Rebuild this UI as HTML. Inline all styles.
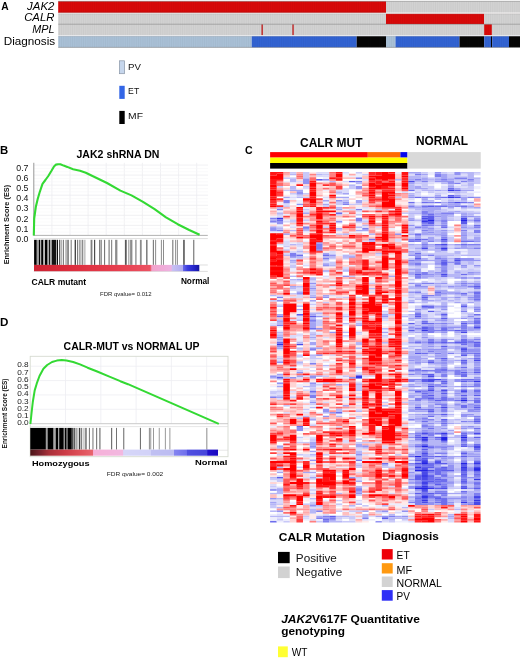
<!DOCTYPE html>
<html><head><meta charset="utf-8"><style>
html,body{margin:0;padding:0;background:#fff;}
body{width:520px;height:658px;position:relative;overflow:hidden;font-family:"Liberation Sans",sans-serif;}
svg{filter:blur(0.3px);}
</style></head><body>
<svg style="position:absolute;left:0;top:0" width="520" height="658" viewBox="0 0 520 658">
<rect x="58.2" y="1.3" width="327.8" height="11.4" fill="#d80a0a"/><rect x="386" y="1.3" width="134" height="11.4" fill="#d2d2d2"/><rect x="58.2" y="13.6" width="327.8" height="10.6" fill="#d2d2d2"/><rect x="386" y="13.6" width="98.2" height="10.6" fill="#d80a0a"/><rect x="484.2" y="13.6" width="35.8" height="10.6" fill="#d2d2d2"/><rect x="58.2" y="24.3" width="461.8" height="11" fill="#d2d2d2"/><rect x="484.2" y="24.3" width="7.6" height="11" fill="#d80a0a"/><rect x="261.5" y="24.3" width="1.3" height="11" fill="#c01818"/><rect x="292.4" y="24.3" width="1.3" height="11" fill="#c01818"/><rect x="58.2" y="36.1" width="193.5" height="11.3" fill="#a9c0d6"/><rect x="251.7" y="36.1" width="105" height="11.3" fill="#3263d2"/><rect x="356.7" y="36.1" width="29.3" height="11.3" fill="#050505"/><rect x="386" y="36.1" width="9.5" height="11.3" fill="#a9c0d6"/><rect x="395.5" y="36.1" width="64" height="11.3" fill="#3263d2"/><rect x="459.5" y="36.1" width="24.7" height="11.3" fill="#050505"/><rect x="484.2" y="36.1" width="6.8" height="11.3" fill="#3263d2"/><rect x="491" y="36.1" width="1.2" height="11.3" fill="#050505"/><rect x="492.2" y="36.1" width="16.8" height="11.3" fill="#3263d2"/><rect x="509" y="36.1" width="11" height="11.3" fill="#050505"/><path d="M59.3 1.3V47.4M61.5 1.3V47.4M63.7 1.3V47.4M65.9 1.3V47.4M68.1 1.3V47.4M70.3 1.3V47.4M72.5 1.3V47.4M74.7 1.3V47.4M76.9 1.3V47.4M79.1 1.3V47.4M81.3 1.3V47.4M83.5 1.3V47.4M85.7 1.3V47.4M87.9 1.3V47.4M90.1 1.3V47.4M92.3 1.3V47.4M94.5 1.3V47.4M96.7 1.3V47.4M98.9 1.3V47.4M101.1 1.3V47.4M103.3 1.3V47.4M105.5 1.3V47.4M107.7 1.3V47.4M109.9 1.3V47.4M112.1 1.3V47.4M114.3 1.3V47.4M116.5 1.3V47.4M118.7 1.3V47.4M120.9 1.3V47.4M123.1 1.3V47.4M125.3 1.3V47.4M127.5 1.3V47.4M129.7 1.3V47.4M131.9 1.3V47.4M134.1 1.3V47.4M136.3 1.3V47.4M138.5 1.3V47.4M140.7 1.3V47.4M142.9 1.3V47.4M145.1 1.3V47.4M147.3 1.3V47.4M149.5 1.3V47.4M151.7 1.3V47.4M153.9 1.3V47.4M156.1 1.3V47.4M158.3 1.3V47.4M160.5 1.3V47.4M162.7 1.3V47.4M164.9 1.3V47.4M167.1 1.3V47.4M169.3 1.3V47.4M171.5 1.3V47.4M173.7 1.3V47.4M175.9 1.3V47.4M178.1 1.3V47.4M180.3 1.3V47.4M182.5 1.3V47.4M184.7 1.3V47.4M186.9 1.3V47.4M189.1 1.3V47.4M191.3 1.3V47.4M193.5 1.3V47.4M195.7 1.3V47.4M197.9 1.3V47.4M200.1 1.3V47.4M202.3 1.3V47.4M204.5 1.3V47.4M206.7 1.3V47.4M208.9 1.3V47.4M211.1 1.3V47.4M213.3 1.3V47.4M215.5 1.3V47.4M217.7 1.3V47.4M219.9 1.3V47.4M222.1 1.3V47.4M224.3 1.3V47.4M226.5 1.3V47.4M228.7 1.3V47.4M230.9 1.3V47.4M233.1 1.3V47.4M235.3 1.3V47.4M237.5 1.3V47.4M239.7 1.3V47.4M241.9 1.3V47.4M244.1 1.3V47.4M246.3 1.3V47.4M248.5 1.3V47.4M250.7 1.3V47.4M252.9 1.3V47.4M255.1 1.3V47.4M257.3 1.3V47.4M259.5 1.3V47.4M261.7 1.3V47.4M263.9 1.3V47.4M266.1 1.3V47.4M268.3 1.3V47.4M270.5 1.3V47.4M272.7 1.3V47.4M274.9 1.3V47.4M277.1 1.3V47.4M279.3 1.3V47.4M281.5 1.3V47.4M283.7 1.3V47.4M285.9 1.3V47.4M288.1 1.3V47.4M290.3 1.3V47.4M292.5 1.3V47.4M294.7 1.3V47.4M296.9 1.3V47.4M299.1 1.3V47.4M301.3 1.3V47.4M303.5 1.3V47.4M305.7 1.3V47.4M307.9 1.3V47.4M310.1 1.3V47.4M312.3 1.3V47.4M314.5 1.3V47.4M316.7 1.3V47.4M318.9 1.3V47.4M321.1 1.3V47.4M323.3 1.3V47.4M325.5 1.3V47.4M327.7 1.3V47.4M329.9 1.3V47.4M332.1 1.3V47.4M334.3 1.3V47.4M336.5 1.3V47.4M338.7 1.3V47.4M340.9 1.3V47.4M343.1 1.3V47.4M345.3 1.3V47.4M347.5 1.3V47.4M349.7 1.3V47.4M351.9 1.3V47.4M354.1 1.3V47.4M356.3 1.3V47.4M358.5 1.3V47.4M360.7 1.3V47.4M362.9 1.3V47.4M365.1 1.3V47.4M367.3 1.3V47.4M369.5 1.3V47.4M371.7 1.3V47.4M373.9 1.3V47.4M376.1 1.3V47.4M378.3 1.3V47.4M380.5 1.3V47.4M382.7 1.3V47.4M384.9 1.3V47.4M387.1 1.3V47.4M389.3 1.3V47.4M391.5 1.3V47.4M393.7 1.3V47.4M395.9 1.3V47.4M398.1 1.3V47.4M400.3 1.3V47.4M402.5 1.3V47.4M404.7 1.3V47.4M406.9 1.3V47.4M409.1 1.3V47.4M411.3 1.3V47.4M413.5 1.3V47.4M415.7 1.3V47.4M417.9 1.3V47.4M420.1 1.3V47.4M422.3 1.3V47.4M424.5 1.3V47.4M426.7 1.3V47.4M428.9 1.3V47.4M431.1 1.3V47.4M433.3 1.3V47.4M435.5 1.3V47.4M437.7 1.3V47.4M439.9 1.3V47.4M442.1 1.3V47.4M444.3 1.3V47.4M446.5 1.3V47.4M448.7 1.3V47.4M450.9 1.3V47.4M453.1 1.3V47.4M455.3 1.3V47.4M457.5 1.3V47.4M459.7 1.3V47.4M461.9 1.3V47.4M464.1 1.3V47.4M466.3 1.3V47.4M468.5 1.3V47.4M470.7 1.3V47.4M472.9 1.3V47.4M475.1 1.3V47.4M477.3 1.3V47.4M479.5 1.3V47.4M481.7 1.3V47.4M483.9 1.3V47.4M486.1 1.3V47.4M488.3 1.3V47.4M490.5 1.3V47.4M492.7 1.3V47.4M494.9 1.3V47.4M497.1 1.3V47.4M499.3 1.3V47.4M501.5 1.3V47.4M503.7 1.3V47.4M505.9 1.3V47.4M508.1 1.3V47.4M510.3 1.3V47.4M512.5 1.3V47.4M514.7 1.3V47.4M516.9 1.3V47.4M519.1 1.3V47.4" stroke="#000" stroke-opacity="0.06" stroke-width="0.6"/><rect x="58.2" y="12.7" width="461.8" height="0.9" fill="#eeeaea"/><rect x="58.2" y="35.3" width="461.8" height="0.8" fill="#e8eaee"/><path d="M58.2 24.25H520M58.2 47.4H520M58.2 1.3H520" stroke="#6a6a6a" stroke-opacity="0.6" stroke-width="0.8"/><path d="M58.2 13.9H520M58.2 36.4H520" stroke="#808080" stroke-opacity="0.35" stroke-width="0.6"/><path d="M58.2 12.3H386" stroke="#900" stroke-opacity="0.6" stroke-width="0.8"/>
<g font-family="'Liberation Sans', sans-serif">
<text x="1.2" y="9.6" font-size="10" font-weight="bold" font-style="normal" text-anchor="start" fill="#000" textLength="7.4" lengthAdjust="spacingAndGlyphs">A</text>
<text x="27.1" y="9.6" font-size="10.6" font-weight="normal" font-style="italic" text-anchor="start" fill="#000" textLength="27.3" lengthAdjust="spacingAndGlyphs">JAK2</text>
<text x="24.2" y="21.3" font-size="10.6" font-weight="normal" font-style="italic" text-anchor="start" fill="#000" textLength="30.2" lengthAdjust="spacingAndGlyphs">CALR</text>
<text x="32.3" y="32.6" font-size="10.6" font-weight="normal" font-style="italic" text-anchor="start" fill="#000" textLength="22.2" lengthAdjust="spacingAndGlyphs">MPL</text>
<text x="3.7" y="44.5" font-size="10.6" font-weight="normal" font-style="normal" text-anchor="start" fill="#000" textLength="51.5" lengthAdjust="spacingAndGlyphs">Diagnosis</text>
<rect x="119.4" y="60.8" width="5.2" height="12.9" fill="#c6d6ec" stroke="#8a96a6" stroke-width="0.7"/>
<rect x="119.3" y="85.8" width="5.4" height="13.1" fill="#3366e6"/>
<rect x="119.3" y="110.9" width="5.4" height="13.1" fill="#000"/>
<text x="128.1" y="69.6" font-size="9.6" font-weight="normal" font-style="normal" text-anchor="start" fill="#111" textLength="12.9" lengthAdjust="spacingAndGlyphs">PV</text>
<text x="128.1" y="93.8" font-size="9.6" font-weight="normal" font-style="normal" text-anchor="start" fill="#111" textLength="11.1" lengthAdjust="spacingAndGlyphs">ET</text>
<text x="128.1" y="118.9" font-size="9.6" font-weight="normal" font-style="normal" text-anchor="start" fill="#111" textLength="14.9" lengthAdjust="spacingAndGlyphs">MF</text>
<text x="0" y="153.9" font-size="11" font-weight="bold" font-style="normal" text-anchor="start" fill="#000" textLength="8.2" lengthAdjust="spacingAndGlyphs">B</text>
<text x="76.5" y="157.7" font-size="10.4" font-weight="bold" font-style="normal" text-anchor="start" fill="#000" textLength="82.9" lengthAdjust="spacingAndGlyphs">JAK2 shRNA DN</text>
<path d="M51.9 162.8V235M70 162.8V235M88.1 162.8V235M106.2 162.8V235M124.3 162.8V235M142.4 162.8V235M160.5 162.8V235M178.6 162.8V235M196.7 162.8V235M34 225.35H208M34 215.3H208M34 205.25H208M34 195.2H208M34 185.15H208M34 175.1H208M34 165.05H208" stroke="#ececf0" stroke-width="0.8"/>
<path d="M34 232.08H208M34 228.77H208M34 222.03H208M34 218.72H208M34 211.98H208M34 208.67H208M34 201.93H208M34 198.62H208M34 191.88H208M34 188.57H208M34 181.83H208M34 178.52H208M34 171.78H208M34 168.47H208" stroke="#f6f6f8" stroke-width="0.6"/>
<path d="M33.8 162.8V235.6" stroke="#8c8c8c" stroke-width="0.9"/>
<path d="M33.8 235.4H207.8" stroke="#a8a8a8" stroke-width="0.9"/>
<path d="M33.8 238.6H207.8M199.3 265H207.8M33.8 271.4H207.8" stroke="#d0d0d0" stroke-width="0.7"/>
<text x="28.5" y="170.55" font-size="9.4" font-weight="normal" font-style="normal" text-anchor="end" fill="#111" textLength="12.2" lengthAdjust="spacingAndGlyphs">0.7</text>
<text x="28.5" y="180.77" font-size="9.4" font-weight="normal" font-style="normal" text-anchor="end" fill="#111" textLength="12.2" lengthAdjust="spacingAndGlyphs">0.6</text>
<text x="28.5" y="190.99" font-size="9.4" font-weight="normal" font-style="normal" text-anchor="end" fill="#111" textLength="12.2" lengthAdjust="spacingAndGlyphs">0.5</text>
<text x="28.5" y="201.21" font-size="9.4" font-weight="normal" font-style="normal" text-anchor="end" fill="#111" textLength="12.2" lengthAdjust="spacingAndGlyphs">0.4</text>
<text x="28.5" y="211.43" font-size="9.4" font-weight="normal" font-style="normal" text-anchor="end" fill="#111" textLength="12.2" lengthAdjust="spacingAndGlyphs">0.3</text>
<text x="28.5" y="221.65" font-size="9.4" font-weight="normal" font-style="normal" text-anchor="end" fill="#111" textLength="12.2" lengthAdjust="spacingAndGlyphs">0.2</text>
<text x="28.5" y="231.87" font-size="9.4" font-weight="normal" font-style="normal" text-anchor="end" fill="#111" textLength="12.2" lengthAdjust="spacingAndGlyphs">0.1</text>
<text x="28.5" y="242.09" font-size="9.4" font-weight="normal" font-style="normal" text-anchor="end" fill="#111" textLength="12.2" lengthAdjust="spacingAndGlyphs">0.0</text>
<text transform="translate(9.1,224.6) rotate(-90)" x="0" y="0" font-size="7.1" font-weight="bold" text-anchor="middle" textLength="79.4" lengthAdjust="spacingAndGlyphs" fill="#111">Enrichment Score (ES)</text>
<rect x="34.1" y="239.8" width="2.7" height="25.1" fill="#000000"/>
<rect x="36.8" y="239.8" width="2.1" height="25.1" fill="#9e9e9e"/>
<rect x="38.9" y="239.8" width="1.2" height="25.1" fill="#000000"/>
<rect x="40.1" y="239.8" width="1.1" height="25.1" fill="#adadad"/>
<rect x="41.2" y="239.8" width="2.3" height="25.1" fill="#000000"/>
<rect x="43.5" y="239.8" width="1.4" height="25.1" fill="#cccccc"/>
<rect x="44.9" y="239.8" width="2.7" height="25.1" fill="#000000"/>
<rect x="47.6" y="239.8" width="1.5" height="25.1" fill="#adadad"/>
<rect x="49.1" y="239.8" width="1.1" height="25.1" fill="#000000"/>
<rect x="50.2" y="239.8" width="1.6" height="25.1" fill="#a8a8a8"/>
<rect x="51.8" y="239.8" width="4.4" height="25.1" fill="#141414"/>
<rect x="56.8" y="239.8" width="1.2" height="25.1" fill="#0d0d0d"/>
<rect x="59.1" y="239.8" width="1.2" height="25.1" fill="#4c4c4c"/>
<rect x="61.4" y="239.8" width="0.8" height="25.1" fill="#808080"/>
<rect x="63" y="239.8" width="1" height="25.1" fill="#808080"/>
<rect x="65.5" y="239.8" width="1.1" height="25.1" fill="#8c8c8c"/>
<rect x="67.2" y="239.8" width="1.7" height="25.1" fill="#808080"/>
<rect x="70.6" y="239.8" width="1.2" height="25.1" fill="#8c8c8c"/>
<rect x="74.7" y="239.8" width="1.1" height="25.1" fill="#1a1a1a"/>
<rect x="77" y="239.8" width="1.2" height="25.1" fill="#808080"/>
<rect x="79.3" y="239.8" width="1.2" height="25.1" fill="#808080"/>
<rect x="81.6" y="239.8" width="1.7" height="25.1" fill="#8c8c8c"/>
<rect x="84.5" y="239.8" width="0.8" height="25.1" fill="#8c8c8c"/>
<rect x="90.6" y="239.8" width="1.8" height="25.1" fill="#808080"/>
<rect x="94" y="239.8" width="1.2" height="25.1" fill="#4c4c4c"/>
<rect x="99" y="239.8" width="1.5" height="25.1" fill="#808080"/>
<rect x="100.9" y="239.8" width="0.9" height="25.1" fill="#808080"/>
<rect x="104.2" y="239.8" width="0.9" height="25.1" fill="#595959"/>
<rect x="108.5" y="239.8" width="1.2" height="25.1" fill="#808080"/>
<rect x="111.1" y="239.8" width="1.1" height="25.1" fill="#808080"/>
<rect x="115.1" y="239.8" width="2.3" height="25.1" fill="#8c8c8c"/>
<rect x="124.9" y="239.8" width="1.8" height="25.1" fill="#595959"/>
<rect x="128.4" y="239.8" width="0.9" height="25.1" fill="#808080"/>
<rect x="130.1" y="239.8" width="2.3" height="25.1" fill="#8c8c8c"/>
<rect x="135.3" y="239.8" width="1.2" height="25.1" fill="#808080"/>
<rect x="139.9" y="239.8" width="1.8" height="25.1" fill="#8c8c8c"/>
<rect x="146.3" y="239.8" width="1.1" height="25.1" fill="#4c4c4c"/>
<rect x="152.8" y="239.8" width="1.2" height="25.1" fill="#808080"/>
<rect x="155.2" y="239.8" width="0.9" height="25.1" fill="#808080"/>
<rect x="160.9" y="239.8" width="0.9" height="25.1" fill="#808080"/>
<rect x="163" y="239.8" width="0.9" height="25.1" fill="#808080"/>
<rect x="172.2" y="239.8" width="1.2" height="25.1" fill="#808080"/>
<rect x="175.1" y="239.8" width="0.8" height="25.1" fill="#808080"/>
<rect x="176.8" y="239.8" width="1" height="25.1" fill="#808080"/>
<rect x="183.2" y="239.8" width="1.5" height="25.1" fill="#4c4c4c"/>
<rect x="193" y="239.8" width="1.4" height="25.1" fill="#8c8c8c"/>
<defs><linearGradient id="gB" x1="34" x2="199.3" y1="0" y2="0" gradientUnits="userSpaceOnUse"><stop offset="0" stop-color="#cc2232"/><stop offset="0.2" stop-color="#dc2c3c"/><stop offset="0.5" stop-color="#e63e4e"/><stop offset="0.7" stop-color="#ec5262"/><stop offset="0.708" stop-color="#f06a80"/><stop offset="0.712" stop-color="#f2a2ca"/><stop offset="0.83" stop-color="#eeb2e2"/><stop offset="0.836" stop-color="#c8c0f2"/><stop offset="0.9" stop-color="#b0acf0"/><stop offset="0.904" stop-color="#6464e8"/><stop offset="0.93" stop-color="#3a3ade"/><stop offset="0.97" stop-color="#2424c8"/><stop offset="1" stop-color="#14149e"/></linearGradient><linearGradient id="gD" x1="30.25" x2="218" y1="0" y2="0" gradientUnits="userSpaceOnUse"><stop offset="0" stop-color="#4a1416"/><stop offset="0.045" stop-color="#70202a"/><stop offset="0.1" stop-color="#a83038"/><stop offset="0.185" stop-color="#cc3c46"/><stop offset="0.265" stop-color="#de5058"/><stop offset="0.334" stop-color="#e8646e"/><stop offset="0.337" stop-color="#f6b0d8"/><stop offset="0.494" stop-color="#f2b8e0"/><stop offset="0.497" stop-color="#d6d6f8"/><stop offset="0.641" stop-color="#d2d2f8"/><stop offset="0.645" stop-color="#c0c0f2"/><stop offset="0.765" stop-color="#bcbcf2"/><stop offset="0.768" stop-color="#8484f0"/><stop offset="0.832" stop-color="#7070ec"/><stop offset="0.835" stop-color="#5050e0"/><stop offset="0.942" stop-color="#4646da"/><stop offset="0.945" stop-color="#2212cc"/><stop offset="1" stop-color="#1a0ac0"/></linearGradient></defs>
<rect x="34" y="264.9" width="165.3" height="6.3" fill="url(#gB)"/>
<polyline points="33.8,235.4 34.2,218.5 35.8,207 37.7,199 39.6,192.5 42.5,183.8 45.4,180 48.3,176 51.2,171.3 54,166.5 56,164.6 58,164.2 60.4,164.3 63.6,165.6 67.3,166.9 73.1,169.3 80,170.8 85.8,172.7 93.5,176.5 107,183 120.4,190.6 131.5,195.4 143,201.8 154.6,209.2 166,217.3 177.7,224.2 189.2,230 199.6,234.8" fill="none" stroke="#33d933" stroke-width="2.1" stroke-linejoin="round"/>
<text x="31.5" y="284.8" font-size="8.4" font-weight="bold" font-style="normal" text-anchor="start" fill="#000" textLength="54.7" lengthAdjust="spacingAndGlyphs">CALR mutant</text>
<text x="180.9" y="283.5" font-size="8.4" font-weight="bold" font-style="normal" text-anchor="start" fill="#000" textLength="28.5" lengthAdjust="spacingAndGlyphs">Normal</text>
<text x="100" y="295.8" font-size="6" font-weight="normal" font-style="normal" text-anchor="start" fill="#222" textLength="51.7" lengthAdjust="spacingAndGlyphs">FDR qvalue= 0.012</text>
<text x="0" y="326.3" font-size="10.6" font-weight="bold" font-style="normal" text-anchor="start" fill="#000" textLength="8.4" lengthAdjust="spacingAndGlyphs">D</text>
<text x="63.6" y="349.8" font-size="10.5" font-weight="bold" font-style="normal" text-anchor="start" fill="#000" textLength="136" lengthAdjust="spacingAndGlyphs">CALR-MUT vs NORMAL UP</text>
<path d="M65.5 356.5V423.5M100.8 356.5V423.5M136.1 356.5V423.5M171.4 356.5V423.5M206.7 356.5V423.5M30.5 409.32H227.8M30.5 394.94H227.8M30.5 380.56H227.8M30.5 366.18H227.8" stroke="#ededf2" stroke-width="0.8"/>
<rect x="30.2" y="356.3" width="197.8" height="100.4" fill="none" stroke="#d6dad0" stroke-width="0.9"/>
<path d="M30.2 423.7H228" stroke="#c4c4c4" stroke-width="0.9"/>
<path d="M30.2 426.6H228M218 450.2H228" stroke="#dcdcdc" stroke-width="0.7"/>
<rect x="30.25" y="427.9" width="15.65" height="21.7" fill="#000000"/>
<rect x="45.9" y="427.9" width="1.7" height="21.7" fill="#9e9e9e"/>
<rect x="47.6" y="427.9" width="6" height="21.7" fill="#000000"/>
<rect x="53.6" y="427.9" width="2.1" height="21.7" fill="#a8a8a8"/>
<rect x="55.7" y="427.9" width="2.5" height="21.7" fill="#000000"/>
<rect x="58.2" y="427.9" width="1" height="21.7" fill="#999999"/>
<rect x="59.2" y="427.9" width="4.6" height="21.7" fill="#000000"/>
<rect x="63.8" y="427.9" width="1.1" height="21.7" fill="#999999"/>
<rect x="64.9" y="427.9" width="1.8" height="21.7" fill="#000000"/>
<rect x="66.7" y="427.9" width="0.8" height="21.7" fill="#999999"/>
<rect x="67.5" y="427.9" width="4.3" height="21.7" fill="#000000"/>
<rect x="71.8" y="427.9" width="1.8" height="21.7" fill="#4c4c4c"/>
<rect x="74.2" y="427.9" width="1.1" height="21.7" fill="#333333"/>
<rect x="75.9" y="427.9" width="1.7" height="21.7" fill="#a6a6a6"/>
<rect x="78.8" y="427.9" width="1.2" height="21.7" fill="#404040"/>
<rect x="80.5" y="427.9" width="1.7" height="21.7" fill="#808080"/>
<rect x="83.4" y="427.9" width="1.1" height="21.7" fill="#b2b2b2"/>
<rect x="85.1" y="427.9" width="1.7" height="21.7" fill="#808080"/>
<rect x="88.9" y="427.9" width="1.1" height="21.7" fill="#808080"/>
<rect x="92.4" y="427.9" width="1.1" height="21.7" fill="#808080"/>
<rect x="96" y="427.9" width="1.2" height="21.7" fill="#808080"/>
<rect x="99.3" y="427.9" width="1.2" height="21.7" fill="#737373"/>
<rect x="111" y="427.9" width="1.2" height="21.7" fill="#737373"/>
<rect x="116" y="427.9" width="1" height="21.7" fill="#737373"/>
<rect x="123.2" y="427.9" width="1.1" height="21.7" fill="#737373"/>
<rect x="139.9" y="427.9" width="1.1" height="21.7" fill="#737373"/>
<rect x="148.9" y="427.9" width="0.9" height="21.7" fill="#808080"/>
<rect x="150.4" y="427.9" width="0.8" height="21.7" fill="#808080"/>
<rect x="153.1" y="427.9" width="0.8" height="21.7" fill="#808080"/>
<rect x="158.8" y="427.9" width="0.8" height="21.7" fill="#808080"/>
<rect x="164.9" y="427.9" width="0.8" height="21.7" fill="#808080"/>
<rect x="169.5" y="427.9" width="0.8" height="21.7" fill="#808080"/>
<rect x="206.4" y="427.9" width="0.9" height="21.7" fill="#808080"/>
<rect x="30.25" y="449.6" width="187.75" height="6.1" fill="url(#gD)"/>
<polyline points="30.4,424 31.5,413.5 32.8,402 34.7,390.4 36.7,383.7 39.5,376 43.4,368.8 47.2,365 52,362 56.8,360.6 61.7,360 66.5,360.6 73.2,362 80,364.4 87.6,367.7 97.2,371.5 108.8,376.3 120.3,381.2 128,384.2 218.8,423.9" fill="none" stroke="#33d933" stroke-width="2" stroke-linejoin="round"/>
<text x="28.7" y="367.45" font-size="7.3" font-weight="normal" font-style="normal" text-anchor="end" fill="#222" textLength="11.5" lengthAdjust="spacingAndGlyphs">0.8</text>
<text x="28.7" y="374.68" font-size="7.3" font-weight="normal" font-style="normal" text-anchor="end" fill="#222" textLength="11.5" lengthAdjust="spacingAndGlyphs">0.7</text>
<text x="28.7" y="381.91" font-size="7.3" font-weight="normal" font-style="normal" text-anchor="end" fill="#222" textLength="11.5" lengthAdjust="spacingAndGlyphs">0.6</text>
<text x="28.7" y="389.14" font-size="7.3" font-weight="normal" font-style="normal" text-anchor="end" fill="#222" textLength="11.5" lengthAdjust="spacingAndGlyphs">0.5</text>
<text x="28.7" y="396.37" font-size="7.3" font-weight="normal" font-style="normal" text-anchor="end" fill="#222" textLength="11.5" lengthAdjust="spacingAndGlyphs">0.4</text>
<text x="28.7" y="403.6" font-size="7.3" font-weight="normal" font-style="normal" text-anchor="end" fill="#222" textLength="11.5" lengthAdjust="spacingAndGlyphs">0.3</text>
<text x="28.7" y="410.83" font-size="7.3" font-weight="normal" font-style="normal" text-anchor="end" fill="#222" textLength="11.5" lengthAdjust="spacingAndGlyphs">0.2</text>
<text x="28.7" y="418.06" font-size="7.3" font-weight="normal" font-style="normal" text-anchor="end" fill="#222" textLength="11.5" lengthAdjust="spacingAndGlyphs">0.1</text>
<text x="28.7" y="425.29" font-size="7.3" font-weight="normal" font-style="normal" text-anchor="end" fill="#222" textLength="11.5" lengthAdjust="spacingAndGlyphs">0.0</text>
<text transform="translate(7.2,413.5) rotate(-90)" x="0" y="0" font-size="7" font-weight="bold" text-anchor="middle" textLength="69.8" lengthAdjust="spacingAndGlyphs" fill="#111">Enrichment Score (ES)</text>
<text x="31.9" y="465.8" font-size="7.4" font-weight="bold" font-style="normal" text-anchor="start" fill="#000" textLength="57.7" lengthAdjust="spacingAndGlyphs">Homozygous</text>
<text x="195" y="464.6" font-size="7.4" font-weight="bold" font-style="normal" text-anchor="start" fill="#000" textLength="32.3" lengthAdjust="spacingAndGlyphs">Normal</text>
<text x="106.7" y="476.1" font-size="6" font-weight="normal" font-style="normal" text-anchor="start" fill="#222" textLength="56.5" lengthAdjust="spacingAndGlyphs">FDR qvalue= 0.002</text>
<text x="245" y="153.9" font-size="11" font-weight="bold" font-style="normal" text-anchor="start" fill="#000" textLength="7.6" lengthAdjust="spacingAndGlyphs">C</text>
<text x="300" y="146.7" font-size="12" font-weight="bold" font-style="normal" text-anchor="start" fill="#000" textLength="62.5" lengthAdjust="spacingAndGlyphs">CALR MUT</text>
<text x="416" y="145.2" font-size="12" font-weight="bold" font-style="normal" text-anchor="start" fill="#000" textLength="52" lengthAdjust="spacingAndGlyphs">NORMAL</text>
<rect x="270.1" y="152.1" width="97.7" height="5.5" fill="#ff0000"/>
<rect x="367.8" y="152.1" width="32.6" height="5.5" fill="#ff6a00"/>
<rect x="400.4" y="152.1" width="7.1" height="5.5" fill="#0808ee"/>
<rect x="270.1" y="157.6" width="137.4" height="5.4" fill="#ffff00"/>
<rect x="270.1" y="163" width="137.4" height="5.6" fill="#000000"/>
<rect x="407.5" y="152.1" width="73.25" height="16.5" fill="#d9d9d9"/>
<filter id="bl" x="-2%" y="-2%" width="104%" height="104%"><feGaussianBlur stdDeviation="0.45"/></filter><g filter="url(#bl)">
<path fill="#2424e4" d="M427.9 219.3h6.62v1.8h-6.62zM460.77 219.3h6.62v1.8h-6.62zM460.77 399.76h6.62v1.8h-6.62zM421.33 436.55h6.62v1.8h-6.62zM441.05 436.55h6.62v1.8h-6.62zM460.77 436.55h6.62v1.8h-6.62zM441.05 438.3h6.62v1.8h-6.62zM421.33 445.31h6.62v1.8h-6.62zM414.75 455.82h6.62v1.8h-6.62zM421.33 462.83h6.62v1.8h-6.62zM460.77 462.83h6.62v1.8h-6.62zM473.93 468.09h6.62v1.8h-6.62zM414.75 469.84h6.62v1.8h-6.62zM421.33 469.84h6.62v1.8h-6.62zM414.75 487.36h6.62v1.8h-6.62zM421.33 487.36h6.62v1.8h-6.62zM421.33 496.12h6.62v1.8h-6.62z"/>
<path fill="#3636e6" d="M447.62 189.52h6.62v1.8h-6.62zM447.62 196.53h6.62v1.8h-6.62zM276.68 217.55h6.62v1.8h-6.62zM421.33 221.06h6.62v1.8h-6.62zM441.05 247.34h6.62v1.8h-6.62zM421.33 329.68h6.62v1.8h-6.62zM276.68 343.7h6.62v1.8h-6.62zM355.58 375.23h6.62v1.8h-6.62zM355.58 376.98h6.62v1.8h-6.62zM473.93 380.49h6.62v1.8h-6.62zM441.05 433.05h6.62v1.8h-6.62zM421.33 438.3h6.62v1.8h-6.62zM421.33 461.08h6.62v1.8h-6.62zM473.93 462.83h6.62v1.8h-6.62zM414.75 466.34h6.62v1.8h-6.62zM460.77 466.34h6.62v1.8h-6.62zM473.93 469.84h6.62v1.8h-6.62zM421.33 475.1h6.62v1.8h-6.62zM473.93 478.6h6.62v1.8h-6.62zM421.33 482.1h6.62v1.8h-6.62zM421.33 485.61h6.62v1.8h-6.62zM427.9 487.36h6.62v1.8h-6.62zM473.93 496.12h6.62v1.8h-6.62zM421.33 499.62h6.62v1.8h-6.62zM473.93 499.62h6.62v1.8h-6.62zM460.77 501.38h6.62v1.8h-6.62z"/>
<path fill="#4848e8" d="M408.18 180.76h6.62v1.8h-6.62zM454.2 196.53h6.62v1.8h-6.62zM454.2 201.78h6.62v1.8h-6.62zM421.33 217.55h6.62v1.8h-6.62zM460.77 217.55h6.62v1.8h-6.62zM441.05 238.58h6.62v1.8h-6.62zM441.05 243.83h6.62v1.8h-6.62zM421.33 247.34h6.62v1.8h-6.62zM454.2 259.6h6.62v1.8h-6.62zM441.05 273.62h6.62v1.8h-6.62zM473.93 326.18h6.62v1.8h-6.62zM460.77 331.43h6.62v1.8h-6.62zM296.4 343.7h6.62v1.8h-6.62zM460.77 348.95h6.62v1.8h-6.62zM473.93 359.46h6.62v1.8h-6.62zM427.9 375.23h6.62v1.8h-6.62zM427.9 378.74h6.62v1.8h-6.62zM434.48 378.74h6.62v1.8h-6.62zM427.9 380.49h6.62v1.8h-6.62zM427.9 385.74h6.62v1.8h-6.62zM427.9 389.25h6.62v1.8h-6.62zM441.05 389.25h6.62v1.8h-6.62zM460.77 391h6.62v1.8h-6.62zM441.05 406.77h6.62v1.8h-6.62zM421.33 433.05h6.62v1.8h-6.62zM473.93 433.05h6.62v1.8h-6.62zM421.33 440.06h6.62v1.8h-6.62zM441.05 440.06h6.62v1.8h-6.62zM473.93 445.31h6.62v1.8h-6.62zM473.93 447.06h6.62v1.8h-6.62zM421.33 452.32h6.62v1.8h-6.62zM421.33 459.33h6.62v1.8h-6.62zM434.48 461.08h6.62v1.8h-6.62zM414.75 462.83h6.62v1.8h-6.62zM473.93 466.34h6.62v1.8h-6.62zM421.33 468.09h6.62v1.8h-6.62zM460.77 468.09h6.62v1.8h-6.62zM427.9 469.84h6.62v1.8h-6.62zM460.77 469.84h6.62v1.8h-6.62zM421.33 471.59h6.62v1.8h-6.62zM421.33 473.34h6.62v1.8h-6.62zM421.33 476.85h6.62v1.8h-6.62zM421.33 478.6h6.62v1.8h-6.62zM441.05 487.36h6.62v1.8h-6.62zM460.77 487.36h6.62v1.8h-6.62zM421.33 489.11h6.62v1.8h-6.62zM421.33 501.38h6.62v1.8h-6.62zM473.93 501.38h6.62v1.8h-6.62zM473.93 503.13h6.62v1.8h-6.62z"/>
<path fill="#5b5beb" d="M316.12 179.01h6.62v1.8h-6.62zM349 180.76h6.62v1.8h-6.62zM454.2 189.52h6.62v1.8h-6.62zM447.62 194.78h6.62v1.8h-6.62zM427.9 205.29h6.62v1.8h-6.62zM421.33 215.8h6.62v1.8h-6.62zM427.9 215.8h6.62v1.8h-6.62zM427.9 217.55h6.62v1.8h-6.62zM421.33 219.3h6.62v1.8h-6.62zM427.9 221.06h6.62v1.8h-6.62zM460.77 221.06h6.62v1.8h-6.62zM427.9 222.81h6.62v1.8h-6.62zM460.77 222.81h6.62v1.8h-6.62zM414.75 238.58h6.62v1.8h-6.62zM414.75 257.85h6.62v1.8h-6.62zM441.05 261.35h6.62v1.8h-6.62zM441.05 263.1h6.62v1.8h-6.62zM414.75 273.62h6.62v1.8h-6.62zM473.93 285.88h6.62v1.8h-6.62zM421.33 296.39h6.62v1.8h-6.62zM421.33 305.15h6.62v1.8h-6.62zM460.77 305.15h6.62v1.8h-6.62zM427.9 310.41h6.62v1.8h-6.62zM296.4 313.91h6.62v1.8h-6.62zM441.05 313.91h6.62v1.8h-6.62zM309.55 315.66h6.62v1.8h-6.62zM414.75 315.66h6.62v1.8h-6.62zM441.05 317.42h6.62v1.8h-6.62zM408.18 322.67h6.62v1.8h-6.62zM421.33 322.67h6.62v1.8h-6.62zM460.77 322.67h6.62v1.8h-6.62zM421.33 326.18h6.62v1.8h-6.62zM421.33 327.93h6.62v1.8h-6.62zM408.18 329.68h6.62v1.8h-6.62zM454.2 329.68h6.62v1.8h-6.62zM427.9 341.94h6.62v1.8h-6.62zM441.05 341.94h6.62v1.8h-6.62zM454.2 341.94h6.62v1.8h-6.62zM460.77 341.94h6.62v1.8h-6.62zM473.93 341.94h6.62v1.8h-6.62zM441.05 345.45h6.62v1.8h-6.62zM460.77 347.2h6.62v1.8h-6.62zM414.75 352.46h6.62v1.8h-6.62zM460.77 354.21h6.62v1.8h-6.62zM441.05 357.71h6.62v1.8h-6.62zM460.77 359.46h6.62v1.8h-6.62zM427.9 361.22h6.62v1.8h-6.62zM460.77 371.73h6.62v1.8h-6.62zM473.93 371.73h6.62v1.8h-6.62zM427.9 373.48h6.62v1.8h-6.62zM276.68 376.98h6.62v1.8h-6.62zM421.33 378.74h6.62v1.8h-6.62zM421.33 380.49h6.62v1.8h-6.62zM441.05 380.49h6.62v1.8h-6.62zM460.77 380.49h6.62v1.8h-6.62zM460.77 389.25h6.62v1.8h-6.62zM414.75 391h6.62v1.8h-6.62zM441.05 392.75h6.62v1.8h-6.62zM427.9 394.5h6.62v1.8h-6.62zM460.77 394.5h6.62v1.8h-6.62zM473.93 394.5h6.62v1.8h-6.62zM427.9 398.01h6.62v1.8h-6.62zM460.77 398.01h6.62v1.8h-6.62zM434.48 399.76h6.62v1.8h-6.62zM414.75 406.77h6.62v1.8h-6.62zM473.93 406.77h6.62v1.8h-6.62zM427.9 410.27h6.62v1.8h-6.62zM441.05 413.78h6.62v1.8h-6.62zM441.05 419.03h6.62v1.8h-6.62zM473.93 420.78h6.62v1.8h-6.62zM460.77 434.8h6.62v1.8h-6.62zM414.75 436.55h6.62v1.8h-6.62zM434.48 436.55h6.62v1.8h-6.62zM473.93 436.55h6.62v1.8h-6.62zM460.77 438.3h6.62v1.8h-6.62zM460.77 440.06h6.62v1.8h-6.62zM460.77 445.31h6.62v1.8h-6.62zM421.33 448.82h6.62v1.8h-6.62zM460.77 452.32h6.62v1.8h-6.62zM434.48 455.82h6.62v1.8h-6.62zM460.77 455.82h6.62v1.8h-6.62zM421.33 457.58h6.62v1.8h-6.62zM414.75 459.33h6.62v1.8h-6.62zM473.93 461.08h6.62v1.8h-6.62zM434.48 462.83h6.62v1.8h-6.62zM441.05 462.83h6.62v1.8h-6.62zM460.77 464.58h6.62v1.8h-6.62zM421.33 466.34h6.62v1.8h-6.62zM427.9 466.34h6.62v1.8h-6.62zM441.05 466.34h6.62v1.8h-6.62zM441.05 469.84h6.62v1.8h-6.62zM447.62 469.84h6.62v1.8h-6.62zM460.77 473.34h6.62v1.8h-6.62zM414.75 475.1h6.62v1.8h-6.62zM427.9 475.1h6.62v1.8h-6.62zM276.68 476.85h6.62v1.8h-6.62zM414.75 476.85h6.62v1.8h-6.62zM414.75 478.6h6.62v1.8h-6.62zM434.48 478.6h6.62v1.8h-6.62zM421.33 480.35h6.62v1.8h-6.62zM427.9 480.35h6.62v1.8h-6.62zM460.77 480.35h6.62v1.8h-6.62zM421.33 483.86h6.62v1.8h-6.62zM434.48 483.86h6.62v1.8h-6.62zM460.77 485.61h6.62v1.8h-6.62zM434.48 487.36h6.62v1.8h-6.62zM473.93 487.36h6.62v1.8h-6.62zM421.33 490.86h6.62v1.8h-6.62zM414.75 492.62h6.62v1.8h-6.62zM427.9 492.62h6.62v1.8h-6.62zM421.33 494.37h6.62v1.8h-6.62zM421.33 497.87h6.62v1.8h-6.62zM434.48 497.87h6.62v1.8h-6.62zM329.28 515.39h6.62v1.8h-6.62zM381.88 517.14h6.62v1.8h-6.62z"/>
<path fill="#6d6ded" d="M447.62 187.77h6.62v1.8h-6.62zM408.18 189.52h6.62v1.8h-6.62zM414.75 196.53h6.62v1.8h-6.62zM441.05 196.53h6.62v1.8h-6.62zM408.18 201.78h6.62v1.8h-6.62zM421.33 201.78h6.62v1.8h-6.62zM434.48 201.78h6.62v1.8h-6.62zM460.77 201.78h6.62v1.8h-6.62zM421.33 205.29h6.62v1.8h-6.62zM434.48 205.29h6.62v1.8h-6.62zM441.05 205.29h6.62v1.8h-6.62zM460.77 205.29h6.62v1.8h-6.62zM335.85 212.3h6.62v1.8h-6.62zM427.9 214.05h6.62v1.8h-6.62zM276.68 219.3h6.62v1.8h-6.62zM473.93 219.3h6.62v1.8h-6.62zM421.33 224.56h6.62v1.8h-6.62zM473.93 224.56h6.62v1.8h-6.62zM441.05 226.31h6.62v1.8h-6.62zM414.75 233.32h6.62v1.8h-6.62zM368.73 238.58h6.62v1.8h-6.62zM421.33 238.58h6.62v1.8h-6.62zM408.18 240.33h6.62v1.8h-6.62zM441.05 240.33h6.62v1.8h-6.62zM460.77 240.33h6.62v1.8h-6.62zM467.35 240.33h6.62v1.8h-6.62zM434.48 243.83h6.62v1.8h-6.62zM460.77 243.83h6.62v1.8h-6.62zM441.05 249.09h6.62v1.8h-6.62zM414.75 252.59h6.62v1.8h-6.62zM296.4 254.34h6.62v1.8h-6.62zM322.7 254.34h6.62v1.8h-6.62zM454.2 257.85h6.62v1.8h-6.62zM441.05 259.6h6.62v1.8h-6.62zM414.75 263.1h6.62v1.8h-6.62zM454.2 263.1h6.62v1.8h-6.62zM460.77 273.62h6.62v1.8h-6.62zM441.05 275.37h6.62v1.8h-6.62zM434.48 291.14h6.62v1.8h-6.62zM473.93 291.14h6.62v1.8h-6.62zM460.77 292.89h6.62v1.8h-6.62zM473.93 292.89h6.62v1.8h-6.62zM473.93 298.14h6.62v1.8h-6.62zM427.9 305.15h6.62v1.8h-6.62zM427.9 306.9h6.62v1.8h-6.62zM414.75 313.91h6.62v1.8h-6.62zM473.93 313.91h6.62v1.8h-6.62zM276.68 315.66h6.62v1.8h-6.62zM473.93 317.42h6.62v1.8h-6.62zM421.33 320.92h6.62v1.8h-6.62zM473.93 320.92h6.62v1.8h-6.62zM427.9 322.67h6.62v1.8h-6.62zM473.93 322.67h6.62v1.8h-6.62zM309.55 327.93h6.62v1.8h-6.62zM441.05 327.93h6.62v1.8h-6.62zM441.05 329.68h6.62v1.8h-6.62zM460.77 329.68h6.62v1.8h-6.62zM460.77 338.44h6.62v1.8h-6.62zM460.77 340.19h6.62v1.8h-6.62zM276.68 341.94h6.62v1.8h-6.62zM414.75 341.94h6.62v1.8h-6.62zM460.77 343.7h6.62v1.8h-6.62zM473.93 343.7h6.62v1.8h-6.62zM473.93 345.45h6.62v1.8h-6.62zM460.77 350.7h6.62v1.8h-6.62zM421.33 352.46h6.62v1.8h-6.62zM473.93 352.46h6.62v1.8h-6.62zM473.93 357.71h6.62v1.8h-6.62zM460.77 361.22h6.62v1.8h-6.62zM460.77 366.47h6.62v1.8h-6.62zM441.05 368.22h6.62v1.8h-6.62zM408.18 369.98h6.62v1.8h-6.62zM421.33 369.98h6.62v1.8h-6.62zM441.05 369.98h6.62v1.8h-6.62zM421.33 373.48h6.62v1.8h-6.62zM460.77 373.48h6.62v1.8h-6.62zM460.77 375.23h6.62v1.8h-6.62zM460.77 378.74h6.62v1.8h-6.62zM467.35 378.74h6.62v1.8h-6.62zM441.05 382.24h6.62v1.8h-6.62zM441.05 385.74h6.62v1.8h-6.62zM460.77 385.74h6.62v1.8h-6.62zM473.93 389.25h6.62v1.8h-6.62zM309.55 391h6.62v1.8h-6.62zM473.93 391h6.62v1.8h-6.62zM421.33 392.75h6.62v1.8h-6.62zM441.05 396.26h6.62v1.8h-6.62zM441.05 398.01h6.62v1.8h-6.62zM441.05 399.76h6.62v1.8h-6.62zM454.2 399.76h6.62v1.8h-6.62zM473.93 399.76h6.62v1.8h-6.62zM473.93 401.51h6.62v1.8h-6.62zM460.77 405.02h6.62v1.8h-6.62zM460.77 406.77h6.62v1.8h-6.62zM427.9 408.52h6.62v1.8h-6.62zM335.85 412.02h6.62v1.8h-6.62zM427.9 415.53h6.62v1.8h-6.62zM473.93 419.03h6.62v1.8h-6.62zM421.33 420.78h6.62v1.8h-6.62zM441.05 422.54h6.62v1.8h-6.62zM296.4 426.04h6.62v1.8h-6.62zM427.9 427.79h6.62v1.8h-6.62zM473.93 427.79h6.62v1.8h-6.62zM434.48 433.05h6.62v1.8h-6.62zM460.77 433.05h6.62v1.8h-6.62zM414.75 434.8h6.62v1.8h-6.62zM421.33 443.56h6.62v1.8h-6.62zM460.77 443.56h6.62v1.8h-6.62zM473.93 443.56h6.62v1.8h-6.62zM414.75 445.31h6.62v1.8h-6.62zM427.9 447.06h6.62v1.8h-6.62zM473.93 448.82h6.62v1.8h-6.62zM421.33 454.07h6.62v1.8h-6.62zM408.18 455.82h6.62v1.8h-6.62zM421.33 455.82h6.62v1.8h-6.62zM427.9 455.82h6.62v1.8h-6.62zM441.05 455.82h6.62v1.8h-6.62zM381.88 462.83h6.62v1.8h-6.62zM427.9 462.83h6.62v1.8h-6.62zM421.33 464.58h6.62v1.8h-6.62zM427.9 464.58h6.62v1.8h-6.62zM414.75 468.09h6.62v1.8h-6.62zM434.48 468.09h6.62v1.8h-6.62zM441.05 468.09h6.62v1.8h-6.62zM434.48 469.84h6.62v1.8h-6.62zM434.48 471.59h6.62v1.8h-6.62zM460.77 471.59h6.62v1.8h-6.62zM434.48 473.34h6.62v1.8h-6.62zM473.93 473.34h6.62v1.8h-6.62zM441.05 475.1h6.62v1.8h-6.62zM460.77 475.1h6.62v1.8h-6.62zM427.9 476.85h6.62v1.8h-6.62zM427.9 478.6h6.62v1.8h-6.62zM441.05 478.6h6.62v1.8h-6.62zM460.77 478.6h6.62v1.8h-6.62zM434.48 480.35h6.62v1.8h-6.62zM441.05 480.35h6.62v1.8h-6.62zM460.77 482.1h6.62v1.8h-6.62zM473.93 482.1h6.62v1.8h-6.62zM414.75 485.61h6.62v1.8h-6.62zM441.05 485.61h6.62v1.8h-6.62zM460.77 490.86h6.62v1.8h-6.62zM421.33 492.62h6.62v1.8h-6.62zM434.48 492.62h6.62v1.8h-6.62zM441.05 492.62h6.62v1.8h-6.62zM427.9 496.12h6.62v1.8h-6.62zM434.48 496.12h6.62v1.8h-6.62zM414.75 497.87h6.62v1.8h-6.62zM441.05 497.87h6.62v1.8h-6.62zM473.93 497.87h6.62v1.8h-6.62zM441.05 499.62h6.62v1.8h-6.62zM434.48 501.38h6.62v1.8h-6.62zM441.05 501.38h6.62v1.8h-6.62zM441.05 503.13h6.62v1.8h-6.62zM322.7 518.9h6.62v1.8h-6.62zM270.1 520.65h6.62v1.8h-6.62z"/>
<path fill="#7f7fef" d="M414.75 173.75h6.62v1.8h-6.62zM434.48 173.75h6.62v1.8h-6.62zM434.48 175.5h6.62v1.8h-6.62zM355.58 177.26h6.62v1.8h-6.62zM454.2 177.26h6.62v1.8h-6.62zM460.77 177.26h6.62v1.8h-6.62zM414.75 179.01h6.62v1.8h-6.62zM441.05 179.01h6.62v1.8h-6.62zM467.35 179.01h6.62v1.8h-6.62zM355.58 180.76h6.62v1.8h-6.62zM421.33 180.76h6.62v1.8h-6.62zM460.77 180.76h6.62v1.8h-6.62zM454.2 182.51h6.62v1.8h-6.62zM421.33 196.53h6.62v1.8h-6.62zM434.48 196.53h6.62v1.8h-6.62zM467.35 196.53h6.62v1.8h-6.62zM283.25 200.03h6.62v1.8h-6.62zM283.25 201.78h6.62v1.8h-6.62zM427.9 201.78h6.62v1.8h-6.62zM447.62 201.78h6.62v1.8h-6.62zM467.35 201.78h6.62v1.8h-6.62zM342.43 203.54h6.62v1.8h-6.62zM408.18 205.29h6.62v1.8h-6.62zM454.2 205.29h6.62v1.8h-6.62zM276.68 208.79h6.62v1.8h-6.62zM355.58 208.79h6.62v1.8h-6.62zM421.33 210.54h6.62v1.8h-6.62zM421.33 212.3h6.62v1.8h-6.62zM441.05 212.3h6.62v1.8h-6.62zM447.62 212.3h6.62v1.8h-6.62zM460.77 215.8h6.62v1.8h-6.62zM270.1 217.55h6.62v1.8h-6.62zM355.58 217.55h6.62v1.8h-6.62zM355.58 219.3h6.62v1.8h-6.62zM441.05 219.3h6.62v1.8h-6.62zM270.1 221.06h6.62v1.8h-6.62zM441.05 221.06h6.62v1.8h-6.62zM421.33 222.81h6.62v1.8h-6.62zM427.9 224.56h6.62v1.8h-6.62zM441.05 224.56h6.62v1.8h-6.62zM302.98 226.31h6.62v1.8h-6.62zM414.75 226.31h6.62v1.8h-6.62zM473.93 226.31h6.62v1.8h-6.62zM362.15 228.06h6.62v1.8h-6.62zM276.68 229.82h6.62v1.8h-6.62zM421.33 229.82h6.62v1.8h-6.62zM460.77 229.82h6.62v1.8h-6.62zM473.93 229.82h6.62v1.8h-6.62zM473.93 231.57h6.62v1.8h-6.62zM441.05 236.82h6.62v1.8h-6.62zM408.18 238.58h6.62v1.8h-6.62zM414.75 240.33h6.62v1.8h-6.62zM427.9 240.33h6.62v1.8h-6.62zM316.12 243.83h6.62v1.8h-6.62zM421.33 243.83h6.62v1.8h-6.62zM467.35 243.83h6.62v1.8h-6.62zM473.93 243.83h6.62v1.8h-6.62zM316.12 245.58h6.62v1.8h-6.62zM316.12 247.34h6.62v1.8h-6.62zM473.93 247.34h6.62v1.8h-6.62zM289.83 252.59h6.62v1.8h-6.62zM289.83 254.34h6.62v1.8h-6.62zM427.9 254.34h6.62v1.8h-6.62zM322.7 257.85h6.62v1.8h-6.62zM434.48 257.85h6.62v1.8h-6.62zM408.18 259.6h6.62v1.8h-6.62zM454.2 261.35h6.62v1.8h-6.62zM441.05 264.86h6.62v1.8h-6.62zM441.05 270.11h6.62v1.8h-6.62zM421.33 271.86h6.62v1.8h-6.62zM421.33 273.62h6.62v1.8h-6.62zM414.75 275.37h6.62v1.8h-6.62zM414.75 277.12h6.62v1.8h-6.62zM460.77 277.12h6.62v1.8h-6.62zM473.93 277.12h6.62v1.8h-6.62zM421.33 282.38h6.62v1.8h-6.62zM427.9 282.38h6.62v1.8h-6.62zM460.77 282.38h6.62v1.8h-6.62zM414.75 284.13h6.62v1.8h-6.62zM467.35 285.88h6.62v1.8h-6.62zM473.93 287.63h6.62v1.8h-6.62zM414.75 291.14h6.62v1.8h-6.62zM421.33 294.64h6.62v1.8h-6.62zM427.9 294.64h6.62v1.8h-6.62zM473.93 294.64h6.62v1.8h-6.62zM276.68 296.39h6.62v1.8h-6.62zM473.93 296.39h6.62v1.8h-6.62zM421.33 298.14h6.62v1.8h-6.62zM421.33 306.9h6.62v1.8h-6.62zM473.93 308.66h6.62v1.8h-6.62zM460.77 310.41h6.62v1.8h-6.62zM414.75 312.16h6.62v1.8h-6.62zM309.55 319.17h6.62v1.8h-6.62zM473.93 319.17h6.62v1.8h-6.62zM441.05 322.67h6.62v1.8h-6.62zM276.68 324.42h6.62v1.8h-6.62zM460.77 324.42h6.62v1.8h-6.62zM427.9 326.18h6.62v1.8h-6.62zM441.05 326.18h6.62v1.8h-6.62zM460.77 326.18h6.62v1.8h-6.62zM414.75 327.93h6.62v1.8h-6.62zM427.9 327.93h6.62v1.8h-6.62zM460.77 327.93h6.62v1.8h-6.62zM473.93 327.93h6.62v1.8h-6.62zM427.9 329.68h6.62v1.8h-6.62zM434.48 329.68h6.62v1.8h-6.62zM447.62 329.68h6.62v1.8h-6.62zM427.9 331.43h6.62v1.8h-6.62zM427.9 338.44h6.62v1.8h-6.62zM441.05 338.44h6.62v1.8h-6.62zM473.93 338.44h6.62v1.8h-6.62zM427.9 340.19h6.62v1.8h-6.62zM441.05 340.19h6.62v1.8h-6.62zM467.35 340.19h6.62v1.8h-6.62zM434.48 341.94h6.62v1.8h-6.62zM447.62 341.94h6.62v1.8h-6.62zM467.35 341.94h6.62v1.8h-6.62zM309.55 348.95h6.62v1.8h-6.62zM427.9 350.7h6.62v1.8h-6.62zM434.48 352.46h6.62v1.8h-6.62zM447.62 352.46h6.62v1.8h-6.62zM460.77 352.46h6.62v1.8h-6.62zM467.35 352.46h6.62v1.8h-6.62zM473.93 354.21h6.62v1.8h-6.62zM427.9 359.46h6.62v1.8h-6.62zM441.05 359.46h6.62v1.8h-6.62zM309.55 362.97h6.62v1.8h-6.62zM460.77 362.97h6.62v1.8h-6.62zM414.75 368.22h6.62v1.8h-6.62zM434.48 368.22h6.62v1.8h-6.62zM473.93 368.22h6.62v1.8h-6.62zM414.75 369.98h6.62v1.8h-6.62zM427.9 369.98h6.62v1.8h-6.62zM434.48 369.98h6.62v1.8h-6.62zM454.2 369.98h6.62v1.8h-6.62zM473.93 369.98h6.62v1.8h-6.62zM434.48 371.73h6.62v1.8h-6.62zM454.2 371.73h6.62v1.8h-6.62zM408.18 373.48h6.62v1.8h-6.62zM441.05 373.48h6.62v1.8h-6.62zM454.2 373.48h6.62v1.8h-6.62zM441.05 375.23h6.62v1.8h-6.62zM408.18 378.74h6.62v1.8h-6.62zM414.75 378.74h6.62v1.8h-6.62zM441.05 378.74h6.62v1.8h-6.62zM473.93 378.74h6.62v1.8h-6.62zM408.18 380.49h6.62v1.8h-6.62zM467.35 380.49h6.62v1.8h-6.62zM427.9 383.99h6.62v1.8h-6.62zM473.93 383.99h6.62v1.8h-6.62zM467.35 385.74h6.62v1.8h-6.62zM473.93 385.74h6.62v1.8h-6.62zM427.9 387.5h6.62v1.8h-6.62zM421.33 391h6.62v1.8h-6.62zM441.05 391h6.62v1.8h-6.62zM309.55 394.5h6.62v1.8h-6.62zM421.33 394.5h6.62v1.8h-6.62zM270.1 396.26h6.62v1.8h-6.62zM309.55 396.26h6.62v1.8h-6.62zM421.33 396.26h6.62v1.8h-6.62zM427.9 396.26h6.62v1.8h-6.62zM414.75 398.01h6.62v1.8h-6.62zM421.33 398.01h6.62v1.8h-6.62zM473.93 398.01h6.62v1.8h-6.62zM414.75 399.76h6.62v1.8h-6.62zM434.48 403.26h6.62v1.8h-6.62zM441.05 403.26h6.62v1.8h-6.62zM441.05 405.02h6.62v1.8h-6.62zM473.93 405.02h6.62v1.8h-6.62zM414.75 408.52h6.62v1.8h-6.62zM421.33 408.52h6.62v1.8h-6.62zM441.05 408.52h6.62v1.8h-6.62zM473.93 408.52h6.62v1.8h-6.62zM441.05 410.27h6.62v1.8h-6.62zM473.93 415.53h6.62v1.8h-6.62zM421.33 417.28h6.62v1.8h-6.62zM408.18 419.03h6.62v1.8h-6.62zM427.9 419.03h6.62v1.8h-6.62zM441.05 420.78h6.62v1.8h-6.62zM460.77 420.78h6.62v1.8h-6.62zM421.33 424.29h6.62v1.8h-6.62zM421.33 426.04h6.62v1.8h-6.62zM421.33 431.3h6.62v1.8h-6.62zM414.75 433.05h6.62v1.8h-6.62zM427.9 433.05h6.62v1.8h-6.62zM427.9 434.8h6.62v1.8h-6.62zM441.05 434.8h6.62v1.8h-6.62zM414.75 438.3h6.62v1.8h-6.62zM434.48 438.3h6.62v1.8h-6.62zM427.9 445.31h6.62v1.8h-6.62zM421.33 447.06h6.62v1.8h-6.62zM441.05 447.06h6.62v1.8h-6.62zM421.33 450.57h6.62v1.8h-6.62zM434.48 452.32h6.62v1.8h-6.62zM441.05 452.32h6.62v1.8h-6.62zM414.75 457.58h6.62v1.8h-6.62zM355.58 459.33h6.62v1.8h-6.62zM434.48 459.33h6.62v1.8h-6.62zM460.77 461.08h6.62v1.8h-6.62zM408.18 462.83h6.62v1.8h-6.62zM414.75 464.58h6.62v1.8h-6.62zM473.93 464.58h6.62v1.8h-6.62zM427.9 471.59h6.62v1.8h-6.62zM473.93 471.59h6.62v1.8h-6.62zM441.05 473.34h6.62v1.8h-6.62zM473.93 475.1h6.62v1.8h-6.62zM434.48 476.85h6.62v1.8h-6.62zM460.77 476.85h6.62v1.8h-6.62zM408.18 478.6h6.62v1.8h-6.62zM414.75 482.1h6.62v1.8h-6.62zM427.9 482.1h6.62v1.8h-6.62zM434.48 482.1h6.62v1.8h-6.62zM441.05 483.86h6.62v1.8h-6.62zM473.93 483.86h6.62v1.8h-6.62zM427.9 485.61h6.62v1.8h-6.62zM270.1 489.11h6.62v1.8h-6.62zM355.58 489.11h6.62v1.8h-6.62zM434.48 490.86h6.62v1.8h-6.62zM441.05 490.86h6.62v1.8h-6.62zM473.93 492.62h6.62v1.8h-6.62zM427.9 494.37h6.62v1.8h-6.62zM441.05 494.37h6.62v1.8h-6.62zM473.93 494.37h6.62v1.8h-6.62zM414.75 496.12h6.62v1.8h-6.62zM460.77 496.12h6.62v1.8h-6.62zM414.75 499.62h6.62v1.8h-6.62zM434.48 499.62h6.62v1.8h-6.62zM460.77 499.62h6.62v1.8h-6.62zM408.18 501.38h6.62v1.8h-6.62zM414.75 501.38h6.62v1.8h-6.62zM414.75 503.13h6.62v1.8h-6.62zM421.33 503.13h6.62v1.8h-6.62zM467.35 503.13h6.62v1.8h-6.62zM316.12 510.14h6.62v1.8h-6.62zM322.7 515.39h6.62v1.8h-6.62zM388.45 515.39h6.62v1.8h-6.62zM316.12 517.14h6.62v1.8h-6.62zM329.28 517.14h6.62v1.8h-6.62zM362.15 517.14h6.62v1.8h-6.62zM322.7 520.65h6.62v1.8h-6.62z"/>
<path fill="#9292f2" d="M434.48 172h6.62v1.8h-6.62zM454.2 172h6.62v1.8h-6.62zM454.2 173.75h6.62v1.8h-6.62zM302.98 179.01h6.62v1.8h-6.62zM322.7 179.01h6.62v1.8h-6.62zM302.98 180.76h6.62v1.8h-6.62zM434.48 180.76h6.62v1.8h-6.62zM441.05 180.76h6.62v1.8h-6.62zM447.62 180.76h6.62v1.8h-6.62zM302.98 182.51h6.62v1.8h-6.62zM447.62 182.51h6.62v1.8h-6.62zM355.58 186.02h6.62v1.8h-6.62zM355.58 187.77h6.62v1.8h-6.62zM296.4 191.27h6.62v1.8h-6.62zM296.4 193.02h6.62v1.8h-6.62zM454.2 194.78h6.62v1.8h-6.62zM408.18 196.53h6.62v1.8h-6.62zM427.9 196.53h6.62v1.8h-6.62zM473.93 196.53h6.62v1.8h-6.62zM335.85 200.03h6.62v1.8h-6.62zM342.43 201.78h6.62v1.8h-6.62zM296.4 203.54h6.62v1.8h-6.62zM447.62 205.29h6.62v1.8h-6.62zM421.33 207.04h6.62v1.8h-6.62zM427.9 212.3h6.62v1.8h-6.62zM421.33 214.05h6.62v1.8h-6.62zM434.48 215.8h6.62v1.8h-6.62zM467.35 215.8h6.62v1.8h-6.62zM473.93 217.55h6.62v1.8h-6.62zM408.18 219.3h6.62v1.8h-6.62zM276.68 221.06h6.62v1.8h-6.62zM335.85 221.06h6.62v1.8h-6.62zM473.93 221.06h6.62v1.8h-6.62zM276.68 222.81h6.62v1.8h-6.62zM441.05 222.81h6.62v1.8h-6.62zM408.18 224.56h6.62v1.8h-6.62zM421.33 226.31h6.62v1.8h-6.62zM460.77 226.31h6.62v1.8h-6.62zM270.1 228.06h6.62v1.8h-6.62zM302.98 228.06h6.62v1.8h-6.62zM427.9 228.06h6.62v1.8h-6.62zM270.1 229.82h6.62v1.8h-6.62zM441.05 229.82h6.62v1.8h-6.62zM427.9 231.57h6.62v1.8h-6.62zM395.02 233.32h6.62v1.8h-6.62zM414.75 235.07h6.62v1.8h-6.62zM441.05 235.07h6.62v1.8h-6.62zM460.77 235.07h6.62v1.8h-6.62zM473.93 240.33h6.62v1.8h-6.62zM454.2 243.83h6.62v1.8h-6.62zM421.33 245.58h6.62v1.8h-6.62zM441.05 245.58h6.62v1.8h-6.62zM434.48 247.34h6.62v1.8h-6.62zM454.2 247.34h6.62v1.8h-6.62zM316.12 249.09h6.62v1.8h-6.62zM329.28 254.34h6.62v1.8h-6.62zM408.18 254.34h6.62v1.8h-6.62zM414.75 254.34h6.62v1.8h-6.62zM289.83 256.1h6.62v1.8h-6.62zM414.75 256.1h6.62v1.8h-6.62zM441.05 257.85h6.62v1.8h-6.62zM460.77 257.85h6.62v1.8h-6.62zM467.35 257.85h6.62v1.8h-6.62zM414.75 259.6h6.62v1.8h-6.62zM421.33 259.6h6.62v1.8h-6.62zM460.77 259.6h6.62v1.8h-6.62zM467.35 259.6h6.62v1.8h-6.62zM473.93 259.6h6.62v1.8h-6.62zM447.62 261.35h6.62v1.8h-6.62zM408.18 263.1h6.62v1.8h-6.62zM434.48 263.1h6.62v1.8h-6.62zM322.7 264.86h6.62v1.8h-6.62zM460.77 264.86h6.62v1.8h-6.62zM473.93 264.86h6.62v1.8h-6.62zM441.05 266.61h6.62v1.8h-6.62zM441.05 268.36h6.62v1.8h-6.62zM414.75 271.86h6.62v1.8h-6.62zM434.48 271.86h6.62v1.8h-6.62zM441.05 271.86h6.62v1.8h-6.62zM467.35 271.86h6.62v1.8h-6.62zM427.9 273.62h6.62v1.8h-6.62zM342.43 275.37h6.62v1.8h-6.62zM309.55 282.38h6.62v1.8h-6.62zM408.18 282.38h6.62v1.8h-6.62zM441.05 282.38h6.62v1.8h-6.62zM467.35 282.38h6.62v1.8h-6.62zM473.93 282.38h6.62v1.8h-6.62zM460.77 284.13h6.62v1.8h-6.62zM473.93 284.13h6.62v1.8h-6.62zM414.75 285.88h6.62v1.8h-6.62zM421.33 285.88h6.62v1.8h-6.62zM447.62 285.88h6.62v1.8h-6.62zM309.55 287.63h6.62v1.8h-6.62zM408.18 291.14h6.62v1.8h-6.62zM296.4 292.89h6.62v1.8h-6.62zM434.48 292.89h6.62v1.8h-6.62zM441.05 292.89h6.62v1.8h-6.62zM454.2 292.89h6.62v1.8h-6.62zM434.48 294.64h6.62v1.8h-6.62zM309.55 296.39h6.62v1.8h-6.62zM322.7 296.39h6.62v1.8h-6.62zM454.2 296.39h6.62v1.8h-6.62zM467.35 296.39h6.62v1.8h-6.62zM276.68 299.9h6.62v1.8h-6.62zM473.93 299.9h6.62v1.8h-6.62zM408.18 301.65h6.62v1.8h-6.62zM441.05 305.15h6.62v1.8h-6.62zM473.93 306.9h6.62v1.8h-6.62zM414.75 308.66h6.62v1.8h-6.62zM441.05 308.66h6.62v1.8h-6.62zM473.93 310.41h6.62v1.8h-6.62zM316.12 315.66h6.62v1.8h-6.62zM381.88 315.66h6.62v1.8h-6.62zM467.35 315.66h6.62v1.8h-6.62zM414.75 317.42h6.62v1.8h-6.62zM460.77 317.42h6.62v1.8h-6.62zM441.05 319.17h6.62v1.8h-6.62zM309.55 320.92h6.62v1.8h-6.62zM460.77 320.92h6.62v1.8h-6.62zM434.48 322.67h6.62v1.8h-6.62zM467.35 322.67h6.62v1.8h-6.62zM473.93 324.42h6.62v1.8h-6.62zM408.18 326.18h6.62v1.8h-6.62zM447.62 326.18h6.62v1.8h-6.62zM454.2 326.18h6.62v1.8h-6.62zM316.12 327.93h6.62v1.8h-6.62zM329.28 331.43h6.62v1.8h-6.62zM421.33 331.43h6.62v1.8h-6.62zM441.05 331.43h6.62v1.8h-6.62zM276.68 336.69h6.62v1.8h-6.62zM421.33 336.69h6.62v1.8h-6.62zM414.75 340.19h6.62v1.8h-6.62zM454.2 340.19h6.62v1.8h-6.62zM408.18 341.94h6.62v1.8h-6.62zM421.33 341.94h6.62v1.8h-6.62zM276.68 345.45h6.62v1.8h-6.62zM427.9 345.45h6.62v1.8h-6.62zM309.55 347.2h6.62v1.8h-6.62zM441.05 347.2h6.62v1.8h-6.62zM414.75 348.95h6.62v1.8h-6.62zM427.9 348.95h6.62v1.8h-6.62zM434.48 348.95h6.62v1.8h-6.62zM441.05 348.95h6.62v1.8h-6.62zM467.35 348.95h6.62v1.8h-6.62zM473.93 348.95h6.62v1.8h-6.62zM467.35 350.7h6.62v1.8h-6.62zM473.93 350.7h6.62v1.8h-6.62zM316.12 354.21h6.62v1.8h-6.62zM473.93 355.96h6.62v1.8h-6.62zM434.48 357.71h6.62v1.8h-6.62zM408.18 359.46h6.62v1.8h-6.62zM276.68 361.22h6.62v1.8h-6.62zM414.75 361.22h6.62v1.8h-6.62zM441.05 361.22h6.62v1.8h-6.62zM473.93 361.22h6.62v1.8h-6.62zM441.05 362.97h6.62v1.8h-6.62zM441.05 366.47h6.62v1.8h-6.62zM473.93 366.47h6.62v1.8h-6.62zM447.62 369.98h6.62v1.8h-6.62zM460.77 369.98h6.62v1.8h-6.62zM296.4 371.73h6.62v1.8h-6.62zM441.05 371.73h6.62v1.8h-6.62zM270.1 375.23h6.62v1.8h-6.62zM309.55 375.23h6.62v1.8h-6.62zM289.83 376.98h6.62v1.8h-6.62zM309.55 376.98h6.62v1.8h-6.62zM349 376.98h6.62v1.8h-6.62zM473.93 376.98h6.62v1.8h-6.62zM454.2 378.74h6.62v1.8h-6.62zM454.2 380.49h6.62v1.8h-6.62zM276.68 382.24h6.62v1.8h-6.62zM309.55 382.24h6.62v1.8h-6.62zM473.93 382.24h6.62v1.8h-6.62zM434.48 383.99h6.62v1.8h-6.62zM408.18 385.74h6.62v1.8h-6.62zM414.75 385.74h6.62v1.8h-6.62zM434.48 385.74h6.62v1.8h-6.62zM408.18 389.25h6.62v1.8h-6.62zM414.75 389.25h6.62v1.8h-6.62zM421.33 389.25h6.62v1.8h-6.62zM427.9 391h6.62v1.8h-6.62zM427.9 392.75h6.62v1.8h-6.62zM454.2 392.75h6.62v1.8h-6.62zM473.93 392.75h6.62v1.8h-6.62zM441.05 394.5h6.62v1.8h-6.62zM460.77 396.26h6.62v1.8h-6.62zM434.48 398.01h6.62v1.8h-6.62zM447.62 398.01h6.62v1.8h-6.62zM427.9 399.76h6.62v1.8h-6.62zM447.62 399.76h6.62v1.8h-6.62zM467.35 399.76h6.62v1.8h-6.62zM309.55 401.51h6.62v1.8h-6.62zM460.77 401.51h6.62v1.8h-6.62zM454.2 403.26h6.62v1.8h-6.62zM467.35 403.26h6.62v1.8h-6.62zM434.48 406.77h6.62v1.8h-6.62zM322.7 408.52h6.62v1.8h-6.62zM467.35 408.52h6.62v1.8h-6.62zM322.7 410.27h6.62v1.8h-6.62zM467.35 410.27h6.62v1.8h-6.62zM473.93 410.27h6.62v1.8h-6.62zM329.28 412.02h6.62v1.8h-6.62zM421.33 413.78h6.62v1.8h-6.62zM427.9 413.78h6.62v1.8h-6.62zM434.48 413.78h6.62v1.8h-6.62zM460.77 413.78h6.62v1.8h-6.62zM467.35 413.78h6.62v1.8h-6.62zM322.7 415.53h6.62v1.8h-6.62zM460.77 415.53h6.62v1.8h-6.62zM473.93 417.28h6.62v1.8h-6.62zM421.33 419.03h6.62v1.8h-6.62zM467.35 420.78h6.62v1.8h-6.62zM427.9 422.54h6.62v1.8h-6.62zM473.93 422.54h6.62v1.8h-6.62zM441.05 424.29h6.62v1.8h-6.62zM427.9 426.04h6.62v1.8h-6.62zM467.35 426.04h6.62v1.8h-6.62zM296.4 427.79h6.62v1.8h-6.62zM441.05 427.79h6.62v1.8h-6.62zM460.77 427.79h6.62v1.8h-6.62zM296.4 429.54h6.62v1.8h-6.62zM421.33 429.54h6.62v1.8h-6.62zM427.9 431.3h6.62v1.8h-6.62zM441.05 431.3h6.62v1.8h-6.62zM460.77 431.3h6.62v1.8h-6.62zM473.93 431.3h6.62v1.8h-6.62zM408.18 436.55h6.62v1.8h-6.62zM427.9 436.55h6.62v1.8h-6.62zM421.33 441.81h6.62v1.8h-6.62zM441.05 441.81h6.62v1.8h-6.62zM460.77 441.81h6.62v1.8h-6.62zM414.75 443.56h6.62v1.8h-6.62zM309.55 445.31h6.62v1.8h-6.62zM362.15 445.31h6.62v1.8h-6.62zM434.48 445.31h6.62v1.8h-6.62zM441.05 445.31h6.62v1.8h-6.62zM447.62 445.31h6.62v1.8h-6.62zM467.35 445.31h6.62v1.8h-6.62zM434.48 447.06h6.62v1.8h-6.62zM441.05 448.82h6.62v1.8h-6.62zM473.93 450.57h6.62v1.8h-6.62zM355.58 454.07h6.62v1.8h-6.62zM408.18 454.07h6.62v1.8h-6.62zM460.77 454.07h6.62v1.8h-6.62zM467.35 455.82h6.62v1.8h-6.62zM473.93 455.82h6.62v1.8h-6.62zM427.9 457.58h6.62v1.8h-6.62zM441.05 457.58h6.62v1.8h-6.62zM309.55 459.33h6.62v1.8h-6.62zM460.77 459.33h6.62v1.8h-6.62zM473.93 459.33h6.62v1.8h-6.62zM447.62 464.58h6.62v1.8h-6.62zM434.48 466.34h6.62v1.8h-6.62zM447.62 466.34h6.62v1.8h-6.62zM447.62 468.09h6.62v1.8h-6.62zM467.35 468.09h6.62v1.8h-6.62zM467.35 469.84h6.62v1.8h-6.62zM408.18 471.59h6.62v1.8h-6.62zM441.05 471.59h6.62v1.8h-6.62zM414.75 473.34h6.62v1.8h-6.62zM427.9 473.34h6.62v1.8h-6.62zM349 476.85h6.62v1.8h-6.62zM467.35 476.85h6.62v1.8h-6.62zM473.93 476.85h6.62v1.8h-6.62zM414.75 480.35h6.62v1.8h-6.62zM408.18 482.1h6.62v1.8h-6.62zM441.05 482.1h6.62v1.8h-6.62zM447.62 482.1h6.62v1.8h-6.62zM408.18 485.61h6.62v1.8h-6.62zM473.93 485.61h6.62v1.8h-6.62zM355.58 487.36h6.62v1.8h-6.62zM408.18 487.36h6.62v1.8h-6.62zM467.35 487.36h6.62v1.8h-6.62zM414.75 489.11h6.62v1.8h-6.62zM355.58 492.62h6.62v1.8h-6.62zM460.77 492.62h6.62v1.8h-6.62zM270.1 497.87h6.62v1.8h-6.62zM427.9 497.87h6.62v1.8h-6.62zM447.62 497.87h6.62v1.8h-6.62zM454.2 497.87h6.62v1.8h-6.62zM460.77 497.87h6.62v1.8h-6.62zM427.9 501.38h6.62v1.8h-6.62zM447.62 501.38h6.62v1.8h-6.62zM467.35 501.38h6.62v1.8h-6.62zM427.9 503.13h6.62v1.8h-6.62zM460.77 503.13h6.62v1.8h-6.62zM309.55 504.88h6.62v1.8h-6.62zM276.68 510.14h6.62v1.8h-6.62zM381.88 510.14h6.62v1.8h-6.62zM401.6 510.14h6.62v1.8h-6.62zM381.88 515.39h6.62v1.8h-6.62zM401.6 515.39h6.62v1.8h-6.62zM322.7 517.14h6.62v1.8h-6.62zM329.28 518.9h6.62v1.8h-6.62zM375.3 520.65h6.62v1.8h-6.62z"/>
<path fill="#a4a4f4" d="M408.18 172h6.62v1.8h-6.62zM414.75 172h6.62v1.8h-6.62zM421.33 173.75h6.62v1.8h-6.62zM441.05 173.75h6.62v1.8h-6.62zM441.05 175.5h6.62v1.8h-6.62zM421.33 177.26h6.62v1.8h-6.62zM441.05 177.26h6.62v1.8h-6.62zM408.18 179.01h6.62v1.8h-6.62zM421.33 179.01h6.62v1.8h-6.62zM434.48 179.01h6.62v1.8h-6.62zM447.62 179.01h6.62v1.8h-6.62zM467.35 180.76h6.62v1.8h-6.62zM408.18 182.51h6.62v1.8h-6.62zM414.75 186.02h6.62v1.8h-6.62zM447.62 186.02h6.62v1.8h-6.62zM414.75 187.77h6.62v1.8h-6.62zM421.33 187.77h6.62v1.8h-6.62zM454.2 187.77h6.62v1.8h-6.62zM289.83 189.52h6.62v1.8h-6.62zM296.4 189.52h6.62v1.8h-6.62zM434.48 189.52h6.62v1.8h-6.62zM460.77 189.52h6.62v1.8h-6.62zM467.35 189.52h6.62v1.8h-6.62zM342.43 193.02h6.62v1.8h-6.62zM408.18 194.78h6.62v1.8h-6.62zM434.48 194.78h6.62v1.8h-6.62zM283.25 196.53h6.62v1.8h-6.62zM335.85 196.53h6.62v1.8h-6.62zM342.43 196.53h6.62v1.8h-6.62zM460.77 196.53h6.62v1.8h-6.62zM421.33 198.28h6.62v1.8h-6.62zM460.77 198.28h6.62v1.8h-6.62zM322.7 200.03h6.62v1.8h-6.62zM355.58 200.03h6.62v1.8h-6.62zM355.58 201.78h6.62v1.8h-6.62zM441.05 201.78h6.62v1.8h-6.62zM322.7 203.54h6.62v1.8h-6.62zM447.62 203.54h6.62v1.8h-6.62zM454.2 203.54h6.62v1.8h-6.62zM467.35 205.29h6.62v1.8h-6.62zM408.18 207.04h6.62v1.8h-6.62zM414.75 207.04h6.62v1.8h-6.62zM427.9 207.04h6.62v1.8h-6.62zM434.48 207.04h6.62v1.8h-6.62zM447.62 207.04h6.62v1.8h-6.62zM460.77 207.04h6.62v1.8h-6.62zM473.93 207.04h6.62v1.8h-6.62zM335.85 208.79h6.62v1.8h-6.62zM421.33 208.79h6.62v1.8h-6.62zM427.9 208.79h6.62v1.8h-6.62zM434.48 208.79h6.62v1.8h-6.62zM427.9 210.54h6.62v1.8h-6.62zM454.2 210.54h6.62v1.8h-6.62zM302.98 212.3h6.62v1.8h-6.62zM434.48 212.3h6.62v1.8h-6.62zM460.77 212.3h6.62v1.8h-6.62zM434.48 214.05h6.62v1.8h-6.62zM441.05 214.05h6.62v1.8h-6.62zM447.62 214.05h6.62v1.8h-6.62zM460.77 214.05h6.62v1.8h-6.62zM441.05 215.8h6.62v1.8h-6.62zM473.93 215.8h6.62v1.8h-6.62zM408.18 217.55h6.62v1.8h-6.62zM441.05 217.55h6.62v1.8h-6.62zM270.1 219.3h6.62v1.8h-6.62zM434.48 219.3h6.62v1.8h-6.62zM467.35 219.3h6.62v1.8h-6.62zM434.48 224.56h6.62v1.8h-6.62zM460.77 224.56h6.62v1.8h-6.62zM270.1 226.31h6.62v1.8h-6.62zM335.85 228.06h6.62v1.8h-6.62zM421.33 228.06h6.62v1.8h-6.62zM355.58 229.82h6.62v1.8h-6.62zM362.15 229.82h6.62v1.8h-6.62zM427.9 229.82h6.62v1.8h-6.62zM421.33 231.57h6.62v1.8h-6.62zM441.05 231.57h6.62v1.8h-6.62zM460.77 231.57h6.62v1.8h-6.62zM283.25 233.32h6.62v1.8h-6.62zM408.18 233.32h6.62v1.8h-6.62zM421.33 233.32h6.62v1.8h-6.62zM427.9 233.32h6.62v1.8h-6.62zM434.48 233.32h6.62v1.8h-6.62zM441.05 233.32h6.62v1.8h-6.62zM460.77 233.32h6.62v1.8h-6.62zM414.75 236.82h6.62v1.8h-6.62zM427.9 236.82h6.62v1.8h-6.62zM460.77 236.82h6.62v1.8h-6.62zM473.93 236.82h6.62v1.8h-6.62zM427.9 238.58h6.62v1.8h-6.62zM460.77 238.58h6.62v1.8h-6.62zM473.93 238.58h6.62v1.8h-6.62zM316.12 242.08h6.62v1.8h-6.62zM421.33 242.08h6.62v1.8h-6.62zM408.18 243.83h6.62v1.8h-6.62zM427.9 243.83h6.62v1.8h-6.62zM434.48 245.58h6.62v1.8h-6.62zM460.77 245.58h6.62v1.8h-6.62zM414.75 247.34h6.62v1.8h-6.62zM460.77 247.34h6.62v1.8h-6.62zM467.35 247.34h6.62v1.8h-6.62zM421.33 249.09h6.62v1.8h-6.62zM408.18 250.84h6.62v1.8h-6.62zM322.7 252.59h6.62v1.8h-6.62zM421.33 254.34h6.62v1.8h-6.62zM349 256.1h6.62v1.8h-6.62zM434.48 256.1h6.62v1.8h-6.62zM421.33 257.85h6.62v1.8h-6.62zM289.83 259.6h6.62v1.8h-6.62zM427.9 259.6h6.62v1.8h-6.62zM434.48 259.6h6.62v1.8h-6.62zM408.18 261.35h6.62v1.8h-6.62zM414.75 261.35h6.62v1.8h-6.62zM434.48 261.35h6.62v1.8h-6.62zM322.7 263.1h6.62v1.8h-6.62zM414.75 264.86h6.62v1.8h-6.62zM434.48 266.61h6.62v1.8h-6.62zM460.77 266.61h6.62v1.8h-6.62zM408.18 268.36h6.62v1.8h-6.62zM414.75 268.36h6.62v1.8h-6.62zM322.7 270.11h6.62v1.8h-6.62zM414.75 270.11h6.62v1.8h-6.62zM408.18 271.86h6.62v1.8h-6.62zM454.2 271.86h6.62v1.8h-6.62zM473.93 271.86h6.62v1.8h-6.62zM408.18 273.62h6.62v1.8h-6.62zM434.48 273.62h6.62v1.8h-6.62zM467.35 273.62h6.62v1.8h-6.62zM388.45 275.37h6.62v1.8h-6.62zM421.33 275.37h6.62v1.8h-6.62zM427.9 275.37h6.62v1.8h-6.62zM421.33 277.12h6.62v1.8h-6.62zM454.2 277.12h6.62v1.8h-6.62zM467.35 277.12h6.62v1.8h-6.62zM296.4 278.87h6.62v1.8h-6.62zM460.77 280.62h6.62v1.8h-6.62zM414.75 282.38h6.62v1.8h-6.62zM434.48 282.38h6.62v1.8h-6.62zM454.2 282.38h6.62v1.8h-6.62zM289.83 285.88h6.62v1.8h-6.62zM434.48 285.88h6.62v1.8h-6.62zM454.2 285.88h6.62v1.8h-6.62zM460.77 285.88h6.62v1.8h-6.62zM434.48 289.38h6.62v1.8h-6.62zM441.05 289.38h6.62v1.8h-6.62zM296.4 291.14h6.62v1.8h-6.62zM441.05 291.14h6.62v1.8h-6.62zM447.62 291.14h6.62v1.8h-6.62zM454.2 291.14h6.62v1.8h-6.62zM467.35 291.14h6.62v1.8h-6.62zM447.62 292.89h6.62v1.8h-6.62zM322.7 294.64h6.62v1.8h-6.62zM460.77 294.64h6.62v1.8h-6.62zM441.05 296.39h6.62v1.8h-6.62zM441.05 298.14h6.62v1.8h-6.62zM467.35 298.14h6.62v1.8h-6.62zM309.55 299.9h6.62v1.8h-6.62zM421.33 299.9h6.62v1.8h-6.62zM427.9 299.9h6.62v1.8h-6.62zM454.2 301.65h6.62v1.8h-6.62zM467.35 301.65h6.62v1.8h-6.62zM460.77 303.4h6.62v1.8h-6.62zM434.48 305.15h6.62v1.8h-6.62zM441.05 306.9h6.62v1.8h-6.62zM460.77 306.9h6.62v1.8h-6.62zM296.4 308.66h6.62v1.8h-6.62zM441.05 312.16h6.62v1.8h-6.62zM276.68 313.91h6.62v1.8h-6.62zM309.55 313.91h6.62v1.8h-6.62zM381.88 313.91h6.62v1.8h-6.62zM441.05 315.66h6.62v1.8h-6.62zM408.18 317.42h6.62v1.8h-6.62zM421.33 317.42h6.62v1.8h-6.62zM434.48 319.17h6.62v1.8h-6.62zM276.68 320.92h6.62v1.8h-6.62zM467.35 320.92h6.62v1.8h-6.62zM309.55 322.67h6.62v1.8h-6.62zM447.62 322.67h6.62v1.8h-6.62zM309.55 324.42h6.62v1.8h-6.62zM355.58 324.42h6.62v1.8h-6.62zM414.75 324.42h6.62v1.8h-6.62zM427.9 324.42h6.62v1.8h-6.62zM441.05 324.42h6.62v1.8h-6.62zM309.55 326.18h6.62v1.8h-6.62zM434.48 326.18h6.62v1.8h-6.62zM467.35 326.18h6.62v1.8h-6.62zM408.18 327.93h6.62v1.8h-6.62zM447.62 327.93h6.62v1.8h-6.62zM467.35 327.93h6.62v1.8h-6.62zM467.35 329.68h6.62v1.8h-6.62zM381.88 331.43h6.62v1.8h-6.62zM414.75 331.43h6.62v1.8h-6.62zM454.2 331.43h6.62v1.8h-6.62zM460.77 334.94h6.62v1.8h-6.62zM309.55 336.69h6.62v1.8h-6.62zM460.77 336.69h6.62v1.8h-6.62zM276.68 338.44h6.62v1.8h-6.62zM447.62 338.44h6.62v1.8h-6.62zM467.35 338.44h6.62v1.8h-6.62zM421.33 340.19h6.62v1.8h-6.62zM434.48 340.19h6.62v1.8h-6.62zM473.93 340.19h6.62v1.8h-6.62zM309.55 341.94h6.62v1.8h-6.62zM309.55 343.7h6.62v1.8h-6.62zM427.9 343.7h6.62v1.8h-6.62zM467.35 343.7h6.62v1.8h-6.62zM454.2 345.45h6.62v1.8h-6.62zM467.35 345.45h6.62v1.8h-6.62zM276.68 347.2h6.62v1.8h-6.62zM316.12 347.2h6.62v1.8h-6.62zM454.2 347.2h6.62v1.8h-6.62zM473.93 347.2h6.62v1.8h-6.62zM421.33 348.95h6.62v1.8h-6.62zM414.75 350.7h6.62v1.8h-6.62zM434.48 350.7h6.62v1.8h-6.62zM441.05 350.7h6.62v1.8h-6.62zM427.9 352.46h6.62v1.8h-6.62zM441.05 352.46h6.62v1.8h-6.62zM434.48 354.21h6.62v1.8h-6.62zM441.05 354.21h6.62v1.8h-6.62zM408.18 355.96h6.62v1.8h-6.62zM414.75 355.96h6.62v1.8h-6.62zM434.48 355.96h6.62v1.8h-6.62zM441.05 355.96h6.62v1.8h-6.62zM408.18 357.71h6.62v1.8h-6.62zM414.75 357.71h6.62v1.8h-6.62zM421.33 357.71h6.62v1.8h-6.62zM467.35 357.71h6.62v1.8h-6.62zM414.75 359.46h6.62v1.8h-6.62zM454.2 359.46h6.62v1.8h-6.62zM421.33 361.22h6.62v1.8h-6.62zM434.48 361.22h6.62v1.8h-6.62zM414.75 362.97h6.62v1.8h-6.62zM427.9 362.97h6.62v1.8h-6.62zM434.48 362.97h6.62v1.8h-6.62zM473.93 362.97h6.62v1.8h-6.62zM441.05 364.72h6.62v1.8h-6.62zM473.93 364.72h6.62v1.8h-6.62zM454.2 366.47h6.62v1.8h-6.62zM408.18 368.22h6.62v1.8h-6.62zM460.77 368.22h6.62v1.8h-6.62zM414.75 371.73h6.62v1.8h-6.62zM467.35 371.73h6.62v1.8h-6.62zM276.68 373.48h6.62v1.8h-6.62zM414.75 373.48h6.62v1.8h-6.62zM473.93 373.48h6.62v1.8h-6.62zM296.4 375.23h6.62v1.8h-6.62zM421.33 375.23h6.62v1.8h-6.62zM270.1 376.98h6.62v1.8h-6.62zM427.9 376.98h6.62v1.8h-6.62zM414.75 380.49h6.62v1.8h-6.62zM434.48 380.49h6.62v1.8h-6.62zM421.33 382.24h6.62v1.8h-6.62zM427.9 382.24h6.62v1.8h-6.62zM335.85 383.99h6.62v1.8h-6.62zM408.18 383.99h6.62v1.8h-6.62zM441.05 383.99h6.62v1.8h-6.62zM460.77 383.99h6.62v1.8h-6.62zM276.68 385.74h6.62v1.8h-6.62zM454.2 385.74h6.62v1.8h-6.62zM454.2 389.25h6.62v1.8h-6.62zM434.48 391h6.62v1.8h-6.62zM454.2 391h6.62v1.8h-6.62zM460.77 392.75h6.62v1.8h-6.62zM408.18 394.5h6.62v1.8h-6.62zM414.75 394.5h6.62v1.8h-6.62zM454.2 394.5h6.62v1.8h-6.62zM276.68 396.26h6.62v1.8h-6.62zM408.18 396.26h6.62v1.8h-6.62zM454.2 398.01h6.62v1.8h-6.62zM408.18 399.76h6.62v1.8h-6.62zM427.9 401.51h6.62v1.8h-6.62zM434.48 401.51h6.62v1.8h-6.62zM414.75 403.26h6.62v1.8h-6.62zM473.93 403.26h6.62v1.8h-6.62zM342.43 405.02h6.62v1.8h-6.62zM414.75 405.02h6.62v1.8h-6.62zM427.9 405.02h6.62v1.8h-6.62zM454.2 405.02h6.62v1.8h-6.62zM467.35 405.02h6.62v1.8h-6.62zM427.9 406.77h6.62v1.8h-6.62zM467.35 406.77h6.62v1.8h-6.62zM408.18 408.52h6.62v1.8h-6.62zM408.18 410.27h6.62v1.8h-6.62zM414.75 410.27h6.62v1.8h-6.62zM421.33 410.27h6.62v1.8h-6.62zM427.9 412.02h6.62v1.8h-6.62zM414.75 413.78h6.62v1.8h-6.62zM441.05 415.53h6.62v1.8h-6.62zM467.35 415.53h6.62v1.8h-6.62zM414.75 417.28h6.62v1.8h-6.62zM309.55 419.03h6.62v1.8h-6.62zM414.75 419.03h6.62v1.8h-6.62zM434.48 420.78h6.62v1.8h-6.62zM421.33 422.54h6.62v1.8h-6.62zM447.62 422.54h6.62v1.8h-6.62zM460.77 426.04h6.62v1.8h-6.62zM421.33 427.79h6.62v1.8h-6.62zM427.9 429.54h6.62v1.8h-6.62zM447.62 429.54h6.62v1.8h-6.62zM473.93 429.54h6.62v1.8h-6.62zM414.75 431.3h6.62v1.8h-6.62zM434.48 431.3h6.62v1.8h-6.62zM467.35 431.3h6.62v1.8h-6.62zM408.18 433.05h6.62v1.8h-6.62zM447.62 433.05h6.62v1.8h-6.62zM467.35 433.05h6.62v1.8h-6.62zM421.33 434.8h6.62v1.8h-6.62zM427.9 438.3h6.62v1.8h-6.62zM473.93 438.3h6.62v1.8h-6.62zM414.75 440.06h6.62v1.8h-6.62zM309.55 441.81h6.62v1.8h-6.62zM309.55 443.56h6.62v1.8h-6.62zM355.58 443.56h6.62v1.8h-6.62zM441.05 443.56h6.62v1.8h-6.62zM276.68 445.31h6.62v1.8h-6.62zM355.58 445.31h6.62v1.8h-6.62zM408.18 445.31h6.62v1.8h-6.62zM309.55 447.06h6.62v1.8h-6.62zM414.75 447.06h6.62v1.8h-6.62zM309.55 450.57h6.62v1.8h-6.62zM414.75 450.57h6.62v1.8h-6.62zM460.77 450.57h6.62v1.8h-6.62zM414.75 452.32h6.62v1.8h-6.62zM427.9 452.32h6.62v1.8h-6.62zM467.35 452.32h6.62v1.8h-6.62zM414.75 454.07h6.62v1.8h-6.62zM427.9 454.07h6.62v1.8h-6.62zM467.35 454.07h6.62v1.8h-6.62zM473.93 454.07h6.62v1.8h-6.62zM447.62 455.82h6.62v1.8h-6.62zM454.2 455.82h6.62v1.8h-6.62zM447.62 457.58h6.62v1.8h-6.62zM460.77 457.58h6.62v1.8h-6.62zM473.93 457.58h6.62v1.8h-6.62zM441.05 459.33h6.62v1.8h-6.62zM414.75 461.08h6.62v1.8h-6.62zM427.9 461.08h6.62v1.8h-6.62zM447.62 462.83h6.62v1.8h-6.62zM467.35 462.83h6.62v1.8h-6.62zM408.18 464.58h6.62v1.8h-6.62zM434.48 464.58h6.62v1.8h-6.62zM467.35 466.34h6.62v1.8h-6.62zM408.18 468.09h6.62v1.8h-6.62zM427.9 468.09h6.62v1.8h-6.62zM276.68 471.59h6.62v1.8h-6.62zM302.98 471.59h6.62v1.8h-6.62zM309.55 471.59h6.62v1.8h-6.62zM408.18 475.1h6.62v1.8h-6.62zM454.2 475.1h6.62v1.8h-6.62zM309.55 476.85h6.62v1.8h-6.62zM441.05 476.85h6.62v1.8h-6.62zM447.62 476.85h6.62v1.8h-6.62zM355.58 480.35h6.62v1.8h-6.62zM447.62 480.35h6.62v1.8h-6.62zM473.93 480.35h6.62v1.8h-6.62zM467.35 482.1h6.62v1.8h-6.62zM414.75 483.86h6.62v1.8h-6.62zM427.9 483.86h6.62v1.8h-6.62zM460.77 483.86h6.62v1.8h-6.62zM434.48 485.61h6.62v1.8h-6.62zM276.68 489.11h6.62v1.8h-6.62zM473.93 489.11h6.62v1.8h-6.62zM355.58 490.86h6.62v1.8h-6.62zM447.62 492.62h6.62v1.8h-6.62zM454.2 492.62h6.62v1.8h-6.62zM414.75 494.37h6.62v1.8h-6.62zM408.18 496.12h6.62v1.8h-6.62zM441.05 496.12h6.62v1.8h-6.62zM467.35 496.12h6.62v1.8h-6.62zM467.35 497.87h6.62v1.8h-6.62zM427.9 499.62h6.62v1.8h-6.62zM467.35 499.62h6.62v1.8h-6.62zM270.1 501.38h6.62v1.8h-6.62zM434.48 503.13h6.62v1.8h-6.62zM447.62 503.13h6.62v1.8h-6.62zM362.15 510.14h6.62v1.8h-6.62zM316.12 515.39h6.62v1.8h-6.62zM375.3 515.39h6.62v1.8h-6.62zM395.02 515.39h6.62v1.8h-6.62zM447.62 515.39h6.62v1.8h-6.62z"/>
<path fill="#b6b6f6" d="M460.77 172h6.62v1.8h-6.62zM467.35 172h6.62v1.8h-6.62zM289.83 173.75h6.62v1.8h-6.62zM316.12 173.75h6.62v1.8h-6.62zM467.35 173.75h6.62v1.8h-6.62zM408.18 175.5h6.62v1.8h-6.62zM414.75 175.5h6.62v1.8h-6.62zM467.35 175.5h6.62v1.8h-6.62zM302.98 177.26h6.62v1.8h-6.62zM408.18 177.26h6.62v1.8h-6.62zM414.75 177.26h6.62v1.8h-6.62zM434.48 177.26h6.62v1.8h-6.62zM447.62 177.26h6.62v1.8h-6.62zM467.35 177.26h6.62v1.8h-6.62zM473.93 177.26h6.62v1.8h-6.62zM289.83 179.01h6.62v1.8h-6.62zM395.02 179.01h6.62v1.8h-6.62zM427.9 179.01h6.62v1.8h-6.62zM454.2 179.01h6.62v1.8h-6.62zM460.77 179.01h6.62v1.8h-6.62zM289.83 180.76h6.62v1.8h-6.62zM329.28 180.76h6.62v1.8h-6.62zM414.75 180.76h6.62v1.8h-6.62zM355.58 182.51h6.62v1.8h-6.62zM441.05 182.51h6.62v1.8h-6.62zM467.35 182.51h6.62v1.8h-6.62zM349 184.26h6.62v1.8h-6.62zM408.18 184.26h6.62v1.8h-6.62zM447.62 184.26h6.62v1.8h-6.62zM467.35 184.26h6.62v1.8h-6.62zM289.83 186.02h6.62v1.8h-6.62zM408.18 186.02h6.62v1.8h-6.62zM289.83 187.77h6.62v1.8h-6.62zM408.18 187.77h6.62v1.8h-6.62zM421.33 189.52h6.62v1.8h-6.62zM427.9 189.52h6.62v1.8h-6.62zM441.05 189.52h6.62v1.8h-6.62zM335.85 191.27h6.62v1.8h-6.62zM447.62 191.27h6.62v1.8h-6.62zM454.2 191.27h6.62v1.8h-6.62zM408.18 193.02h6.62v1.8h-6.62zM296.4 196.53h6.62v1.8h-6.62zM434.48 198.28h6.62v1.8h-6.62zM342.43 200.03h6.62v1.8h-6.62zM421.33 200.03h6.62v1.8h-6.62zM427.9 200.03h6.62v1.8h-6.62zM447.62 200.03h6.62v1.8h-6.62zM460.77 200.03h6.62v1.8h-6.62zM441.05 203.54h6.62v1.8h-6.62zM414.75 205.29h6.62v1.8h-6.62zM276.68 207.04h6.62v1.8h-6.62zM335.85 207.04h6.62v1.8h-6.62zM467.35 207.04h6.62v1.8h-6.62zM414.75 208.79h6.62v1.8h-6.62zM434.48 210.54h6.62v1.8h-6.62zM447.62 210.54h6.62v1.8h-6.62zM276.68 212.3h6.62v1.8h-6.62zM408.18 212.3h6.62v1.8h-6.62zM414.75 212.3h6.62v1.8h-6.62zM454.2 212.3h6.62v1.8h-6.62zM467.35 212.3h6.62v1.8h-6.62zM473.93 212.3h6.62v1.8h-6.62zM467.35 214.05h6.62v1.8h-6.62zM447.62 215.8h6.62v1.8h-6.62zM434.48 217.55h6.62v1.8h-6.62zM414.75 219.3h6.62v1.8h-6.62zM447.62 219.3h6.62v1.8h-6.62zM355.58 221.06h6.62v1.8h-6.62zM434.48 221.06h6.62v1.8h-6.62zM362.15 224.56h6.62v1.8h-6.62zM355.58 226.31h6.62v1.8h-6.62zM427.9 226.31h6.62v1.8h-6.62zM467.35 226.31h6.62v1.8h-6.62zM276.68 228.06h6.62v1.8h-6.62zM408.18 228.06h6.62v1.8h-6.62zM414.75 228.06h6.62v1.8h-6.62zM460.77 228.06h6.62v1.8h-6.62zM467.35 228.06h6.62v1.8h-6.62zM473.93 228.06h6.62v1.8h-6.62zM289.83 229.82h6.62v1.8h-6.62zM302.98 229.82h6.62v1.8h-6.62zM408.18 229.82h6.62v1.8h-6.62zM434.48 229.82h6.62v1.8h-6.62zM434.48 231.57h6.62v1.8h-6.62zM342.43 233.32h6.62v1.8h-6.62zM368.73 233.32h6.62v1.8h-6.62zM434.48 235.07h6.62v1.8h-6.62zM473.93 235.07h6.62v1.8h-6.62zM434.48 238.58h6.62v1.8h-6.62zM467.35 238.58h6.62v1.8h-6.62zM368.73 240.33h6.62v1.8h-6.62zM421.33 240.33h6.62v1.8h-6.62zM434.48 240.33h6.62v1.8h-6.62zM441.05 242.08h6.62v1.8h-6.62zM289.83 243.83h6.62v1.8h-6.62zM414.75 243.83h6.62v1.8h-6.62zM447.62 243.83h6.62v1.8h-6.62zM427.9 245.58h6.62v1.8h-6.62zM467.35 245.58h6.62v1.8h-6.62zM473.93 245.58h6.62v1.8h-6.62zM427.9 249.09h6.62v1.8h-6.62zM434.48 249.09h6.62v1.8h-6.62zM296.4 250.84h6.62v1.8h-6.62zM414.75 250.84h6.62v1.8h-6.62zM434.48 250.84h6.62v1.8h-6.62zM454.2 250.84h6.62v1.8h-6.62zM375.3 252.59h6.62v1.8h-6.62zM408.18 252.59h6.62v1.8h-6.62zM454.2 252.59h6.62v1.8h-6.62zM283.25 254.34h6.62v1.8h-6.62zM342.43 254.34h6.62v1.8h-6.62zM434.48 254.34h6.62v1.8h-6.62zM441.05 254.34h6.62v1.8h-6.62zM447.62 254.34h6.62v1.8h-6.62zM460.77 254.34h6.62v1.8h-6.62zM467.35 254.34h6.62v1.8h-6.62zM473.93 254.34h6.62v1.8h-6.62zM296.4 256.1h6.62v1.8h-6.62zM322.7 256.1h6.62v1.8h-6.62zM329.28 256.1h6.62v1.8h-6.62zM342.43 256.1h6.62v1.8h-6.62zM441.05 256.1h6.62v1.8h-6.62zM447.62 257.85h6.62v1.8h-6.62zM289.83 261.35h6.62v1.8h-6.62zM467.35 261.35h6.62v1.8h-6.62zM421.33 263.1h6.62v1.8h-6.62zM467.35 263.1h6.62v1.8h-6.62zM329.28 264.86h6.62v1.8h-6.62zM408.18 264.86h6.62v1.8h-6.62zM342.43 270.11h6.62v1.8h-6.62zM427.9 270.11h6.62v1.8h-6.62zM454.2 270.11h6.62v1.8h-6.62zM427.9 271.86h6.62v1.8h-6.62zM447.62 273.62h6.62v1.8h-6.62zM454.2 273.62h6.62v1.8h-6.62zM473.93 273.62h6.62v1.8h-6.62zM289.83 275.37h6.62v1.8h-6.62zM434.48 275.37h6.62v1.8h-6.62zM447.62 275.37h6.62v1.8h-6.62zM454.2 275.37h6.62v1.8h-6.62zM309.55 277.12h6.62v1.8h-6.62zM289.83 278.87h6.62v1.8h-6.62zM309.55 278.87h6.62v1.8h-6.62zM473.93 280.62h6.62v1.8h-6.62zM434.48 284.13h6.62v1.8h-6.62zM454.2 284.13h6.62v1.8h-6.62zM467.35 284.13h6.62v1.8h-6.62zM296.4 285.88h6.62v1.8h-6.62zM309.55 285.88h6.62v1.8h-6.62zM408.18 285.88h6.62v1.8h-6.62zM441.05 285.88h6.62v1.8h-6.62zM289.83 287.63h6.62v1.8h-6.62zM368.73 287.63h6.62v1.8h-6.62zM408.18 287.63h6.62v1.8h-6.62zM414.75 287.63h6.62v1.8h-6.62zM421.33 287.63h6.62v1.8h-6.62zM454.2 287.63h6.62v1.8h-6.62zM460.77 287.63h6.62v1.8h-6.62zM309.55 289.38h6.62v1.8h-6.62zM414.75 292.89h6.62v1.8h-6.62zM421.33 292.89h6.62v1.8h-6.62zM270.1 294.64h6.62v1.8h-6.62zM309.55 294.64h6.62v1.8h-6.62zM467.35 294.64h6.62v1.8h-6.62zM408.18 296.39h6.62v1.8h-6.62zM427.9 296.39h6.62v1.8h-6.62zM434.48 296.39h6.62v1.8h-6.62zM447.62 296.39h6.62v1.8h-6.62zM414.75 298.14h6.62v1.8h-6.62zM454.2 298.14h6.62v1.8h-6.62zM408.18 299.9h6.62v1.8h-6.62zM434.48 299.9h6.62v1.8h-6.62zM447.62 299.9h6.62v1.8h-6.62zM421.33 301.65h6.62v1.8h-6.62zM441.05 301.65h6.62v1.8h-6.62zM441.05 303.4h6.62v1.8h-6.62zM276.68 305.15h6.62v1.8h-6.62zM296.4 305.15h6.62v1.8h-6.62zM473.93 305.15h6.62v1.8h-6.62zM434.48 306.9h6.62v1.8h-6.62zM421.33 308.66h6.62v1.8h-6.62zM460.77 308.66h6.62v1.8h-6.62zM408.18 310.41h6.62v1.8h-6.62zM414.75 310.41h6.62v1.8h-6.62zM434.48 310.41h6.62v1.8h-6.62zM309.55 312.16h6.62v1.8h-6.62zM316.12 312.16h6.62v1.8h-6.62zM408.18 313.91h6.62v1.8h-6.62zM421.33 313.91h6.62v1.8h-6.62zM434.48 313.91h6.62v1.8h-6.62zM467.35 313.91h6.62v1.8h-6.62zM342.43 315.66h6.62v1.8h-6.62zM401.6 315.66h6.62v1.8h-6.62zM421.33 315.66h6.62v1.8h-6.62zM309.55 317.42h6.62v1.8h-6.62zM427.9 317.42h6.62v1.8h-6.62zM434.48 317.42h6.62v1.8h-6.62zM467.35 317.42h6.62v1.8h-6.62zM276.68 319.17h6.62v1.8h-6.62zM296.4 319.17h6.62v1.8h-6.62zM408.18 319.17h6.62v1.8h-6.62zM421.33 319.17h6.62v1.8h-6.62zM441.05 320.92h6.62v1.8h-6.62zM276.68 322.67h6.62v1.8h-6.62zM342.43 322.67h6.62v1.8h-6.62zM355.58 322.67h6.62v1.8h-6.62zM401.6 324.42h6.62v1.8h-6.62zM421.33 324.42h6.62v1.8h-6.62zM434.48 324.42h6.62v1.8h-6.62zM414.75 326.18h6.62v1.8h-6.62zM381.88 327.93h6.62v1.8h-6.62zM434.48 327.93h6.62v1.8h-6.62zM414.75 329.68h6.62v1.8h-6.62zM473.93 329.68h6.62v1.8h-6.62zM276.68 331.43h6.62v1.8h-6.62zM342.43 331.43h6.62v1.8h-6.62zM408.18 331.43h6.62v1.8h-6.62zM434.48 331.43h6.62v1.8h-6.62zM309.55 333.18h6.62v1.8h-6.62zM421.33 333.18h6.62v1.8h-6.62zM276.68 334.94h6.62v1.8h-6.62zM421.33 334.94h6.62v1.8h-6.62zM408.18 336.69h6.62v1.8h-6.62zM473.93 336.69h6.62v1.8h-6.62zM408.18 338.44h6.62v1.8h-6.62zM421.33 338.44h6.62v1.8h-6.62zM434.48 338.44h6.62v1.8h-6.62zM276.68 340.19h6.62v1.8h-6.62zM408.18 340.19h6.62v1.8h-6.62zM296.4 341.94h6.62v1.8h-6.62zM355.58 341.94h6.62v1.8h-6.62zM381.88 341.94h6.62v1.8h-6.62zM355.58 343.7h6.62v1.8h-6.62zM421.33 343.7h6.62v1.8h-6.62zM441.05 343.7h6.62v1.8h-6.62zM408.18 345.45h6.62v1.8h-6.62zM414.75 345.45h6.62v1.8h-6.62zM421.33 345.45h6.62v1.8h-6.62zM434.48 345.45h6.62v1.8h-6.62zM447.62 345.45h6.62v1.8h-6.62zM460.77 345.45h6.62v1.8h-6.62zM296.4 347.2h6.62v1.8h-6.62zM355.58 347.2h6.62v1.8h-6.62zM401.6 347.2h6.62v1.8h-6.62zM421.33 347.2h6.62v1.8h-6.62zM427.9 347.2h6.62v1.8h-6.62zM447.62 347.2h6.62v1.8h-6.62zM467.35 347.2h6.62v1.8h-6.62zM454.2 348.95h6.62v1.8h-6.62zM408.18 350.7h6.62v1.8h-6.62zM421.33 350.7h6.62v1.8h-6.62zM408.18 352.46h6.62v1.8h-6.62zM454.2 352.46h6.62v1.8h-6.62zM309.55 354.21h6.62v1.8h-6.62zM408.18 354.21h6.62v1.8h-6.62zM414.75 354.21h6.62v1.8h-6.62zM421.33 354.21h6.62v1.8h-6.62zM427.9 355.96h6.62v1.8h-6.62zM454.2 355.96h6.62v1.8h-6.62zM460.77 357.71h6.62v1.8h-6.62zM421.33 359.46h6.62v1.8h-6.62zM434.48 359.46h6.62v1.8h-6.62zM447.62 359.46h6.62v1.8h-6.62zM296.4 361.22h6.62v1.8h-6.62zM408.18 361.22h6.62v1.8h-6.62zM447.62 361.22h6.62v1.8h-6.62zM408.18 362.97h6.62v1.8h-6.62zM322.7 364.72h6.62v1.8h-6.62zM460.77 364.72h6.62v1.8h-6.62zM355.58 366.47h6.62v1.8h-6.62zM427.9 366.47h6.62v1.8h-6.62zM434.48 366.47h6.62v1.8h-6.62zM454.2 368.22h6.62v1.8h-6.62zM467.35 368.22h6.62v1.8h-6.62zM467.35 369.98h6.62v1.8h-6.62zM421.33 371.73h6.62v1.8h-6.62zM467.35 373.48h6.62v1.8h-6.62zM276.68 375.23h6.62v1.8h-6.62zM316.12 375.23h6.62v1.8h-6.62zM434.48 375.23h6.62v1.8h-6.62zM454.2 375.23h6.62v1.8h-6.62zM283.25 376.98h6.62v1.8h-6.62zM421.33 376.98h6.62v1.8h-6.62zM414.75 382.24h6.62v1.8h-6.62zM460.77 382.24h6.62v1.8h-6.62zM309.55 383.99h6.62v1.8h-6.62zM355.58 383.99h6.62v1.8h-6.62zM421.33 383.99h6.62v1.8h-6.62zM467.35 383.99h6.62v1.8h-6.62zM302.98 385.74h6.62v1.8h-6.62zM309.55 385.74h6.62v1.8h-6.62zM421.33 385.74h6.62v1.8h-6.62zM447.62 385.74h6.62v1.8h-6.62zM309.55 389.25h6.62v1.8h-6.62zM355.58 389.25h6.62v1.8h-6.62zM434.48 389.25h6.62v1.8h-6.62zM447.62 389.25h6.62v1.8h-6.62zM467.35 389.25h6.62v1.8h-6.62zM467.35 391h6.62v1.8h-6.62zM309.55 392.75h6.62v1.8h-6.62zM408.18 392.75h6.62v1.8h-6.62zM414.75 392.75h6.62v1.8h-6.62zM434.48 392.75h6.62v1.8h-6.62zM467.35 392.75h6.62v1.8h-6.62zM434.48 394.5h6.62v1.8h-6.62zM467.35 394.5h6.62v1.8h-6.62zM434.48 396.26h6.62v1.8h-6.62zM454.2 396.26h6.62v1.8h-6.62zM473.93 396.26h6.62v1.8h-6.62zM421.33 399.76h6.62v1.8h-6.62zM408.18 401.51h6.62v1.8h-6.62zM414.75 401.51h6.62v1.8h-6.62zM441.05 401.51h6.62v1.8h-6.62zM408.18 403.26h6.62v1.8h-6.62zM427.9 403.26h6.62v1.8h-6.62zM460.77 403.26h6.62v1.8h-6.62zM381.88 405.02h6.62v1.8h-6.62zM309.55 406.77h6.62v1.8h-6.62zM408.18 406.77h6.62v1.8h-6.62zM421.33 406.77h6.62v1.8h-6.62zM447.62 406.77h6.62v1.8h-6.62zM454.2 406.77h6.62v1.8h-6.62zM335.85 408.52h6.62v1.8h-6.62zM434.48 408.52h6.62v1.8h-6.62zM454.2 408.52h6.62v1.8h-6.62zM460.77 408.52h6.62v1.8h-6.62zM335.85 410.27h6.62v1.8h-6.62zM355.58 410.27h6.62v1.8h-6.62zM434.48 410.27h6.62v1.8h-6.62zM322.7 412.02h6.62v1.8h-6.62zM441.05 412.02h6.62v1.8h-6.62zM408.18 413.78h6.62v1.8h-6.62zM447.62 413.78h6.62v1.8h-6.62zM302.98 415.53h6.62v1.8h-6.62zM335.85 415.53h6.62v1.8h-6.62zM414.75 415.53h6.62v1.8h-6.62zM421.33 415.53h6.62v1.8h-6.62zM296.4 417.28h6.62v1.8h-6.62zM454.2 419.03h6.62v1.8h-6.62zM414.75 420.78h6.62v1.8h-6.62zM427.9 420.78h6.62v1.8h-6.62zM434.48 422.54h6.62v1.8h-6.62zM454.2 422.54h6.62v1.8h-6.62zM427.9 424.29h6.62v1.8h-6.62zM434.48 426.04h6.62v1.8h-6.62zM441.05 426.04h6.62v1.8h-6.62zM473.93 426.04h6.62v1.8h-6.62zM414.75 427.79h6.62v1.8h-6.62zM434.48 427.79h6.62v1.8h-6.62zM467.35 427.79h6.62v1.8h-6.62zM434.48 429.54h6.62v1.8h-6.62zM454.2 434.8h6.62v1.8h-6.62zM447.62 436.55h6.62v1.8h-6.62zM454.2 436.55h6.62v1.8h-6.62zM467.35 436.55h6.62v1.8h-6.62zM467.35 438.3h6.62v1.8h-6.62zM408.18 440.06h6.62v1.8h-6.62zM427.9 440.06h6.62v1.8h-6.62zM434.48 440.06h6.62v1.8h-6.62zM467.35 440.06h6.62v1.8h-6.62zM473.93 440.06h6.62v1.8h-6.62zM427.9 441.81h6.62v1.8h-6.62zM434.48 441.81h6.62v1.8h-6.62zM473.93 441.81h6.62v1.8h-6.62zM408.18 443.56h6.62v1.8h-6.62zM427.9 443.56h6.62v1.8h-6.62zM434.48 443.56h6.62v1.8h-6.62zM467.35 443.56h6.62v1.8h-6.62zM276.68 447.06h6.62v1.8h-6.62zM362.15 447.06h6.62v1.8h-6.62zM447.62 447.06h6.62v1.8h-6.62zM414.75 448.82h6.62v1.8h-6.62zM427.9 448.82h6.62v1.8h-6.62zM447.62 448.82h6.62v1.8h-6.62zM355.58 450.57h6.62v1.8h-6.62zM427.9 450.57h6.62v1.8h-6.62zM441.05 450.57h6.62v1.8h-6.62zM467.35 450.57h6.62v1.8h-6.62zM355.58 452.32h6.62v1.8h-6.62zM473.93 452.32h6.62v1.8h-6.62zM309.55 454.07h6.62v1.8h-6.62zM441.05 454.07h6.62v1.8h-6.62zM408.18 459.33h6.62v1.8h-6.62zM441.05 461.08h6.62v1.8h-6.62zM447.62 461.08h6.62v1.8h-6.62zM454.2 462.83h6.62v1.8h-6.62zM355.58 464.58h6.62v1.8h-6.62zM381.88 464.58h6.62v1.8h-6.62zM276.68 466.34h6.62v1.8h-6.62zM454.2 468.09h6.62v1.8h-6.62zM454.2 469.84h6.62v1.8h-6.62zM447.62 471.59h6.62v1.8h-6.62zM408.18 473.34h6.62v1.8h-6.62zM434.48 475.1h6.62v1.8h-6.62zM447.62 475.1h6.62v1.8h-6.62zM270.1 476.85h6.62v1.8h-6.62zM408.18 476.85h6.62v1.8h-6.62zM447.62 478.6h6.62v1.8h-6.62zM408.18 480.35h6.62v1.8h-6.62zM467.35 480.35h6.62v1.8h-6.62zM447.62 483.86h6.62v1.8h-6.62zM355.58 485.61h6.62v1.8h-6.62zM447.62 485.61h6.62v1.8h-6.62zM276.68 487.36h6.62v1.8h-6.62zM434.48 489.11h6.62v1.8h-6.62zM441.05 489.11h6.62v1.8h-6.62zM276.68 490.86h6.62v1.8h-6.62zM414.75 490.86h6.62v1.8h-6.62zM427.9 490.86h6.62v1.8h-6.62zM467.35 490.86h6.62v1.8h-6.62zM473.93 490.86h6.62v1.8h-6.62zM270.1 492.62h6.62v1.8h-6.62zM276.68 492.62h6.62v1.8h-6.62zM335.85 492.62h6.62v1.8h-6.62zM408.18 492.62h6.62v1.8h-6.62zM467.35 492.62h6.62v1.8h-6.62zM460.77 494.37h6.62v1.8h-6.62zM467.35 494.37h6.62v1.8h-6.62zM447.62 496.12h6.62v1.8h-6.62zM454.2 496.12h6.62v1.8h-6.62zM276.68 497.87h6.62v1.8h-6.62zM309.55 497.87h6.62v1.8h-6.62zM408.18 499.62h6.62v1.8h-6.62zM447.62 499.62h6.62v1.8h-6.62zM270.1 503.13h6.62v1.8h-6.62zM309.55 503.13h6.62v1.8h-6.62zM355.58 503.13h6.62v1.8h-6.62zM316.12 504.88h6.62v1.8h-6.62zM349 504.88h6.62v1.8h-6.62zM381.88 504.88h6.62v1.8h-6.62zM276.68 506.63h6.62v1.8h-6.62zM401.6 506.63h6.62v1.8h-6.62zM309.55 508.38h6.62v1.8h-6.62zM454.2 508.38h6.62v1.8h-6.62zM270.1 510.14h6.62v1.8h-6.62zM309.55 510.14h6.62v1.8h-6.62zM375.3 510.14h6.62v1.8h-6.62zM309.55 511.89h6.62v1.8h-6.62zM362.15 513.64h6.62v1.8h-6.62zM388.45 513.64h6.62v1.8h-6.62zM447.62 513.64h6.62v1.8h-6.62zM270.1 515.39h6.62v1.8h-6.62zM276.68 515.39h6.62v1.8h-6.62zM283.25 515.39h6.62v1.8h-6.62zM335.85 515.39h6.62v1.8h-6.62zM342.43 515.39h6.62v1.8h-6.62zM362.15 515.39h6.62v1.8h-6.62zM388.45 517.14h6.62v1.8h-6.62zM395.02 517.14h6.62v1.8h-6.62zM401.6 517.14h6.62v1.8h-6.62zM447.62 517.14h6.62v1.8h-6.62zM388.45 518.9h6.62v1.8h-6.62zM329.28 520.65h6.62v1.8h-6.62zM335.85 520.65h6.62v1.8h-6.62z"/>
<path fill="#c8c8f8" d="M289.83 172h6.62v1.8h-6.62zM302.98 172h6.62v1.8h-6.62zM355.58 172h6.62v1.8h-6.62zM421.33 172h6.62v1.8h-6.62zM441.05 172h6.62v1.8h-6.62zM473.93 172h6.62v1.8h-6.62zM302.98 173.75h6.62v1.8h-6.62zM322.7 173.75h6.62v1.8h-6.62zM362.15 173.75h6.62v1.8h-6.62zM447.62 173.75h6.62v1.8h-6.62zM302.98 175.5h6.62v1.8h-6.62zM421.33 175.5h6.62v1.8h-6.62zM447.62 175.5h6.62v1.8h-6.62zM454.2 175.5h6.62v1.8h-6.62zM460.77 175.5h6.62v1.8h-6.62zM283.25 177.26h6.62v1.8h-6.62zM289.83 177.26h6.62v1.8h-6.62zM427.9 177.26h6.62v1.8h-6.62zM473.93 179.01h6.62v1.8h-6.62zM427.9 180.76h6.62v1.8h-6.62zM454.2 180.76h6.62v1.8h-6.62zM473.93 180.76h6.62v1.8h-6.62zM414.75 182.51h6.62v1.8h-6.62zM421.33 182.51h6.62v1.8h-6.62zM473.93 182.51h6.62v1.8h-6.62zM421.33 184.26h6.62v1.8h-6.62zM460.77 184.26h6.62v1.8h-6.62zM276.68 186.02h6.62v1.8h-6.62zM302.98 186.02h6.62v1.8h-6.62zM349 186.02h6.62v1.8h-6.62zM421.33 186.02h6.62v1.8h-6.62zM427.9 186.02h6.62v1.8h-6.62zM467.35 186.02h6.62v1.8h-6.62zM349 187.77h6.62v1.8h-6.62zM427.9 187.77h6.62v1.8h-6.62zM460.77 187.77h6.62v1.8h-6.62zM467.35 187.77h6.62v1.8h-6.62zM283.25 189.52h6.62v1.8h-6.62zM414.75 191.27h6.62v1.8h-6.62zM427.9 191.27h6.62v1.8h-6.62zM460.77 191.27h6.62v1.8h-6.62zM289.83 193.02h6.62v1.8h-6.62zM302.98 193.02h6.62v1.8h-6.62zM335.85 193.02h6.62v1.8h-6.62zM434.48 193.02h6.62v1.8h-6.62zM454.2 193.02h6.62v1.8h-6.62zM296.4 194.78h6.62v1.8h-6.62zM460.77 194.78h6.62v1.8h-6.62zM302.98 196.53h6.62v1.8h-6.62zM395.02 196.53h6.62v1.8h-6.62zM447.62 198.28h6.62v1.8h-6.62zM454.2 200.03h6.62v1.8h-6.62zM335.85 201.78h6.62v1.8h-6.62zM335.85 203.54h6.62v1.8h-6.62zM349 203.54h6.62v1.8h-6.62zM355.58 203.54h6.62v1.8h-6.62zM408.18 203.54h6.62v1.8h-6.62zM283.25 205.29h6.62v1.8h-6.62zM322.7 205.29h6.62v1.8h-6.62zM302.98 208.79h6.62v1.8h-6.62zM375.3 208.79h6.62v1.8h-6.62zM441.05 208.79h6.62v1.8h-6.62zM408.18 210.54h6.62v1.8h-6.62zM414.75 210.54h6.62v1.8h-6.62zM441.05 210.54h6.62v1.8h-6.62zM460.77 210.54h6.62v1.8h-6.62zM467.35 210.54h6.62v1.8h-6.62zM401.6 212.3h6.62v1.8h-6.62zM276.68 214.05h6.62v1.8h-6.62zM335.85 214.05h6.62v1.8h-6.62zM355.58 214.05h6.62v1.8h-6.62zM408.18 214.05h6.62v1.8h-6.62zM408.18 215.8h6.62v1.8h-6.62zM447.62 217.55h6.62v1.8h-6.62zM289.83 219.3h6.62v1.8h-6.62zM302.98 219.3h6.62v1.8h-6.62zM454.2 219.3h6.62v1.8h-6.62zM289.83 221.06h6.62v1.8h-6.62zM362.15 221.06h6.62v1.8h-6.62zM467.35 221.06h6.62v1.8h-6.62zM434.48 222.81h6.62v1.8h-6.62zM473.93 222.81h6.62v1.8h-6.62zM467.35 224.56h6.62v1.8h-6.62zM276.68 226.31h6.62v1.8h-6.62zM322.7 226.31h6.62v1.8h-6.62zM408.18 226.31h6.62v1.8h-6.62zM434.48 228.06h6.62v1.8h-6.62zM441.05 228.06h6.62v1.8h-6.62zM335.85 229.82h6.62v1.8h-6.62zM447.62 229.82h6.62v1.8h-6.62zM408.18 231.57h6.62v1.8h-6.62zM467.35 231.57h6.62v1.8h-6.62zM335.85 233.32h6.62v1.8h-6.62zM467.35 233.32h6.62v1.8h-6.62zM473.93 233.32h6.62v1.8h-6.62zM421.33 235.07h6.62v1.8h-6.62zM427.9 235.07h6.62v1.8h-6.62zM467.35 235.07h6.62v1.8h-6.62zM408.18 236.82h6.62v1.8h-6.62zM447.62 236.82h6.62v1.8h-6.62zM447.62 238.58h6.62v1.8h-6.62zM447.62 240.33h6.62v1.8h-6.62zM460.77 242.08h6.62v1.8h-6.62zM296.4 243.83h6.62v1.8h-6.62zM283.25 245.58h6.62v1.8h-6.62zM408.18 245.58h6.62v1.8h-6.62zM414.75 245.58h6.62v1.8h-6.62zM454.2 245.58h6.62v1.8h-6.62zM408.18 247.34h6.62v1.8h-6.62zM427.9 247.34h6.62v1.8h-6.62zM447.62 247.34h6.62v1.8h-6.62zM283.25 249.09h6.62v1.8h-6.62zM414.75 249.09h6.62v1.8h-6.62zM467.35 249.09h6.62v1.8h-6.62zM473.93 249.09h6.62v1.8h-6.62zM441.05 250.84h6.62v1.8h-6.62zM467.35 250.84h6.62v1.8h-6.62zM473.93 250.84h6.62v1.8h-6.62zM421.33 252.59h6.62v1.8h-6.62zM427.9 252.59h6.62v1.8h-6.62zM434.48 252.59h6.62v1.8h-6.62zM441.05 252.59h6.62v1.8h-6.62zM447.62 252.59h6.62v1.8h-6.62zM467.35 252.59h6.62v1.8h-6.62zM473.93 252.59h6.62v1.8h-6.62zM349 254.34h6.62v1.8h-6.62zM454.2 254.34h6.62v1.8h-6.62zM296.4 257.85h6.62v1.8h-6.62zM329.28 257.85h6.62v1.8h-6.62zM342.43 257.85h6.62v1.8h-6.62zM408.18 257.85h6.62v1.8h-6.62zM473.93 257.85h6.62v1.8h-6.62zM322.7 259.6h6.62v1.8h-6.62zM447.62 259.6h6.62v1.8h-6.62zM329.28 261.35h6.62v1.8h-6.62zM460.77 261.35h6.62v1.8h-6.62zM329.28 263.1h6.62v1.8h-6.62zM427.9 263.1h6.62v1.8h-6.62zM447.62 263.1h6.62v1.8h-6.62zM460.77 263.1h6.62v1.8h-6.62zM289.83 264.86h6.62v1.8h-6.62zM421.33 264.86h6.62v1.8h-6.62zM434.48 264.86h6.62v1.8h-6.62zM447.62 264.86h6.62v1.8h-6.62zM289.83 266.61h6.62v1.8h-6.62zM414.75 266.61h6.62v1.8h-6.62zM421.33 266.61h6.62v1.8h-6.62zM447.62 266.61h6.62v1.8h-6.62zM473.93 266.61h6.62v1.8h-6.62zM342.43 268.36h6.62v1.8h-6.62zM434.48 268.36h6.62v1.8h-6.62zM447.62 268.36h6.62v1.8h-6.62zM467.35 268.36h6.62v1.8h-6.62zM408.18 270.11h6.62v1.8h-6.62zM434.48 270.11h6.62v1.8h-6.62zM460.77 270.11h6.62v1.8h-6.62zM467.35 270.11h6.62v1.8h-6.62zM473.93 270.11h6.62v1.8h-6.62zM460.77 271.86h6.62v1.8h-6.62zM349 275.37h6.62v1.8h-6.62zM408.18 275.37h6.62v1.8h-6.62zM460.77 275.37h6.62v1.8h-6.62zM427.9 277.12h6.62v1.8h-6.62zM434.48 277.12h6.62v1.8h-6.62zM441.05 277.12h6.62v1.8h-6.62zM408.18 278.87h6.62v1.8h-6.62zM434.48 278.87h6.62v1.8h-6.62zM421.33 280.62h6.62v1.8h-6.62zM441.05 280.62h6.62v1.8h-6.62zM454.2 280.62h6.62v1.8h-6.62zM368.73 282.38h6.62v1.8h-6.62zM309.55 284.13h6.62v1.8h-6.62zM421.33 284.13h6.62v1.8h-6.62zM427.9 284.13h6.62v1.8h-6.62zM441.05 284.13h6.62v1.8h-6.62zM447.62 284.13h6.62v1.8h-6.62zM434.48 287.63h6.62v1.8h-6.62zM447.62 287.63h6.62v1.8h-6.62zM414.75 289.38h6.62v1.8h-6.62zM454.2 289.38h6.62v1.8h-6.62zM473.93 289.38h6.62v1.8h-6.62zM309.55 291.14h6.62v1.8h-6.62zM460.77 291.14h6.62v1.8h-6.62zM289.83 292.89h6.62v1.8h-6.62zM309.55 292.89h6.62v1.8h-6.62zM408.18 292.89h6.62v1.8h-6.62zM467.35 292.89h6.62v1.8h-6.62zM408.18 294.64h6.62v1.8h-6.62zM441.05 294.64h6.62v1.8h-6.62zM454.2 294.64h6.62v1.8h-6.62zM342.43 296.39h6.62v1.8h-6.62zM414.75 296.39h6.62v1.8h-6.62zM460.77 296.39h6.62v1.8h-6.62zM434.48 298.14h6.62v1.8h-6.62zM270.1 299.9h6.62v1.8h-6.62zM441.05 299.9h6.62v1.8h-6.62zM454.2 299.9h6.62v1.8h-6.62zM467.35 299.9h6.62v1.8h-6.62zM322.7 301.65h6.62v1.8h-6.62zM414.75 301.65h6.62v1.8h-6.62zM460.77 301.65h6.62v1.8h-6.62zM473.93 301.65h6.62v1.8h-6.62zM309.55 303.4h6.62v1.8h-6.62zM473.93 303.4h6.62v1.8h-6.62zM381.88 305.15h6.62v1.8h-6.62zM414.75 305.15h6.62v1.8h-6.62zM414.75 306.9h6.62v1.8h-6.62zM467.35 306.9h6.62v1.8h-6.62zM381.88 310.41h6.62v1.8h-6.62zM434.48 312.16h6.62v1.8h-6.62zM460.77 312.16h6.62v1.8h-6.62zM467.35 312.16h6.62v1.8h-6.62zM388.45 313.91h6.62v1.8h-6.62zM322.7 315.66h6.62v1.8h-6.62zM408.18 315.66h6.62v1.8h-6.62zM460.77 315.66h6.62v1.8h-6.62zM473.93 315.66h6.62v1.8h-6.62zM381.88 317.42h6.62v1.8h-6.62zM447.62 317.42h6.62v1.8h-6.62zM454.2 317.42h6.62v1.8h-6.62zM316.12 319.17h6.62v1.8h-6.62zM447.62 319.17h6.62v1.8h-6.62zM467.35 319.17h6.62v1.8h-6.62zM316.12 320.92h6.62v1.8h-6.62zM414.75 320.92h6.62v1.8h-6.62zM427.9 320.92h6.62v1.8h-6.62zM434.48 320.92h6.62v1.8h-6.62zM447.62 320.92h6.62v1.8h-6.62zM316.12 322.67h6.62v1.8h-6.62zM414.75 322.67h6.62v1.8h-6.62zM270.1 324.42h6.62v1.8h-6.62zM316.12 324.42h6.62v1.8h-6.62zM408.18 324.42h6.62v1.8h-6.62zM447.62 324.42h6.62v1.8h-6.62zM454.2 324.42h6.62v1.8h-6.62zM401.6 327.93h6.62v1.8h-6.62zM454.2 327.93h6.62v1.8h-6.62zM309.55 331.43h6.62v1.8h-6.62zM355.58 331.43h6.62v1.8h-6.62zM473.93 331.43h6.62v1.8h-6.62zM276.68 333.18h6.62v1.8h-6.62zM441.05 333.18h6.62v1.8h-6.62zM454.2 333.18h6.62v1.8h-6.62zM309.55 334.94h6.62v1.8h-6.62zM342.43 334.94h6.62v1.8h-6.62zM381.88 334.94h6.62v1.8h-6.62zM427.9 336.69h6.62v1.8h-6.62zM441.05 336.69h6.62v1.8h-6.62zM309.55 338.44h6.62v1.8h-6.62zM414.75 338.44h6.62v1.8h-6.62zM454.2 338.44h6.62v1.8h-6.62zM434.48 343.7h6.62v1.8h-6.62zM454.2 343.7h6.62v1.8h-6.62zM408.18 347.2h6.62v1.8h-6.62zM434.48 347.2h6.62v1.8h-6.62zM296.4 348.95h6.62v1.8h-6.62zM447.62 350.7h6.62v1.8h-6.62zM454.2 350.7h6.62v1.8h-6.62zM296.4 354.21h6.62v1.8h-6.62zM467.35 354.21h6.62v1.8h-6.62zM296.4 355.96h6.62v1.8h-6.62zM309.55 355.96h6.62v1.8h-6.62zM421.33 355.96h6.62v1.8h-6.62zM460.77 355.96h6.62v1.8h-6.62zM276.68 357.71h6.62v1.8h-6.62zM309.55 357.71h6.62v1.8h-6.62zM316.12 357.71h6.62v1.8h-6.62zM447.62 357.71h6.62v1.8h-6.62zM467.35 359.46h6.62v1.8h-6.62zM467.35 361.22h6.62v1.8h-6.62zM296.4 362.97h6.62v1.8h-6.62zM447.62 362.97h6.62v1.8h-6.62zM408.18 364.72h6.62v1.8h-6.62zM434.48 364.72h6.62v1.8h-6.62zM408.18 366.47h6.62v1.8h-6.62zM421.33 366.47h6.62v1.8h-6.62zM447.62 368.22h6.62v1.8h-6.62zM296.4 369.98h6.62v1.8h-6.62zM408.18 371.73h6.62v1.8h-6.62zM447.62 371.73h6.62v1.8h-6.62zM355.58 373.48h6.62v1.8h-6.62zM434.48 373.48h6.62v1.8h-6.62zM447.62 373.48h6.62v1.8h-6.62zM322.7 375.23h6.62v1.8h-6.62zM342.43 375.23h6.62v1.8h-6.62zM408.18 375.23h6.62v1.8h-6.62zM414.75 375.23h6.62v1.8h-6.62zM473.93 375.23h6.62v1.8h-6.62zM441.05 376.98h6.62v1.8h-6.62zM276.68 378.74h6.62v1.8h-6.62zM447.62 378.74h6.62v1.8h-6.62zM447.62 380.49h6.62v1.8h-6.62zM322.7 382.24h6.62v1.8h-6.62zM355.58 382.24h6.62v1.8h-6.62zM447.62 382.24h6.62v1.8h-6.62zM467.35 382.24h6.62v1.8h-6.62zM316.12 383.99h6.62v1.8h-6.62zM342.43 383.99h6.62v1.8h-6.62zM414.75 383.99h6.62v1.8h-6.62zM447.62 383.99h6.62v1.8h-6.62zM355.58 385.74h6.62v1.8h-6.62zM401.6 385.74h6.62v1.8h-6.62zM309.55 387.5h6.62v1.8h-6.62zM355.58 387.5h6.62v1.8h-6.62zM434.48 387.5h6.62v1.8h-6.62zM447.62 387.5h6.62v1.8h-6.62zM460.77 387.5h6.62v1.8h-6.62zM473.93 387.5h6.62v1.8h-6.62zM270.1 391h6.62v1.8h-6.62zM276.68 391h6.62v1.8h-6.62zM408.18 391h6.62v1.8h-6.62zM270.1 392.75h6.62v1.8h-6.62zM447.62 392.75h6.62v1.8h-6.62zM276.68 394.5h6.62v1.8h-6.62zM289.83 396.26h6.62v1.8h-6.62zM342.43 396.26h6.62v1.8h-6.62zM355.58 396.26h6.62v1.8h-6.62zM414.75 396.26h6.62v1.8h-6.62zM447.62 396.26h6.62v1.8h-6.62zM467.35 396.26h6.62v1.8h-6.62zM467.35 398.01h6.62v1.8h-6.62zM309.55 399.76h6.62v1.8h-6.62zM381.88 401.51h6.62v1.8h-6.62zM401.6 401.51h6.62v1.8h-6.62zM421.33 401.51h6.62v1.8h-6.62zM454.2 401.51h6.62v1.8h-6.62zM309.55 403.26h6.62v1.8h-6.62zM421.33 403.26h6.62v1.8h-6.62zM283.25 405.02h6.62v1.8h-6.62zM408.18 405.02h6.62v1.8h-6.62zM434.48 405.02h6.62v1.8h-6.62zM447.62 405.02h6.62v1.8h-6.62zM302.98 408.52h6.62v1.8h-6.62zM447.62 410.27h6.62v1.8h-6.62zM434.48 412.02h6.62v1.8h-6.62zM460.77 412.02h6.62v1.8h-6.62zM467.35 412.02h6.62v1.8h-6.62zM473.93 412.02h6.62v1.8h-6.62zM473.93 413.78h6.62v1.8h-6.62zM355.58 415.53h6.62v1.8h-6.62zM408.18 415.53h6.62v1.8h-6.62zM434.48 415.53h6.62v1.8h-6.62zM309.55 417.28h6.62v1.8h-6.62zM408.18 417.28h6.62v1.8h-6.62zM434.48 417.28h6.62v1.8h-6.62zM460.77 417.28h6.62v1.8h-6.62zM322.7 419.03h6.62v1.8h-6.62zM434.48 419.03h6.62v1.8h-6.62zM447.62 419.03h6.62v1.8h-6.62zM460.77 419.03h6.62v1.8h-6.62zM467.35 419.03h6.62v1.8h-6.62zM447.62 420.78h6.62v1.8h-6.62zM408.18 422.54h6.62v1.8h-6.62zM414.75 422.54h6.62v1.8h-6.62zM460.77 422.54h6.62v1.8h-6.62zM467.35 422.54h6.62v1.8h-6.62zM309.55 424.29h6.62v1.8h-6.62zM408.18 427.79h6.62v1.8h-6.62zM414.75 429.54h6.62v1.8h-6.62zM441.05 429.54h6.62v1.8h-6.62zM447.62 431.3h6.62v1.8h-6.62zM408.18 434.8h6.62v1.8h-6.62zM296.4 436.55h6.62v1.8h-6.62zM309.55 438.3h6.62v1.8h-6.62zM355.58 438.3h6.62v1.8h-6.62zM309.55 440.06h6.62v1.8h-6.62zM296.4 441.81h6.62v1.8h-6.62zM302.98 441.81h6.62v1.8h-6.62zM355.58 441.81h6.62v1.8h-6.62zM362.15 441.81h6.62v1.8h-6.62zM368.73 441.81h6.62v1.8h-6.62zM408.18 441.81h6.62v1.8h-6.62zM414.75 441.81h6.62v1.8h-6.62zM454.2 443.56h6.62v1.8h-6.62zM454.2 445.31h6.62v1.8h-6.62zM355.58 447.06h6.62v1.8h-6.62zM408.18 447.06h6.62v1.8h-6.62zM467.35 447.06h6.62v1.8h-6.62zM434.48 448.82h6.62v1.8h-6.62zM434.48 450.57h6.62v1.8h-6.62zM408.18 452.32h6.62v1.8h-6.62zM276.68 454.07h6.62v1.8h-6.62zM296.4 454.07h6.62v1.8h-6.62zM322.7 454.07h6.62v1.8h-6.62zM395.02 454.07h6.62v1.8h-6.62zM355.58 455.82h6.62v1.8h-6.62zM355.58 457.58h6.62v1.8h-6.62zM434.48 457.58h6.62v1.8h-6.62zM467.35 457.58h6.62v1.8h-6.62zM447.62 459.33h6.62v1.8h-6.62zM467.35 459.33h6.62v1.8h-6.62zM309.55 462.83h6.62v1.8h-6.62zM355.58 462.83h6.62v1.8h-6.62zM454.2 464.58h6.62v1.8h-6.62zM467.35 464.58h6.62v1.8h-6.62zM296.4 466.34h6.62v1.8h-6.62zM355.58 466.34h6.62v1.8h-6.62zM381.88 466.34h6.62v1.8h-6.62zM388.45 466.34h6.62v1.8h-6.62zM408.18 466.34h6.62v1.8h-6.62zM454.2 466.34h6.62v1.8h-6.62zM408.18 469.84h6.62v1.8h-6.62zM414.75 471.59h6.62v1.8h-6.62zM454.2 471.59h6.62v1.8h-6.62zM467.35 471.59h6.62v1.8h-6.62zM447.62 473.34h6.62v1.8h-6.62zM467.35 473.34h6.62v1.8h-6.62zM355.58 476.85h6.62v1.8h-6.62zM270.1 478.6h6.62v1.8h-6.62zM276.68 478.6h6.62v1.8h-6.62zM467.35 478.6h6.62v1.8h-6.62zM276.68 480.35h6.62v1.8h-6.62zM454.2 480.35h6.62v1.8h-6.62zM454.2 482.1h6.62v1.8h-6.62zM467.35 483.86h6.62v1.8h-6.62zM270.1 485.61h6.62v1.8h-6.62zM467.35 485.61h6.62v1.8h-6.62zM447.62 487.36h6.62v1.8h-6.62zM454.2 487.36h6.62v1.8h-6.62zM309.55 489.11h6.62v1.8h-6.62zM427.9 489.11h6.62v1.8h-6.62zM309.55 492.62h6.62v1.8h-6.62zM355.58 494.37h6.62v1.8h-6.62zM434.48 494.37h6.62v1.8h-6.62zM408.18 497.87h6.62v1.8h-6.62zM335.85 499.62h6.62v1.8h-6.62zM454.2 499.62h6.62v1.8h-6.62zM309.55 501.38h6.62v1.8h-6.62zM454.2 501.38h6.62v1.8h-6.62zM276.68 503.13h6.62v1.8h-6.62zM302.98 503.13h6.62v1.8h-6.62zM335.85 503.13h6.62v1.8h-6.62zM270.1 504.88h6.62v1.8h-6.62zM362.15 504.88h6.62v1.8h-6.62zM270.1 506.63h6.62v1.8h-6.62zM427.9 508.38h6.62v1.8h-6.62zM335.85 510.14h6.62v1.8h-6.62zM349 510.14h6.62v1.8h-6.62zM355.58 510.14h6.62v1.8h-6.62zM302.98 515.39h6.62v1.8h-6.62zM349 515.39h6.62v1.8h-6.62zM335.85 517.14h6.62v1.8h-6.62zM349 517.14h6.62v1.8h-6.62zM276.68 518.9h6.62v1.8h-6.62zM381.88 518.9h6.62v1.8h-6.62zM401.6 518.9h6.62v1.8h-6.62zM283.25 520.65h6.62v1.8h-6.62zM316.12 520.65h6.62v1.8h-6.62zM342.43 520.65h6.62v1.8h-6.62zM349 520.65h6.62v1.8h-6.62zM388.45 520.65h6.62v1.8h-6.62z"/>
<path fill="#dadafa" d="M316.12 172h6.62v1.8h-6.62zM322.7 172h6.62v1.8h-6.62zM342.43 172h6.62v1.8h-6.62zM447.62 172h6.62v1.8h-6.62zM408.18 173.75h6.62v1.8h-6.62zM460.77 173.75h6.62v1.8h-6.62zM473.93 173.75h6.62v1.8h-6.62zM316.12 175.5h6.62v1.8h-6.62zM322.7 175.5h6.62v1.8h-6.62zM362.15 179.01h6.62v1.8h-6.62zM296.4 180.76h6.62v1.8h-6.62zM342.43 180.76h6.62v1.8h-6.62zM427.9 182.51h6.62v1.8h-6.62zM460.77 182.51h6.62v1.8h-6.62zM414.75 184.26h6.62v1.8h-6.62zM441.05 186.02h6.62v1.8h-6.62zM454.2 186.02h6.62v1.8h-6.62zM460.77 186.02h6.62v1.8h-6.62zM302.98 187.77h6.62v1.8h-6.62zM342.43 187.77h6.62v1.8h-6.62zM441.05 187.77h6.62v1.8h-6.62zM335.85 189.52h6.62v1.8h-6.62zM342.43 189.52h6.62v1.8h-6.62zM414.75 189.52h6.62v1.8h-6.62zM342.43 191.27h6.62v1.8h-6.62zM401.6 191.27h6.62v1.8h-6.62zM434.48 191.27h6.62v1.8h-6.62zM441.05 191.27h6.62v1.8h-6.62zM414.75 193.02h6.62v1.8h-6.62zM441.05 193.02h6.62v1.8h-6.62zM460.77 193.02h6.62v1.8h-6.62zM467.35 193.02h6.62v1.8h-6.62zM414.75 194.78h6.62v1.8h-6.62zM467.35 194.78h6.62v1.8h-6.62zM289.83 196.53h6.62v1.8h-6.62zM322.7 196.53h6.62v1.8h-6.62zM342.43 198.28h6.62v1.8h-6.62zM408.18 198.28h6.62v1.8h-6.62zM441.05 198.28h6.62v1.8h-6.62zM454.2 198.28h6.62v1.8h-6.62zM362.15 200.03h6.62v1.8h-6.62zM441.05 200.03h6.62v1.8h-6.62zM414.75 201.78h6.62v1.8h-6.62zM283.25 203.54h6.62v1.8h-6.62zM421.33 203.54h6.62v1.8h-6.62zM427.9 203.54h6.62v1.8h-6.62zM467.35 203.54h6.62v1.8h-6.62zM362.15 207.04h6.62v1.8h-6.62zM441.05 207.04h6.62v1.8h-6.62zM349 208.79h6.62v1.8h-6.62zM408.18 208.79h6.62v1.8h-6.62zM447.62 208.79h6.62v1.8h-6.62zM460.77 208.79h6.62v1.8h-6.62zM302.98 210.54h6.62v1.8h-6.62zM355.58 210.54h6.62v1.8h-6.62zM473.93 210.54h6.62v1.8h-6.62zM414.75 214.05h6.62v1.8h-6.62zM276.68 215.8h6.62v1.8h-6.62zM454.2 215.8h6.62v1.8h-6.62zM454.2 217.55h6.62v1.8h-6.62zM467.35 217.55h6.62v1.8h-6.62zM335.85 219.3h6.62v1.8h-6.62zM362.15 219.3h6.62v1.8h-6.62zM283.25 221.06h6.62v1.8h-6.62zM408.18 221.06h6.62v1.8h-6.62zM414.75 221.06h6.62v1.8h-6.62zM408.18 222.81h6.62v1.8h-6.62zM414.75 224.56h6.62v1.8h-6.62zM289.83 226.31h6.62v1.8h-6.62zM362.15 226.31h6.62v1.8h-6.62zM375.3 226.31h6.62v1.8h-6.62zM434.48 226.31h6.62v1.8h-6.62zM447.62 226.31h6.62v1.8h-6.62zM467.35 229.82h6.62v1.8h-6.62zM447.62 231.57h6.62v1.8h-6.62zM408.18 235.07h6.62v1.8h-6.62zM447.62 235.07h6.62v1.8h-6.62zM421.33 236.82h6.62v1.8h-6.62zM434.48 236.82h6.62v1.8h-6.62zM467.35 236.82h6.62v1.8h-6.62zM395.02 238.58h6.62v1.8h-6.62zM283.25 240.33h6.62v1.8h-6.62zM362.15 240.33h6.62v1.8h-6.62zM395.02 240.33h6.62v1.8h-6.62zM283.25 242.08h6.62v1.8h-6.62zM296.4 242.08h6.62v1.8h-6.62zM473.93 242.08h6.62v1.8h-6.62zM276.68 243.83h6.62v1.8h-6.62zM283.25 243.83h6.62v1.8h-6.62zM296.4 245.58h6.62v1.8h-6.62zM447.62 245.58h6.62v1.8h-6.62zM296.4 249.09h6.62v1.8h-6.62zM408.18 249.09h6.62v1.8h-6.62zM289.83 250.84h6.62v1.8h-6.62zM329.28 250.84h6.62v1.8h-6.62zM421.33 250.84h6.62v1.8h-6.62zM460.77 250.84h6.62v1.8h-6.62zM283.25 252.59h6.62v1.8h-6.62zM296.4 252.59h6.62v1.8h-6.62zM302.98 252.59h6.62v1.8h-6.62zM329.28 252.59h6.62v1.8h-6.62zM375.3 254.34h6.62v1.8h-6.62zM302.98 256.1h6.62v1.8h-6.62zM427.9 256.1h6.62v1.8h-6.62zM447.62 256.1h6.62v1.8h-6.62zM454.2 256.1h6.62v1.8h-6.62zM289.83 257.85h6.62v1.8h-6.62zM427.9 257.85h6.62v1.8h-6.62zM322.7 261.35h6.62v1.8h-6.62zM473.93 261.35h6.62v1.8h-6.62zM289.83 263.1h6.62v1.8h-6.62zM473.93 263.1h6.62v1.8h-6.62zM302.98 264.86h6.62v1.8h-6.62zM454.2 264.86h6.62v1.8h-6.62zM467.35 264.86h6.62v1.8h-6.62zM342.43 266.61h6.62v1.8h-6.62zM408.18 266.61h6.62v1.8h-6.62zM454.2 266.61h6.62v1.8h-6.62zM467.35 266.61h6.62v1.8h-6.62zM460.77 268.36h6.62v1.8h-6.62zM473.93 268.36h6.62v1.8h-6.62zM388.45 270.11h6.62v1.8h-6.62zM447.62 270.11h6.62v1.8h-6.62zM447.62 271.86h6.62v1.8h-6.62zM322.7 275.37h6.62v1.8h-6.62zM467.35 275.37h6.62v1.8h-6.62zM447.62 277.12h6.62v1.8h-6.62zM441.05 278.87h6.62v1.8h-6.62zM460.77 278.87h6.62v1.8h-6.62zM473.93 278.87h6.62v1.8h-6.62zM289.83 280.62h6.62v1.8h-6.62zM296.4 280.62h6.62v1.8h-6.62zM309.55 280.62h6.62v1.8h-6.62zM434.48 280.62h6.62v1.8h-6.62zM467.35 280.62h6.62v1.8h-6.62zM289.83 282.38h6.62v1.8h-6.62zM408.18 284.13h6.62v1.8h-6.62zM329.28 285.88h6.62v1.8h-6.62zM296.4 287.63h6.62v1.8h-6.62zM441.05 287.63h6.62v1.8h-6.62zM467.35 287.63h6.62v1.8h-6.62zM289.83 289.38h6.62v1.8h-6.62zM296.4 289.38h6.62v1.8h-6.62zM408.18 289.38h6.62v1.8h-6.62zM421.33 289.38h6.62v1.8h-6.62zM460.77 289.38h6.62v1.8h-6.62zM467.35 289.38h6.62v1.8h-6.62zM368.73 291.14h6.62v1.8h-6.62zM421.33 291.14h6.62v1.8h-6.62zM276.68 294.64h6.62v1.8h-6.62zM296.4 294.64h6.62v1.8h-6.62zM329.28 294.64h6.62v1.8h-6.62zM414.75 294.64h6.62v1.8h-6.62zM289.83 296.39h6.62v1.8h-6.62zM296.4 296.39h6.62v1.8h-6.62zM335.85 296.39h6.62v1.8h-6.62zM355.58 296.39h6.62v1.8h-6.62zM408.18 298.14h6.62v1.8h-6.62zM427.9 298.14h6.62v1.8h-6.62zM447.62 298.14h6.62v1.8h-6.62zM460.77 298.14h6.62v1.8h-6.62zM296.4 299.9h6.62v1.8h-6.62zM460.77 299.9h6.62v1.8h-6.62zM434.48 301.65h6.62v1.8h-6.62zM447.62 301.65h6.62v1.8h-6.62zM276.68 303.4h6.62v1.8h-6.62zM421.33 303.4h6.62v1.8h-6.62zM427.9 303.4h6.62v1.8h-6.62zM447.62 305.15h6.62v1.8h-6.62zM467.35 305.15h6.62v1.8h-6.62zM309.55 308.66h6.62v1.8h-6.62zM434.48 308.66h6.62v1.8h-6.62zM421.33 310.41h6.62v1.8h-6.62zM441.05 310.41h6.62v1.8h-6.62zM381.88 312.16h6.62v1.8h-6.62zM421.33 312.16h6.62v1.8h-6.62zM427.9 312.16h6.62v1.8h-6.62zM316.12 313.91h6.62v1.8h-6.62zM342.43 313.91h6.62v1.8h-6.62zM401.6 313.91h6.62v1.8h-6.62zM427.9 313.91h6.62v1.8h-6.62zM460.77 313.91h6.62v1.8h-6.62zM296.4 315.66h6.62v1.8h-6.62zM427.9 315.66h6.62v1.8h-6.62zM296.4 317.42h6.62v1.8h-6.62zM289.83 319.17h6.62v1.8h-6.62zM381.88 319.17h6.62v1.8h-6.62zM414.75 319.17h6.62v1.8h-6.62zM427.9 319.17h6.62v1.8h-6.62zM355.58 320.92h6.62v1.8h-6.62zM454.2 320.92h6.62v1.8h-6.62zM270.1 322.67h6.62v1.8h-6.62zM401.6 322.67h6.62v1.8h-6.62zM401.6 331.43h6.62v1.8h-6.62zM467.35 331.43h6.62v1.8h-6.62zM296.4 333.18h6.62v1.8h-6.62zM316.12 333.18h6.62v1.8h-6.62zM355.58 333.18h6.62v1.8h-6.62zM401.6 333.18h6.62v1.8h-6.62zM408.18 333.18h6.62v1.8h-6.62zM460.77 333.18h6.62v1.8h-6.62zM289.83 334.94h6.62v1.8h-6.62zM296.4 334.94h6.62v1.8h-6.62zM401.6 334.94h6.62v1.8h-6.62zM414.75 334.94h6.62v1.8h-6.62zM427.9 334.94h6.62v1.8h-6.62zM441.05 334.94h6.62v1.8h-6.62zM454.2 334.94h6.62v1.8h-6.62zM289.83 336.69h6.62v1.8h-6.62zM322.7 336.69h6.62v1.8h-6.62zM381.88 336.69h6.62v1.8h-6.62zM414.75 336.69h6.62v1.8h-6.62zM434.48 336.69h6.62v1.8h-6.62zM447.62 336.69h6.62v1.8h-6.62zM454.2 336.69h6.62v1.8h-6.62zM467.35 336.69h6.62v1.8h-6.62zM296.4 340.19h6.62v1.8h-6.62zM401.6 341.94h6.62v1.8h-6.62zM401.6 343.7h6.62v1.8h-6.62zM408.18 343.7h6.62v1.8h-6.62zM414.75 343.7h6.62v1.8h-6.62zM447.62 343.7h6.62v1.8h-6.62zM414.75 347.2h6.62v1.8h-6.62zM276.68 348.95h6.62v1.8h-6.62zM408.18 348.95h6.62v1.8h-6.62zM329.28 354.21h6.62v1.8h-6.62zM355.58 354.21h6.62v1.8h-6.62zM427.9 354.21h6.62v1.8h-6.62zM276.68 355.96h6.62v1.8h-6.62zM401.6 357.71h6.62v1.8h-6.62zM276.68 359.46h6.62v1.8h-6.62zM309.55 359.46h6.62v1.8h-6.62zM309.55 361.22h6.62v1.8h-6.62zM454.2 361.22h6.62v1.8h-6.62zM467.35 362.97h6.62v1.8h-6.62zM414.75 364.72h6.62v1.8h-6.62zM427.9 364.72h6.62v1.8h-6.62zM454.2 364.72h6.62v1.8h-6.62zM467.35 364.72h6.62v1.8h-6.62zM289.83 366.47h6.62v1.8h-6.62zM309.55 366.47h6.62v1.8h-6.62zM467.35 366.47h6.62v1.8h-6.62zM421.33 368.22h6.62v1.8h-6.62zM427.9 368.22h6.62v1.8h-6.62zM309.55 369.98h6.62v1.8h-6.62zM355.58 371.73h6.62v1.8h-6.62zM427.9 371.73h6.62v1.8h-6.62zM302.98 375.23h6.62v1.8h-6.62zM362.15 375.23h6.62v1.8h-6.62zM368.73 375.23h6.62v1.8h-6.62zM467.35 375.23h6.62v1.8h-6.62zM296.4 376.98h6.62v1.8h-6.62zM460.77 376.98h6.62v1.8h-6.62zM467.35 376.98h6.62v1.8h-6.62zM408.18 382.24h6.62v1.8h-6.62zM434.48 382.24h6.62v1.8h-6.62zM276.68 383.99h6.62v1.8h-6.62zM401.6 383.99h6.62v1.8h-6.62zM408.18 387.5h6.62v1.8h-6.62zM421.33 387.5h6.62v1.8h-6.62zM441.05 387.5h6.62v1.8h-6.62zM276.68 389.25h6.62v1.8h-6.62zM302.98 389.25h6.62v1.8h-6.62zM289.83 391h6.62v1.8h-6.62zM401.6 391h6.62v1.8h-6.62zM276.68 392.75h6.62v1.8h-6.62zM355.58 392.75h6.62v1.8h-6.62zM270.1 394.5h6.62v1.8h-6.62zM276.68 398.01h6.62v1.8h-6.62zM309.55 398.01h6.62v1.8h-6.62zM408.18 398.01h6.62v1.8h-6.62zM322.7 401.51h6.62v1.8h-6.62zM355.58 401.51h6.62v1.8h-6.62zM467.35 401.51h6.62v1.8h-6.62zM447.62 403.26h6.62v1.8h-6.62zM355.58 405.02h6.62v1.8h-6.62zM421.33 405.02h6.62v1.8h-6.62zM355.58 408.52h6.62v1.8h-6.62zM447.62 408.52h6.62v1.8h-6.62zM283.25 412.02h6.62v1.8h-6.62zM302.98 412.02h6.62v1.8h-6.62zM401.6 412.02h6.62v1.8h-6.62zM414.75 412.02h6.62v1.8h-6.62zM421.33 412.02h6.62v1.8h-6.62zM447.62 415.53h6.62v1.8h-6.62zM355.58 417.28h6.62v1.8h-6.62zM401.6 417.28h6.62v1.8h-6.62zM427.9 417.28h6.62v1.8h-6.62zM441.05 417.28h6.62v1.8h-6.62zM454.2 420.78h6.62v1.8h-6.62zM401.6 424.29h6.62v1.8h-6.62zM460.77 424.29h6.62v1.8h-6.62zM467.35 424.29h6.62v1.8h-6.62zM473.93 424.29h6.62v1.8h-6.62zM335.85 426.04h6.62v1.8h-6.62zM302.98 427.79h6.62v1.8h-6.62zM408.18 429.54h6.62v1.8h-6.62zM460.77 429.54h6.62v1.8h-6.62zM473.93 434.8h6.62v1.8h-6.62zM309.55 436.55h6.62v1.8h-6.62zM408.18 438.3h6.62v1.8h-6.62zM447.62 438.3h6.62v1.8h-6.62zM454.2 438.3h6.62v1.8h-6.62zM342.43 440.06h6.62v1.8h-6.62zM454.2 440.06h6.62v1.8h-6.62zM342.43 441.81h6.62v1.8h-6.62zM375.3 441.81h6.62v1.8h-6.62zM454.2 441.81h6.62v1.8h-6.62zM447.62 443.56h6.62v1.8h-6.62zM381.88 445.31h6.62v1.8h-6.62zM381.88 447.06h6.62v1.8h-6.62zM355.58 448.82h6.62v1.8h-6.62zM408.18 448.82h6.62v1.8h-6.62zM460.77 448.82h6.62v1.8h-6.62zM467.35 448.82h6.62v1.8h-6.62zM276.68 450.57h6.62v1.8h-6.62zM454.2 450.57h6.62v1.8h-6.62zM447.62 452.32h6.62v1.8h-6.62zM302.98 454.07h6.62v1.8h-6.62zM335.85 454.07h6.62v1.8h-6.62zM362.15 454.07h6.62v1.8h-6.62zM434.48 454.07h6.62v1.8h-6.62zM302.98 455.82h6.62v1.8h-6.62zM309.55 455.82h6.62v1.8h-6.62zM454.2 457.58h6.62v1.8h-6.62zM296.4 459.33h6.62v1.8h-6.62zM427.9 459.33h6.62v1.8h-6.62zM454.2 461.08h6.62v1.8h-6.62zM441.05 464.58h6.62v1.8h-6.62zM276.68 469.84h6.62v1.8h-6.62zM335.85 471.59h6.62v1.8h-6.62zM355.58 471.59h6.62v1.8h-6.62zM276.68 475.1h6.62v1.8h-6.62zM309.55 475.1h6.62v1.8h-6.62zM467.35 475.1h6.62v1.8h-6.62zM302.98 476.85h6.62v1.8h-6.62zM316.12 476.85h6.62v1.8h-6.62zM309.55 478.6h6.62v1.8h-6.62zM355.58 478.6h6.62v1.8h-6.62zM454.2 478.6h6.62v1.8h-6.62zM270.1 483.86h6.62v1.8h-6.62zM408.18 483.86h6.62v1.8h-6.62zM362.15 485.61h6.62v1.8h-6.62zM388.45 485.61h6.62v1.8h-6.62zM454.2 485.61h6.62v1.8h-6.62zM270.1 487.36h6.62v1.8h-6.62zM401.6 487.36h6.62v1.8h-6.62zM460.77 489.11h6.62v1.8h-6.62zM467.35 489.11h6.62v1.8h-6.62zM408.18 490.86h6.62v1.8h-6.62zM454.2 490.86h6.62v1.8h-6.62zM388.45 492.62h6.62v1.8h-6.62zM270.1 499.62h6.62v1.8h-6.62zM276.68 499.62h6.62v1.8h-6.62zM355.58 499.62h6.62v1.8h-6.62zM276.68 501.38h6.62v1.8h-6.62zM408.18 503.13h6.62v1.8h-6.62zM309.55 506.63h6.62v1.8h-6.62zM316.12 506.63h6.62v1.8h-6.62zM454.2 506.63h6.62v1.8h-6.62zM375.3 511.89h6.62v1.8h-6.62zM381.88 511.89h6.62v1.8h-6.62zM395.02 511.89h6.62v1.8h-6.62zM276.68 513.64h6.62v1.8h-6.62zM322.7 513.64h6.62v1.8h-6.62zM368.73 515.39h6.62v1.8h-6.62zM276.68 517.14h6.62v1.8h-6.62zM302.98 517.14h6.62v1.8h-6.62zM342.43 517.14h6.62v1.8h-6.62zM408.18 517.14h6.62v1.8h-6.62zM309.55 518.9h6.62v1.8h-6.62zM335.85 518.9h6.62v1.8h-6.62zM349 518.9h6.62v1.8h-6.62zM362.15 518.9h6.62v1.8h-6.62zM447.62 518.9h6.62v1.8h-6.62zM381.88 520.65h6.62v1.8h-6.62zM408.18 520.65h6.62v1.8h-6.62zM447.62 520.65h6.62v1.8h-6.62z"/>
<path fill="#ededfd" d="M395.02 172h6.62v1.8h-6.62zM427.9 172h6.62v1.8h-6.62zM342.43 173.75h6.62v1.8h-6.62zM355.58 173.75h6.62v1.8h-6.62zM427.9 173.75h6.62v1.8h-6.62zM349 175.5h6.62v1.8h-6.62zM355.58 175.5h6.62v1.8h-6.62zM322.7 177.26h6.62v1.8h-6.62zM355.58 179.01h6.62v1.8h-6.62zM283.25 180.76h6.62v1.8h-6.62zM322.7 180.76h6.62v1.8h-6.62zM289.83 182.51h6.62v1.8h-6.62zM434.48 182.51h6.62v1.8h-6.62zM355.58 184.26h6.62v1.8h-6.62zM427.9 184.26h6.62v1.8h-6.62zM441.05 184.26h6.62v1.8h-6.62zM454.2 184.26h6.62v1.8h-6.62zM473.93 186.02h6.62v1.8h-6.62zM434.48 187.77h6.62v1.8h-6.62zM473.93 187.77h6.62v1.8h-6.62zM322.7 189.52h6.62v1.8h-6.62zM395.02 191.27h6.62v1.8h-6.62zM408.18 191.27h6.62v1.8h-6.62zM421.33 191.27h6.62v1.8h-6.62zM467.35 191.27h6.62v1.8h-6.62zM473.93 191.27h6.62v1.8h-6.62zM427.9 193.02h6.62v1.8h-6.62zM447.62 193.02h6.62v1.8h-6.62zM289.83 194.78h6.62v1.8h-6.62zM349 194.78h6.62v1.8h-6.62zM421.33 194.78h6.62v1.8h-6.62zM427.9 194.78h6.62v1.8h-6.62zM441.05 194.78h6.62v1.8h-6.62zM283.25 198.28h6.62v1.8h-6.62zM289.83 198.28h6.62v1.8h-6.62zM322.7 198.28h6.62v1.8h-6.62zM427.9 198.28h6.62v1.8h-6.62zM296.4 200.03h6.62v1.8h-6.62zM408.18 200.03h6.62v1.8h-6.62zM467.35 200.03h6.62v1.8h-6.62zM296.4 201.78h6.62v1.8h-6.62zM322.7 201.78h6.62v1.8h-6.62zM276.68 203.54h6.62v1.8h-6.62zM414.75 203.54h6.62v1.8h-6.62zM460.77 203.54h6.62v1.8h-6.62zM296.4 205.29h6.62v1.8h-6.62zM335.85 205.29h6.62v1.8h-6.62zM302.98 207.04h6.62v1.8h-6.62zM355.58 207.04h6.62v1.8h-6.62zM454.2 207.04h6.62v1.8h-6.62zM342.43 208.79h6.62v1.8h-6.62zM362.15 208.79h6.62v1.8h-6.62zM368.73 208.79h6.62v1.8h-6.62zM388.45 208.79h6.62v1.8h-6.62zM454.2 208.79h6.62v1.8h-6.62zM467.35 208.79h6.62v1.8h-6.62zM473.93 208.79h6.62v1.8h-6.62zM276.68 210.54h6.62v1.8h-6.62zM342.43 212.3h6.62v1.8h-6.62zM355.58 212.3h6.62v1.8h-6.62zM283.25 214.05h6.62v1.8h-6.62zM473.93 214.05h6.62v1.8h-6.62zM270.1 215.8h6.62v1.8h-6.62zM414.75 217.55h6.62v1.8h-6.62zM283.25 219.3h6.62v1.8h-6.62zM302.98 221.06h6.62v1.8h-6.62zM270.1 222.81h6.62v1.8h-6.62zM335.85 222.81h6.62v1.8h-6.62zM355.58 222.81h6.62v1.8h-6.62zM414.75 222.81h6.62v1.8h-6.62zM276.68 224.56h6.62v1.8h-6.62zM289.83 224.56h6.62v1.8h-6.62zM355.58 228.06h6.62v1.8h-6.62zM388.45 228.06h6.62v1.8h-6.62zM447.62 228.06h6.62v1.8h-6.62zM395.02 229.82h6.62v1.8h-6.62zM414.75 229.82h6.62v1.8h-6.62zM270.1 231.57h6.62v1.8h-6.62zM276.68 231.57h6.62v1.8h-6.62zM302.98 231.57h6.62v1.8h-6.62zM349 231.57h6.62v1.8h-6.62zM355.58 231.57h6.62v1.8h-6.62zM414.75 231.57h6.62v1.8h-6.62zM283.25 238.58h6.62v1.8h-6.62zM302.98 240.33h6.62v1.8h-6.62zM335.85 240.33h6.62v1.8h-6.62zM289.83 242.08h6.62v1.8h-6.62zM408.18 242.08h6.62v1.8h-6.62zM427.9 242.08h6.62v1.8h-6.62zM434.48 242.08h6.62v1.8h-6.62zM467.35 242.08h6.62v1.8h-6.62zM283.25 247.34h6.62v1.8h-6.62zM296.4 247.34h6.62v1.8h-6.62zM447.62 249.09h6.62v1.8h-6.62zM454.2 249.09h6.62v1.8h-6.62zM460.77 249.09h6.62v1.8h-6.62zM447.62 250.84h6.62v1.8h-6.62zM401.6 252.59h6.62v1.8h-6.62zM460.77 252.59h6.62v1.8h-6.62zM335.85 254.34h6.62v1.8h-6.62zM401.6 256.1h6.62v1.8h-6.62zM408.18 256.1h6.62v1.8h-6.62zM421.33 256.1h6.62v1.8h-6.62zM467.35 256.1h6.62v1.8h-6.62zM473.93 256.1h6.62v1.8h-6.62zM421.33 261.35h6.62v1.8h-6.62zM427.9 261.35h6.62v1.8h-6.62zM302.98 263.1h6.62v1.8h-6.62zM349 264.86h6.62v1.8h-6.62zM289.83 268.36h6.62v1.8h-6.62zM421.33 268.36h6.62v1.8h-6.62zM454.2 268.36h6.62v1.8h-6.62zM289.83 270.11h6.62v1.8h-6.62zM335.85 270.11h6.62v1.8h-6.62zM421.33 270.11h6.62v1.8h-6.62zM322.7 271.86h6.62v1.8h-6.62zM335.85 275.37h6.62v1.8h-6.62zM473.93 275.37h6.62v1.8h-6.62zM296.4 277.12h6.62v1.8h-6.62zM322.7 277.12h6.62v1.8h-6.62zM408.18 277.12h6.62v1.8h-6.62zM329.28 278.87h6.62v1.8h-6.62zM349 278.87h6.62v1.8h-6.62zM414.75 278.87h6.62v1.8h-6.62zM427.9 278.87h6.62v1.8h-6.62zM467.35 278.87h6.62v1.8h-6.62zM342.43 280.62h6.62v1.8h-6.62zM368.73 280.62h6.62v1.8h-6.62zM388.45 280.62h6.62v1.8h-6.62zM408.18 280.62h6.62v1.8h-6.62zM427.9 280.62h6.62v1.8h-6.62zM322.7 282.38h6.62v1.8h-6.62zM447.62 282.38h6.62v1.8h-6.62zM388.45 287.63h6.62v1.8h-6.62zM401.6 292.89h6.62v1.8h-6.62zM447.62 294.64h6.62v1.8h-6.62zM401.6 296.39h6.62v1.8h-6.62zM276.68 298.14h6.62v1.8h-6.62zM401.6 298.14h6.62v1.8h-6.62zM355.58 299.9h6.62v1.8h-6.62zM401.6 299.9h6.62v1.8h-6.62zM414.75 299.9h6.62v1.8h-6.62zM309.55 301.65h6.62v1.8h-6.62zM342.43 301.65h6.62v1.8h-6.62zM427.9 301.65h6.62v1.8h-6.62zM296.4 303.4h6.62v1.8h-6.62zM381.88 303.4h6.62v1.8h-6.62zM434.48 303.4h6.62v1.8h-6.62zM309.55 305.15h6.62v1.8h-6.62zM408.18 305.15h6.62v1.8h-6.62zM408.18 306.9h6.62v1.8h-6.62zM454.2 306.9h6.62v1.8h-6.62zM276.68 308.66h6.62v1.8h-6.62zM401.6 308.66h6.62v1.8h-6.62zM427.9 308.66h6.62v1.8h-6.62zM467.35 308.66h6.62v1.8h-6.62zM276.68 310.41h6.62v1.8h-6.62zM296.4 310.41h6.62v1.8h-6.62zM454.2 310.41h6.62v1.8h-6.62zM296.4 312.16h6.62v1.8h-6.62zM342.43 312.16h6.62v1.8h-6.62zM447.62 312.16h6.62v1.8h-6.62zM473.93 312.16h6.62v1.8h-6.62zM289.83 315.66h6.62v1.8h-6.62zM355.58 315.66h6.62v1.8h-6.62zM368.73 315.66h6.62v1.8h-6.62zM434.48 315.66h6.62v1.8h-6.62zM342.43 317.42h6.62v1.8h-6.62zM342.43 319.17h6.62v1.8h-6.62zM401.6 319.17h6.62v1.8h-6.62zM270.1 320.92h6.62v1.8h-6.62zM408.18 320.92h6.62v1.8h-6.62zM381.88 322.67h6.62v1.8h-6.62zM454.2 322.67h6.62v1.8h-6.62zM342.43 324.42h6.62v1.8h-6.62zM467.35 324.42h6.62v1.8h-6.62zM276.68 326.18h6.62v1.8h-6.62zM401.6 326.18h6.62v1.8h-6.62zM276.68 329.68h6.62v1.8h-6.62zM309.55 329.68h6.62v1.8h-6.62zM381.88 329.68h6.62v1.8h-6.62zM316.12 331.43h6.62v1.8h-6.62zM381.88 333.18h6.62v1.8h-6.62zM414.75 333.18h6.62v1.8h-6.62zM467.35 334.94h6.62v1.8h-6.62zM473.93 334.94h6.62v1.8h-6.62zM296.4 336.69h6.62v1.8h-6.62zM342.43 336.69h6.62v1.8h-6.62zM388.45 336.69h6.62v1.8h-6.62zM401.6 336.69h6.62v1.8h-6.62zM296.4 338.44h6.62v1.8h-6.62zM309.55 340.19h6.62v1.8h-6.62zM447.62 340.19h6.62v1.8h-6.62zM342.43 341.94h6.62v1.8h-6.62zM270.1 343.7h6.62v1.8h-6.62zM329.28 343.7h6.62v1.8h-6.62zM309.55 345.45h6.62v1.8h-6.62zM355.58 348.95h6.62v1.8h-6.62zM447.62 348.95h6.62v1.8h-6.62zM401.6 354.21h6.62v1.8h-6.62zM447.62 354.21h6.62v1.8h-6.62zM454.2 354.21h6.62v1.8h-6.62zM355.58 355.96h6.62v1.8h-6.62zM467.35 355.96h6.62v1.8h-6.62zM342.43 357.71h6.62v1.8h-6.62zM454.2 357.71h6.62v1.8h-6.62zM302.98 359.46h6.62v1.8h-6.62zM355.58 359.46h6.62v1.8h-6.62zM322.7 361.22h6.62v1.8h-6.62zM329.28 361.22h6.62v1.8h-6.62zM276.68 362.97h6.62v1.8h-6.62zM421.33 362.97h6.62v1.8h-6.62zM296.4 364.72h6.62v1.8h-6.62zM421.33 364.72h6.62v1.8h-6.62zM302.98 366.47h6.62v1.8h-6.62zM322.7 366.47h6.62v1.8h-6.62zM414.75 366.47h6.62v1.8h-6.62zM447.62 366.47h6.62v1.8h-6.62zM355.58 368.22h6.62v1.8h-6.62zM302.98 369.98h6.62v1.8h-6.62zM395.02 369.98h6.62v1.8h-6.62zM322.7 371.73h6.62v1.8h-6.62zM335.85 375.23h6.62v1.8h-6.62zM401.6 375.23h6.62v1.8h-6.62zM335.85 376.98h6.62v1.8h-6.62zM342.43 376.98h6.62v1.8h-6.62zM362.15 376.98h6.62v1.8h-6.62zM381.88 376.98h6.62v1.8h-6.62zM408.18 376.98h6.62v1.8h-6.62zM414.75 376.98h6.62v1.8h-6.62zM434.48 376.98h6.62v1.8h-6.62zM355.58 380.49h6.62v1.8h-6.62zM302.98 382.24h6.62v1.8h-6.62zM316.12 382.24h6.62v1.8h-6.62zM342.43 382.24h6.62v1.8h-6.62zM296.4 383.99h6.62v1.8h-6.62zM270.1 385.74h6.62v1.8h-6.62zM296.4 385.74h6.62v1.8h-6.62zM316.12 385.74h6.62v1.8h-6.62zM342.43 387.5h6.62v1.8h-6.62zM270.1 389.25h6.62v1.8h-6.62zM447.62 391h6.62v1.8h-6.62zM289.83 394.5h6.62v1.8h-6.62zM447.62 394.5h6.62v1.8h-6.62zM381.88 396.26h6.62v1.8h-6.62zM342.43 399.76h6.62v1.8h-6.62zM302.98 401.51h6.62v1.8h-6.62zM342.43 401.51h6.62v1.8h-6.62zM302.98 405.02h6.62v1.8h-6.62zM309.55 405.02h6.62v1.8h-6.62zM316.12 405.02h6.62v1.8h-6.62zM388.45 405.02h6.62v1.8h-6.62zM342.43 408.52h6.62v1.8h-6.62zM302.98 410.27h6.62v1.8h-6.62zM401.6 410.27h6.62v1.8h-6.62zM454.2 410.27h6.62v1.8h-6.62zM460.77 410.27h6.62v1.8h-6.62zM316.12 412.02h6.62v1.8h-6.62zM342.43 412.02h6.62v1.8h-6.62zM408.18 412.02h6.62v1.8h-6.62zM447.62 412.02h6.62v1.8h-6.62zM335.85 413.78h6.62v1.8h-6.62zM454.2 413.78h6.62v1.8h-6.62zM349 415.53h6.62v1.8h-6.62zM454.2 417.28h6.62v1.8h-6.62zM401.6 419.03h6.62v1.8h-6.62zM322.7 420.78h6.62v1.8h-6.62zM408.18 420.78h6.62v1.8h-6.62zM309.55 422.54h6.62v1.8h-6.62zM355.58 422.54h6.62v1.8h-6.62zM276.68 424.29h6.62v1.8h-6.62zM408.18 424.29h6.62v1.8h-6.62zM434.48 424.29h6.62v1.8h-6.62zM447.62 424.29h6.62v1.8h-6.62zM270.1 426.04h6.62v1.8h-6.62zM322.7 427.79h6.62v1.8h-6.62zM355.58 427.79h6.62v1.8h-6.62zM375.3 427.79h6.62v1.8h-6.62zM447.62 427.79h6.62v1.8h-6.62zM395.02 429.54h6.62v1.8h-6.62zM434.48 434.8h6.62v1.8h-6.62zM447.62 434.8h6.62v1.8h-6.62zM302.98 436.55h6.62v1.8h-6.62zM296.4 438.3h6.62v1.8h-6.62zM362.15 438.3h6.62v1.8h-6.62zM296.4 440.06h6.62v1.8h-6.62zM283.25 441.81h6.62v1.8h-6.62zM401.6 441.81h6.62v1.8h-6.62zM447.62 441.81h6.62v1.8h-6.62zM335.85 445.31h6.62v1.8h-6.62zM454.2 447.06h6.62v1.8h-6.62zM460.77 447.06h6.62v1.8h-6.62zM362.15 450.57h6.62v1.8h-6.62zM408.18 450.57h6.62v1.8h-6.62zM447.62 450.57h6.62v1.8h-6.62zM309.55 452.32h6.62v1.8h-6.62zM454.2 452.32h6.62v1.8h-6.62zM349 454.07h6.62v1.8h-6.62zM368.73 454.07h6.62v1.8h-6.62zM447.62 454.07h6.62v1.8h-6.62zM408.18 457.58h6.62v1.8h-6.62zM302.98 459.33h6.62v1.8h-6.62zM322.7 459.33h6.62v1.8h-6.62zM362.15 459.33h6.62v1.8h-6.62zM368.73 459.33h6.62v1.8h-6.62zM355.58 461.08h6.62v1.8h-6.62zM408.18 461.08h6.62v1.8h-6.62zM467.35 461.08h6.62v1.8h-6.62zM322.7 462.83h6.62v1.8h-6.62zM388.45 462.83h6.62v1.8h-6.62zM388.45 464.58h6.62v1.8h-6.62zM322.7 466.34h6.62v1.8h-6.62zM335.85 466.34h6.62v1.8h-6.62zM342.43 466.34h6.62v1.8h-6.62zM309.55 469.84h6.62v1.8h-6.62zM309.55 473.34h6.62v1.8h-6.62zM454.2 476.85h6.62v1.8h-6.62zM388.45 478.6h6.62v1.8h-6.62zM270.1 480.35h6.62v1.8h-6.62zM309.55 483.86h6.62v1.8h-6.62zM276.68 485.61h6.62v1.8h-6.62zM309.55 487.36h6.62v1.8h-6.62zM408.18 489.11h6.62v1.8h-6.62zM447.62 489.11h6.62v1.8h-6.62zM309.55 490.86h6.62v1.8h-6.62zM362.15 492.62h6.62v1.8h-6.62zM401.6 492.62h6.62v1.8h-6.62zM276.68 494.37h6.62v1.8h-6.62zM408.18 494.37h6.62v1.8h-6.62zM447.62 494.37h6.62v1.8h-6.62zM454.2 494.37h6.62v1.8h-6.62zM302.98 497.87h6.62v1.8h-6.62zM309.55 499.62h6.62v1.8h-6.62zM322.7 499.62h6.62v1.8h-6.62zM289.83 501.38h6.62v1.8h-6.62zM355.58 501.38h6.62v1.8h-6.62zM289.83 503.13h6.62v1.8h-6.62zM388.45 503.13h6.62v1.8h-6.62zM395.02 503.13h6.62v1.8h-6.62zM454.2 503.13h6.62v1.8h-6.62zM335.85 504.88h6.62v1.8h-6.62zM375.3 504.88h6.62v1.8h-6.62zM395.02 504.88h6.62v1.8h-6.62zM401.6 504.88h6.62v1.8h-6.62zM454.2 504.88h6.62v1.8h-6.62zM349 506.63h6.62v1.8h-6.62zM375.3 506.63h6.62v1.8h-6.62zM342.43 510.14h6.62v1.8h-6.62zM395.02 510.14h6.62v1.8h-6.62zM427.9 510.14h6.62v1.8h-6.62zM454.2 510.14h6.62v1.8h-6.62zM467.35 510.14h6.62v1.8h-6.62zM276.68 511.89h6.62v1.8h-6.62zM349 511.89h6.62v1.8h-6.62zM401.6 511.89h6.62v1.8h-6.62zM454.2 511.89h6.62v1.8h-6.62zM270.1 513.64h6.62v1.8h-6.62zM283.25 513.64h6.62v1.8h-6.62zM316.12 513.64h6.62v1.8h-6.62zM355.58 513.64h6.62v1.8h-6.62zM401.6 513.64h6.62v1.8h-6.62zM270.1 517.14h6.62v1.8h-6.62zM355.58 517.14h6.62v1.8h-6.62zM375.3 517.14h6.62v1.8h-6.62zM441.05 517.14h6.62v1.8h-6.62zM270.1 518.9h6.62v1.8h-6.62zM283.25 518.9h6.62v1.8h-6.62zM302.98 518.9h6.62v1.8h-6.62zM316.12 518.9h6.62v1.8h-6.62zM368.73 518.9h6.62v1.8h-6.62zM276.68 520.65h6.62v1.8h-6.62zM395.02 520.65h6.62v1.8h-6.62zM401.6 520.65h6.62v1.8h-6.62z"/>
<path fill="#ffffff" d="M349 172h6.62v1.8h-6.62zM289.83 175.5h6.62v1.8h-6.62zM427.9 175.5h6.62v1.8h-6.62zM473.93 175.5h6.62v1.8h-6.62zM316.12 177.26h6.62v1.8h-6.62zM283.25 179.01h6.62v1.8h-6.62zM342.43 179.01h6.62v1.8h-6.62zM349 179.01h6.62v1.8h-6.62zM316.12 180.76h6.62v1.8h-6.62zM349 182.51h6.62v1.8h-6.62zM434.48 184.26h6.62v1.8h-6.62zM473.93 184.26h6.62v1.8h-6.62zM283.25 186.02h6.62v1.8h-6.62zM296.4 186.02h6.62v1.8h-6.62zM342.43 186.02h6.62v1.8h-6.62zM434.48 186.02h6.62v1.8h-6.62zM302.98 189.52h6.62v1.8h-6.62zM349 189.52h6.62v1.8h-6.62zM473.93 189.52h6.62v1.8h-6.62zM283.25 191.27h6.62v1.8h-6.62zM302.98 191.27h6.62v1.8h-6.62zM349 191.27h6.62v1.8h-6.62zM283.25 193.02h6.62v1.8h-6.62zM322.7 193.02h6.62v1.8h-6.62zM349 193.02h6.62v1.8h-6.62zM421.33 193.02h6.62v1.8h-6.62zM473.93 193.02h6.62v1.8h-6.62zM335.85 194.78h6.62v1.8h-6.62zM342.43 194.78h6.62v1.8h-6.62zM473.93 194.78h6.62v1.8h-6.62zM276.68 196.53h6.62v1.8h-6.62zM316.12 196.53h6.62v1.8h-6.62zM349 196.53h6.62v1.8h-6.62zM296.4 198.28h6.62v1.8h-6.62zM355.58 198.28h6.62v1.8h-6.62zM414.75 198.28h6.62v1.8h-6.62zM467.35 198.28h6.62v1.8h-6.62zM349 200.03h6.62v1.8h-6.62zM414.75 200.03h6.62v1.8h-6.62zM434.48 200.03h6.62v1.8h-6.62zM473.93 201.78h6.62v1.8h-6.62zM289.83 203.54h6.62v1.8h-6.62zM434.48 203.54h6.62v1.8h-6.62zM342.43 205.29h6.62v1.8h-6.62zM401.6 208.79h6.62v1.8h-6.62zM362.15 212.3h6.62v1.8h-6.62zM368.73 212.3h6.62v1.8h-6.62zM401.6 214.05h6.62v1.8h-6.62zM454.2 214.05h6.62v1.8h-6.62zM355.58 215.8h6.62v1.8h-6.62zM414.75 215.8h6.62v1.8h-6.62zM342.43 217.55h6.62v1.8h-6.62zM349 217.55h6.62v1.8h-6.62zM342.43 221.06h6.62v1.8h-6.62zM375.3 221.06h6.62v1.8h-6.62zM447.62 221.06h6.62v1.8h-6.62zM454.2 221.06h6.62v1.8h-6.62zM283.25 222.81h6.62v1.8h-6.62zM342.43 222.81h6.62v1.8h-6.62zM447.62 222.81h6.62v1.8h-6.62zM454.2 222.81h6.62v1.8h-6.62zM467.35 222.81h6.62v1.8h-6.62zM335.85 224.56h6.62v1.8h-6.62zM447.62 224.56h6.62v1.8h-6.62zM283.25 226.31h6.62v1.8h-6.62zM395.02 226.31h6.62v1.8h-6.62zM395.02 228.06h6.62v1.8h-6.62zM375.3 229.82h6.62v1.8h-6.62zM362.15 231.57h6.62v1.8h-6.62zM447.62 233.32h6.62v1.8h-6.62zM454.2 233.32h6.62v1.8h-6.62zM454.2 236.82h6.62v1.8h-6.62zM302.98 238.58h6.62v1.8h-6.62zM329.28 238.58h6.62v1.8h-6.62zM335.85 238.58h6.62v1.8h-6.62zM401.6 240.33h6.62v1.8h-6.62zM381.88 242.08h6.62v1.8h-6.62zM414.75 242.08h6.62v1.8h-6.62zM447.62 242.08h6.62v1.8h-6.62zM454.2 242.08h6.62v1.8h-6.62zM335.85 243.83h6.62v1.8h-6.62zM276.68 245.58h6.62v1.8h-6.62zM375.3 245.58h6.62v1.8h-6.62zM335.85 247.34h6.62v1.8h-6.62zM302.98 249.09h6.62v1.8h-6.62zM342.43 249.09h6.62v1.8h-6.62zM427.9 250.84h6.62v1.8h-6.62zM342.43 252.59h6.62v1.8h-6.62zM302.98 254.34h6.62v1.8h-6.62zM368.73 256.1h6.62v1.8h-6.62zM460.77 256.1h6.62v1.8h-6.62zM302.98 259.6h6.62v1.8h-6.62zM329.28 259.6h6.62v1.8h-6.62zM342.43 259.6h6.62v1.8h-6.62zM342.43 263.1h6.62v1.8h-6.62zM296.4 264.86h6.62v1.8h-6.62zM427.9 264.86h6.62v1.8h-6.62zM302.98 266.61h6.62v1.8h-6.62zM427.9 266.61h6.62v1.8h-6.62zM427.9 268.36h6.62v1.8h-6.62zM381.88 270.11h6.62v1.8h-6.62zM342.43 271.86h6.62v1.8h-6.62zM388.45 271.86h6.62v1.8h-6.62zM289.83 273.62h6.62v1.8h-6.62zM322.7 273.62h6.62v1.8h-6.62zM342.43 273.62h6.62v1.8h-6.62zM302.98 275.37h6.62v1.8h-6.62zM309.55 275.37h6.62v1.8h-6.62zM316.12 275.37h6.62v1.8h-6.62zM362.15 275.37h6.62v1.8h-6.62zM401.6 275.37h6.62v1.8h-6.62zM289.83 277.12h6.62v1.8h-6.62zM368.73 277.12h6.62v1.8h-6.62zM270.1 278.87h6.62v1.8h-6.62zM316.12 278.87h6.62v1.8h-6.62zM421.33 278.87h6.62v1.8h-6.62zM447.62 278.87h6.62v1.8h-6.62zM454.2 278.87h6.62v1.8h-6.62zM414.75 280.62h6.62v1.8h-6.62zM447.62 280.62h6.62v1.8h-6.62zM296.4 282.38h6.62v1.8h-6.62zM329.28 282.38h6.62v1.8h-6.62zM342.43 282.38h6.62v1.8h-6.62zM381.88 282.38h6.62v1.8h-6.62zM276.68 289.38h6.62v1.8h-6.62zM447.62 289.38h6.62v1.8h-6.62zM289.83 291.14h6.62v1.8h-6.62zM322.7 291.14h6.62v1.8h-6.62zM355.58 294.64h6.62v1.8h-6.62zM270.1 296.39h6.62v1.8h-6.62zM362.15 296.39h6.62v1.8h-6.62zM388.45 296.39h6.62v1.8h-6.62zM322.7 298.14h6.62v1.8h-6.62zM302.98 299.9h6.62v1.8h-6.62zM316.12 299.9h6.62v1.8h-6.62zM335.85 299.9h6.62v1.8h-6.62zM342.43 299.9h6.62v1.8h-6.62zM276.68 301.65h6.62v1.8h-6.62zM408.18 303.4h6.62v1.8h-6.62zM414.75 303.4h6.62v1.8h-6.62zM447.62 303.4h6.62v1.8h-6.62zM454.2 303.4h6.62v1.8h-6.62zM467.35 303.4h6.62v1.8h-6.62zM454.2 305.15h6.62v1.8h-6.62zM276.68 306.9h6.62v1.8h-6.62zM296.4 306.9h6.62v1.8h-6.62zM447.62 306.9h6.62v1.8h-6.62zM381.88 308.66h6.62v1.8h-6.62zM408.18 308.66h6.62v1.8h-6.62zM447.62 308.66h6.62v1.8h-6.62zM454.2 308.66h6.62v1.8h-6.62zM447.62 310.41h6.62v1.8h-6.62zM467.35 310.41h6.62v1.8h-6.62zM276.68 312.16h6.62v1.8h-6.62zM401.6 312.16h6.62v1.8h-6.62zM408.18 312.16h6.62v1.8h-6.62zM454.2 312.16h6.62v1.8h-6.62zM447.62 313.91h6.62v1.8h-6.62zM454.2 313.91h6.62v1.8h-6.62zM447.62 315.66h6.62v1.8h-6.62zM454.2 315.66h6.62v1.8h-6.62zM316.12 317.42h6.62v1.8h-6.62zM401.6 317.42h6.62v1.8h-6.62zM329.28 319.17h6.62v1.8h-6.62zM454.2 319.17h6.62v1.8h-6.62zM460.77 319.17h6.62v1.8h-6.62zM296.4 320.92h6.62v1.8h-6.62zM342.43 320.92h6.62v1.8h-6.62zM381.88 324.42h6.62v1.8h-6.62zM342.43 326.18h6.62v1.8h-6.62zM355.58 326.18h6.62v1.8h-6.62zM276.68 327.93h6.62v1.8h-6.62zM342.43 327.93h6.62v1.8h-6.62zM355.58 327.93h6.62v1.8h-6.62zM329.28 329.68h6.62v1.8h-6.62zM296.4 331.43h6.62v1.8h-6.62zM447.62 331.43h6.62v1.8h-6.62zM342.43 333.18h6.62v1.8h-6.62zM427.9 333.18h6.62v1.8h-6.62zM434.48 333.18h6.62v1.8h-6.62zM447.62 333.18h6.62v1.8h-6.62zM467.35 333.18h6.62v1.8h-6.62zM473.93 333.18h6.62v1.8h-6.62zM408.18 334.94h6.62v1.8h-6.62zM434.48 334.94h6.62v1.8h-6.62zM447.62 334.94h6.62v1.8h-6.62zM342.43 338.44h6.62v1.8h-6.62zM289.83 341.94h6.62v1.8h-6.62zM329.28 341.94h6.62v1.8h-6.62zM342.43 343.7h6.62v1.8h-6.62zM296.4 345.45h6.62v1.8h-6.62zM401.6 345.45h6.62v1.8h-6.62zM289.83 348.95h6.62v1.8h-6.62zM309.55 350.7h6.62v1.8h-6.62zM296.4 352.46h6.62v1.8h-6.62zM309.55 352.46h6.62v1.8h-6.62zM381.88 354.21h6.62v1.8h-6.62zM302.98 355.96h6.62v1.8h-6.62zM322.7 355.96h6.62v1.8h-6.62zM381.88 355.96h6.62v1.8h-6.62zM401.6 355.96h6.62v1.8h-6.62zM447.62 355.96h6.62v1.8h-6.62zM296.4 357.71h6.62v1.8h-6.62zM322.7 357.71h6.62v1.8h-6.62zM427.9 357.71h6.62v1.8h-6.62zM329.28 359.46h6.62v1.8h-6.62zM302.98 361.22h6.62v1.8h-6.62zM355.58 361.22h6.62v1.8h-6.62zM401.6 361.22h6.62v1.8h-6.62zM322.7 362.97h6.62v1.8h-6.62zM454.2 362.97h6.62v1.8h-6.62zM447.62 364.72h6.62v1.8h-6.62zM296.4 366.47h6.62v1.8h-6.62zM381.88 366.47h6.62v1.8h-6.62zM309.55 368.22h6.62v1.8h-6.62zM322.7 368.22h6.62v1.8h-6.62zM342.43 369.98h6.62v1.8h-6.62zM355.58 369.98h6.62v1.8h-6.62zM381.88 369.98h6.62v1.8h-6.62zM401.6 369.98h6.62v1.8h-6.62zM276.68 371.73h6.62v1.8h-6.62zM309.55 371.73h6.62v1.8h-6.62zM447.62 375.23h6.62v1.8h-6.62zM316.12 376.98h6.62v1.8h-6.62zM368.73 376.98h6.62v1.8h-6.62zM447.62 376.98h6.62v1.8h-6.62zM454.2 376.98h6.62v1.8h-6.62zM355.58 378.74h6.62v1.8h-6.62zM276.68 380.49h6.62v1.8h-6.62zM270.1 382.24h6.62v1.8h-6.62zM296.4 382.24h6.62v1.8h-6.62zM401.6 382.24h6.62v1.8h-6.62zM454.2 382.24h6.62v1.8h-6.62zM454.2 383.99h6.62v1.8h-6.62zM381.88 385.74h6.62v1.8h-6.62zM395.02 385.74h6.62v1.8h-6.62zM270.1 387.5h6.62v1.8h-6.62zM289.83 387.5h6.62v1.8h-6.62zM302.98 387.5h6.62v1.8h-6.62zM414.75 387.5h6.62v1.8h-6.62zM454.2 387.5h6.62v1.8h-6.62zM467.35 387.5h6.62v1.8h-6.62zM322.7 391h6.62v1.8h-6.62zM329.28 391h6.62v1.8h-6.62zM342.43 391h6.62v1.8h-6.62zM342.43 392.75h6.62v1.8h-6.62zM401.6 392.75h6.62v1.8h-6.62zM401.6 394.5h6.62v1.8h-6.62zM401.6 396.26h6.62v1.8h-6.62zM296.4 399.76h6.62v1.8h-6.62zM302.98 399.76h6.62v1.8h-6.62zM381.88 399.76h6.62v1.8h-6.62zM388.45 401.51h6.62v1.8h-6.62zM447.62 401.51h6.62v1.8h-6.62zM276.68 405.02h6.62v1.8h-6.62zM335.85 405.02h6.62v1.8h-6.62zM401.6 405.02h6.62v1.8h-6.62zM283.25 406.77h6.62v1.8h-6.62zM381.88 406.77h6.62v1.8h-6.62zM309.55 408.52h6.62v1.8h-6.62zM401.6 408.52h6.62v1.8h-6.62zM316.12 410.27h6.62v1.8h-6.62zM276.68 412.02h6.62v1.8h-6.62zM362.15 412.02h6.62v1.8h-6.62zM454.2 412.02h6.62v1.8h-6.62zM322.7 413.78h6.62v1.8h-6.62zM342.43 413.78h6.62v1.8h-6.62zM316.12 415.53h6.62v1.8h-6.62zM342.43 415.53h6.62v1.8h-6.62zM401.6 415.53h6.62v1.8h-6.62zM454.2 415.53h6.62v1.8h-6.62zM270.1 417.28h6.62v1.8h-6.62zM362.15 417.28h6.62v1.8h-6.62zM447.62 417.28h6.62v1.8h-6.62zM467.35 417.28h6.62v1.8h-6.62zM355.58 419.03h6.62v1.8h-6.62zM309.55 420.78h6.62v1.8h-6.62zM276.68 422.54h6.62v1.8h-6.62zM355.58 424.29h6.62v1.8h-6.62zM414.75 424.29h6.62v1.8h-6.62zM454.2 424.29h6.62v1.8h-6.62zM289.83 426.04h6.62v1.8h-6.62zM302.98 426.04h6.62v1.8h-6.62zM322.7 426.04h6.62v1.8h-6.62zM355.58 426.04h6.62v1.8h-6.62zM408.18 426.04h6.62v1.8h-6.62zM414.75 426.04h6.62v1.8h-6.62zM447.62 426.04h6.62v1.8h-6.62zM289.83 427.79h6.62v1.8h-6.62zM309.55 429.54h6.62v1.8h-6.62zM322.7 429.54h6.62v1.8h-6.62zM454.2 429.54h6.62v1.8h-6.62zM467.35 429.54h6.62v1.8h-6.62zM296.4 431.3h6.62v1.8h-6.62zM302.98 431.3h6.62v1.8h-6.62zM408.18 431.3h6.62v1.8h-6.62zM454.2 433.05h6.62v1.8h-6.62zM296.4 434.8h6.62v1.8h-6.62zM309.55 434.8h6.62v1.8h-6.62zM467.35 434.8h6.62v1.8h-6.62zM322.7 436.55h6.62v1.8h-6.62zM355.58 436.55h6.62v1.8h-6.62zM368.73 438.3h6.62v1.8h-6.62zM302.98 440.06h6.62v1.8h-6.62zM355.58 440.06h6.62v1.8h-6.62zM447.62 440.06h6.62v1.8h-6.62zM276.68 441.81h6.62v1.8h-6.62zM467.35 441.81h6.62v1.8h-6.62zM276.68 443.56h6.62v1.8h-6.62zM296.4 445.31h6.62v1.8h-6.62zM349 445.31h6.62v1.8h-6.62zM296.4 447.06h6.62v1.8h-6.62zM309.55 448.82h6.62v1.8h-6.62zM454.2 448.82h6.62v1.8h-6.62zM270.1 450.57h6.62v1.8h-6.62zM289.83 450.57h6.62v1.8h-6.62zM296.4 450.57h6.62v1.8h-6.62zM335.85 450.57h6.62v1.8h-6.62zM368.73 450.57h6.62v1.8h-6.62zM270.1 454.07h6.62v1.8h-6.62zM388.45 454.07h6.62v1.8h-6.62zM454.2 454.07h6.62v1.8h-6.62zM296.4 455.82h6.62v1.8h-6.62zM322.7 455.82h6.62v1.8h-6.62zM375.3 455.82h6.62v1.8h-6.62zM335.85 459.33h6.62v1.8h-6.62zM395.02 459.33h6.62v1.8h-6.62zM454.2 459.33h6.62v1.8h-6.62zM296.4 464.58h6.62v1.8h-6.62zM296.4 468.09h6.62v1.8h-6.62zM355.58 468.09h6.62v1.8h-6.62zM381.88 468.09h6.62v1.8h-6.62zM270.1 471.59h6.62v1.8h-6.62zM316.12 471.59h6.62v1.8h-6.62zM395.02 471.59h6.62v1.8h-6.62zM276.68 473.34h6.62v1.8h-6.62zM335.85 473.34h6.62v1.8h-6.62zM454.2 473.34h6.62v1.8h-6.62zM335.85 476.85h6.62v1.8h-6.62zM335.85 478.6h6.62v1.8h-6.62zM309.55 480.35h6.62v1.8h-6.62zM362.15 480.35h6.62v1.8h-6.62zM368.73 480.35h6.62v1.8h-6.62zM276.68 483.86h6.62v1.8h-6.62zM355.58 483.86h6.62v1.8h-6.62zM454.2 483.86h6.62v1.8h-6.62zM401.6 485.61h6.62v1.8h-6.62zM454.2 489.11h6.62v1.8h-6.62zM270.1 490.86h6.62v1.8h-6.62zM447.62 490.86h6.62v1.8h-6.62zM355.58 496.12h6.62v1.8h-6.62zM322.7 497.87h6.62v1.8h-6.62zM335.85 497.87h6.62v1.8h-6.62zM355.58 497.87h6.62v1.8h-6.62zM289.83 499.62h6.62v1.8h-6.62zM302.98 501.38h6.62v1.8h-6.62zM335.85 501.38h6.62v1.8h-6.62zM342.43 503.13h6.62v1.8h-6.62zM362.15 503.13h6.62v1.8h-6.62zM355.58 504.88h6.62v1.8h-6.62zM368.73 504.88h6.62v1.8h-6.62zM335.85 506.63h6.62v1.8h-6.62zM270.1 508.38h6.62v1.8h-6.62zM414.75 508.38h6.62v1.8h-6.62zM296.4 510.14h6.62v1.8h-6.62zM368.73 510.14h6.62v1.8h-6.62zM388.45 510.14h6.62v1.8h-6.62zM414.75 510.14h6.62v1.8h-6.62zM434.48 510.14h6.62v1.8h-6.62zM447.62 510.14h6.62v1.8h-6.62zM270.1 511.89h6.62v1.8h-6.62zM335.85 511.89h6.62v1.8h-6.62zM362.15 511.89h6.62v1.8h-6.62zM329.28 513.64h6.62v1.8h-6.62zM335.85 513.64h6.62v1.8h-6.62zM381.88 513.64h6.62v1.8h-6.62zM395.02 513.64h6.62v1.8h-6.62zM408.18 513.64h6.62v1.8h-6.62zM283.25 517.14h6.62v1.8h-6.62zM368.73 517.14h6.62v1.8h-6.62zM342.43 518.9h6.62v1.8h-6.62zM375.3 518.9h6.62v1.8h-6.62zM395.02 518.9h6.62v1.8h-6.62zM302.98 520.65h6.62v1.8h-6.62zM368.73 520.65h6.62v1.8h-6.62z"/>
<path fill="#ffeaea" d="M309.55 172h6.62v1.8h-6.62zM362.15 172h6.62v1.8h-6.62zM342.43 175.5h6.62v1.8h-6.62zM335.85 180.76h6.62v1.8h-6.62zM395.02 180.76h6.62v1.8h-6.62zM342.43 182.51h6.62v1.8h-6.62zM289.83 184.26h6.62v1.8h-6.62zM322.7 186.02h6.62v1.8h-6.62zM362.15 186.02h6.62v1.8h-6.62zM395.02 186.02h6.62v1.8h-6.62zM296.4 187.77h6.62v1.8h-6.62zM355.58 189.52h6.62v1.8h-6.62zM322.7 191.27h6.62v1.8h-6.62zM283.25 194.78h6.62v1.8h-6.62zM322.7 194.78h6.62v1.8h-6.62zM355.58 194.78h6.62v1.8h-6.62zM375.3 194.78h6.62v1.8h-6.62zM335.85 198.28h6.62v1.8h-6.62zM401.6 198.28h6.62v1.8h-6.62zM276.68 201.78h6.62v1.8h-6.62zM289.83 201.78h6.62v1.8h-6.62zM349 201.78h6.62v1.8h-6.62zM395.02 201.78h6.62v1.8h-6.62zM401.6 201.78h6.62v1.8h-6.62zM401.6 203.54h6.62v1.8h-6.62zM355.58 205.29h6.62v1.8h-6.62zM289.83 207.04h6.62v1.8h-6.62zM270.1 208.79h6.62v1.8h-6.62zM283.25 208.79h6.62v1.8h-6.62zM335.85 217.55h6.62v1.8h-6.62zM401.6 217.55h6.62v1.8h-6.62zM349 221.06h6.62v1.8h-6.62zM395.02 222.81h6.62v1.8h-6.62zM302.98 224.56h6.62v1.8h-6.62zM355.58 224.56h6.62v1.8h-6.62zM335.85 226.31h6.62v1.8h-6.62zM283.25 228.06h6.62v1.8h-6.62zM289.83 228.06h6.62v1.8h-6.62zM388.45 229.82h6.62v1.8h-6.62zM289.83 231.57h6.62v1.8h-6.62zM335.85 231.57h6.62v1.8h-6.62zM454.2 231.57h6.62v1.8h-6.62zM302.98 233.32h6.62v1.8h-6.62zM322.7 233.32h6.62v1.8h-6.62zM329.28 233.32h6.62v1.8h-6.62zM362.15 233.32h6.62v1.8h-6.62zM401.6 233.32h6.62v1.8h-6.62zM283.25 235.07h6.62v1.8h-6.62zM368.73 235.07h6.62v1.8h-6.62zM289.83 238.58h6.62v1.8h-6.62zM349 238.58h6.62v1.8h-6.62zM322.7 240.33h6.62v1.8h-6.62zM349 240.33h6.62v1.8h-6.62zM329.28 242.08h6.62v1.8h-6.62zM342.43 242.08h6.62v1.8h-6.62zM355.58 242.08h6.62v1.8h-6.62zM375.3 242.08h6.62v1.8h-6.62zM322.7 245.58h6.62v1.8h-6.62zM289.83 249.09h6.62v1.8h-6.62zM349 249.09h6.62v1.8h-6.62zM355.58 249.09h6.62v1.8h-6.62zM322.7 250.84h6.62v1.8h-6.62zM335.85 250.84h6.62v1.8h-6.62zM335.85 252.59h6.62v1.8h-6.62zM316.12 254.34h6.62v1.8h-6.62zM388.45 254.34h6.62v1.8h-6.62zM401.6 254.34h6.62v1.8h-6.62zM316.12 256.1h6.62v1.8h-6.62zM388.45 256.1h6.62v1.8h-6.62zM362.15 257.85h6.62v1.8h-6.62zM375.3 257.85h6.62v1.8h-6.62zM401.6 257.85h6.62v1.8h-6.62zM283.25 261.35h6.62v1.8h-6.62zM302.98 261.35h6.62v1.8h-6.62zM388.45 261.35h6.62v1.8h-6.62zM283.25 264.86h6.62v1.8h-6.62zM316.12 264.86h6.62v1.8h-6.62zM368.73 264.86h6.62v1.8h-6.62zM401.6 264.86h6.62v1.8h-6.62zM322.7 266.61h6.62v1.8h-6.62zM329.28 266.61h6.62v1.8h-6.62zM401.6 266.61h6.62v1.8h-6.62zM388.45 268.36h6.62v1.8h-6.62zM296.4 270.11h6.62v1.8h-6.62zM355.58 275.37h6.62v1.8h-6.62zM276.68 277.12h6.62v1.8h-6.62zM283.25 278.87h6.62v1.8h-6.62zM342.43 278.87h6.62v1.8h-6.62zM368.73 278.87h6.62v1.8h-6.62zM401.6 278.87h6.62v1.8h-6.62zM388.45 282.38h6.62v1.8h-6.62zM401.6 282.38h6.62v1.8h-6.62zM283.25 285.88h6.62v1.8h-6.62zM401.6 285.88h6.62v1.8h-6.62zM322.7 287.63h6.62v1.8h-6.62zM329.28 287.63h6.62v1.8h-6.62zM342.43 287.63h6.62v1.8h-6.62zM322.7 289.38h6.62v1.8h-6.62zM349 291.14h6.62v1.8h-6.62zM427.9 291.14h6.62v1.8h-6.62zM349 292.89h6.62v1.8h-6.62zM368.73 292.89h6.62v1.8h-6.62zM342.43 294.64h6.62v1.8h-6.62zM283.25 296.39h6.62v1.8h-6.62zM329.28 296.39h6.62v1.8h-6.62zM302.98 298.14h6.62v1.8h-6.62zM309.55 298.14h6.62v1.8h-6.62zM388.45 305.15h6.62v1.8h-6.62zM381.88 306.9h6.62v1.8h-6.62zM309.55 310.41h6.62v1.8h-6.62zM342.43 310.41h6.62v1.8h-6.62zM289.83 313.91h6.62v1.8h-6.62zM381.88 320.92h6.62v1.8h-6.62zM388.45 320.92h6.62v1.8h-6.62zM401.6 320.92h6.62v1.8h-6.62zM388.45 322.67h6.62v1.8h-6.62zM388.45 324.42h6.62v1.8h-6.62zM381.88 326.18h6.62v1.8h-6.62zM342.43 329.68h6.62v1.8h-6.62zM355.58 329.68h6.62v1.8h-6.62zM401.6 329.68h6.62v1.8h-6.62zM362.15 331.43h6.62v1.8h-6.62zM302.98 333.18h6.62v1.8h-6.62zM362.15 333.18h6.62v1.8h-6.62zM355.58 334.94h6.62v1.8h-6.62zM388.45 334.94h6.62v1.8h-6.62zM355.58 336.69h6.62v1.8h-6.62zM270.1 338.44h6.62v1.8h-6.62zM322.7 338.44h6.62v1.8h-6.62zM329.28 338.44h6.62v1.8h-6.62zM401.6 338.44h6.62v1.8h-6.62zM302.98 341.94h6.62v1.8h-6.62zM322.7 345.45h6.62v1.8h-6.62zM355.58 345.45h6.62v1.8h-6.62zM401.6 348.95h6.62v1.8h-6.62zM276.68 350.7h6.62v1.8h-6.62zM276.68 352.46h6.62v1.8h-6.62zM276.68 354.21h6.62v1.8h-6.62zM342.43 354.21h6.62v1.8h-6.62zM316.12 355.96h6.62v1.8h-6.62zM329.28 355.96h6.62v1.8h-6.62zM335.85 355.96h6.62v1.8h-6.62zM362.15 355.96h6.62v1.8h-6.62zM316.12 359.46h6.62v1.8h-6.62zM401.6 359.46h6.62v1.8h-6.62zM316.12 361.22h6.62v1.8h-6.62zM329.28 362.97h6.62v1.8h-6.62zM342.43 362.97h6.62v1.8h-6.62zM355.58 362.97h6.62v1.8h-6.62zM342.43 364.72h6.62v1.8h-6.62zM401.6 366.47h6.62v1.8h-6.62zM342.43 368.22h6.62v1.8h-6.62zM401.6 368.22h6.62v1.8h-6.62zM289.83 371.73h6.62v1.8h-6.62zM388.45 371.73h6.62v1.8h-6.62zM401.6 371.73h6.62v1.8h-6.62zM270.1 373.48h6.62v1.8h-6.62zM289.83 375.23h6.62v1.8h-6.62zM270.1 378.74h6.62v1.8h-6.62zM309.55 380.49h6.62v1.8h-6.62zM335.85 382.24h6.62v1.8h-6.62zM270.1 383.99h6.62v1.8h-6.62zM302.98 383.99h6.62v1.8h-6.62zM342.43 385.74h6.62v1.8h-6.62zM276.68 387.5h6.62v1.8h-6.62zM296.4 389.25h6.62v1.8h-6.62zM316.12 389.25h6.62v1.8h-6.62zM342.43 389.25h6.62v1.8h-6.62zM355.58 391h6.62v1.8h-6.62zM388.45 391h6.62v1.8h-6.62zM355.58 394.5h6.62v1.8h-6.62zM302.98 396.26h6.62v1.8h-6.62zM316.12 396.26h6.62v1.8h-6.62zM322.7 396.26h6.62v1.8h-6.62zM329.28 396.26h6.62v1.8h-6.62zM368.73 396.26h6.62v1.8h-6.62zM388.45 396.26h6.62v1.8h-6.62zM342.43 398.01h6.62v1.8h-6.62zM329.28 399.76h6.62v1.8h-6.62zM335.85 401.51h6.62v1.8h-6.62zM329.28 403.26h6.62v1.8h-6.62zM355.58 403.26h6.62v1.8h-6.62zM329.28 405.02h6.62v1.8h-6.62zM302.98 406.77h6.62v1.8h-6.62zM322.7 406.77h6.62v1.8h-6.62zM401.6 406.77h6.62v1.8h-6.62zM316.12 408.52h6.62v1.8h-6.62zM329.28 408.52h6.62v1.8h-6.62zM349 408.52h6.62v1.8h-6.62zM270.1 412.02h6.62v1.8h-6.62zM349 412.02h6.62v1.8h-6.62zM355.58 412.02h6.62v1.8h-6.62zM401.6 413.78h6.62v1.8h-6.62zM270.1 415.53h6.62v1.8h-6.62zM289.83 415.53h6.62v1.8h-6.62zM329.28 419.03h6.62v1.8h-6.62zM349 419.03h6.62v1.8h-6.62zM349 424.29h6.62v1.8h-6.62zM329.28 426.04h6.62v1.8h-6.62zM375.3 426.04h6.62v1.8h-6.62zM342.43 427.79h6.62v1.8h-6.62zM302.98 429.54h6.62v1.8h-6.62zM296.4 433.05h6.62v1.8h-6.62zM335.85 436.55h6.62v1.8h-6.62zM302.98 438.3h6.62v1.8h-6.62zM329.28 441.81h6.62v1.8h-6.62zM302.98 445.31h6.62v1.8h-6.62zM395.02 445.31h6.62v1.8h-6.62zM342.43 450.57h6.62v1.8h-6.62zM395.02 450.57h6.62v1.8h-6.62zM296.4 452.32h6.62v1.8h-6.62zM302.98 452.32h6.62v1.8h-6.62zM401.6 454.07h6.62v1.8h-6.62zM270.1 455.82h6.62v1.8h-6.62zM368.73 455.82h6.62v1.8h-6.62zM309.55 457.58h6.62v1.8h-6.62zM335.85 457.58h6.62v1.8h-6.62zM309.55 461.08h6.62v1.8h-6.62zM296.4 462.83h6.62v1.8h-6.62zM335.85 462.83h6.62v1.8h-6.62zM342.43 462.83h6.62v1.8h-6.62zM309.55 464.58h6.62v1.8h-6.62zM309.55 466.34h6.62v1.8h-6.62zM355.58 469.84h6.62v1.8h-6.62zM270.1 475.1h6.62v1.8h-6.62zM296.4 476.85h6.62v1.8h-6.62zM362.15 476.85h6.62v1.8h-6.62zM381.88 476.85h6.62v1.8h-6.62zM362.15 478.6h6.62v1.8h-6.62zM401.6 478.6h6.62v1.8h-6.62zM401.6 480.35h6.62v1.8h-6.62zM276.68 482.1h6.62v1.8h-6.62zM355.58 482.1h6.62v1.8h-6.62zM335.85 485.61h6.62v1.8h-6.62zM362.15 487.36h6.62v1.8h-6.62zM335.85 490.86h6.62v1.8h-6.62zM388.45 490.86h6.62v1.8h-6.62zM276.68 496.12h6.62v1.8h-6.62zM309.55 496.12h6.62v1.8h-6.62zM368.73 497.87h6.62v1.8h-6.62zM302.98 499.62h6.62v1.8h-6.62zM362.15 499.62h6.62v1.8h-6.62zM395.02 499.62h6.62v1.8h-6.62zM362.15 501.38h6.62v1.8h-6.62zM401.6 501.38h6.62v1.8h-6.62zM368.73 503.13h6.62v1.8h-6.62zM401.6 503.13h6.62v1.8h-6.62zM276.68 504.88h6.62v1.8h-6.62zM296.4 504.88h6.62v1.8h-6.62zM296.4 506.63h6.62v1.8h-6.62zM362.15 506.63h6.62v1.8h-6.62zM381.88 506.63h6.62v1.8h-6.62zM395.02 506.63h6.62v1.8h-6.62zM408.18 508.38h6.62v1.8h-6.62zM473.93 508.38h6.62v1.8h-6.62zM283.25 510.14h6.62v1.8h-6.62zM441.05 510.14h6.62v1.8h-6.62zM296.4 511.89h6.62v1.8h-6.62zM316.12 511.89h6.62v1.8h-6.62zM447.62 511.89h6.62v1.8h-6.62zM309.55 513.64h6.62v1.8h-6.62zM289.83 515.39h6.62v1.8h-6.62zM309.55 515.39h6.62v1.8h-6.62zM467.35 515.39h6.62v1.8h-6.62zM309.55 517.14h6.62v1.8h-6.62zM434.48 517.14h6.62v1.8h-6.62zM362.15 520.65h6.62v1.8h-6.62zM441.05 520.65h6.62v1.8h-6.62z"/>
<path fill="#ffd4d4" d="M395.02 173.75h6.62v1.8h-6.62zM283.25 175.5h6.62v1.8h-6.62zM395.02 175.5h6.62v1.8h-6.62zM296.4 179.01h6.62v1.8h-6.62zM362.15 180.76h6.62v1.8h-6.62zM296.4 182.51h6.62v1.8h-6.62zM302.98 184.26h6.62v1.8h-6.62zM316.12 184.26h6.62v1.8h-6.62zM316.12 186.02h6.62v1.8h-6.62zM283.25 187.77h6.62v1.8h-6.62zM316.12 191.27h6.62v1.8h-6.62zM316.12 193.02h6.62v1.8h-6.62zM355.58 196.53h6.62v1.8h-6.62zM362.15 196.53h6.62v1.8h-6.62zM349 198.28h6.62v1.8h-6.62zM362.15 198.28h6.62v1.8h-6.62zM329.28 200.03h6.62v1.8h-6.62zM395.02 200.03h6.62v1.8h-6.62zM401.6 200.03h6.62v1.8h-6.62zM362.15 201.78h6.62v1.8h-6.62zM329.28 203.54h6.62v1.8h-6.62zM395.02 203.54h6.62v1.8h-6.62zM289.83 205.29h6.62v1.8h-6.62zM316.12 205.29h6.62v1.8h-6.62zM349 205.29h6.62v1.8h-6.62zM309.55 207.04h6.62v1.8h-6.62zM368.73 207.04h6.62v1.8h-6.62zM289.83 208.79h6.62v1.8h-6.62zM309.55 208.79h6.62v1.8h-6.62zM329.28 208.79h6.62v1.8h-6.62zM335.85 210.54h6.62v1.8h-6.62zM329.28 212.3h6.62v1.8h-6.62zM375.3 212.3h6.62v1.8h-6.62zM381.88 212.3h6.62v1.8h-6.62zM270.1 214.05h6.62v1.8h-6.62zM302.98 214.05h6.62v1.8h-6.62zM349 214.05h6.62v1.8h-6.62zM289.83 217.55h6.62v1.8h-6.62zM302.98 217.55h6.62v1.8h-6.62zM342.43 219.3h6.62v1.8h-6.62zM375.3 219.3h6.62v1.8h-6.62zM309.55 221.06h6.62v1.8h-6.62zM270.1 224.56h6.62v1.8h-6.62zM296.4 226.31h6.62v1.8h-6.62zM454.2 226.31h6.62v1.8h-6.62zM375.3 228.06h6.62v1.8h-6.62zM342.43 229.82h6.62v1.8h-6.62zM309.55 231.57h6.62v1.8h-6.62zM395.02 231.57h6.62v1.8h-6.62zM283.25 236.82h6.62v1.8h-6.62zM322.7 238.58h6.62v1.8h-6.62zM342.43 238.58h6.62v1.8h-6.62zM329.28 240.33h6.62v1.8h-6.62zM401.6 242.08h6.62v1.8h-6.62zM302.98 243.83h6.62v1.8h-6.62zM355.58 243.83h6.62v1.8h-6.62zM395.02 243.83h6.62v1.8h-6.62zM289.83 245.58h6.62v1.8h-6.62zM355.58 245.58h6.62v1.8h-6.62zM401.6 247.34h6.62v1.8h-6.62zM349 250.84h6.62v1.8h-6.62zM316.12 252.59h6.62v1.8h-6.62zM355.58 252.59h6.62v1.8h-6.62zM283.25 256.1h6.62v1.8h-6.62zM335.85 256.1h6.62v1.8h-6.62zM362.15 256.1h6.62v1.8h-6.62zM375.3 256.1h6.62v1.8h-6.62zM302.98 257.85h6.62v1.8h-6.62zM368.73 257.85h6.62v1.8h-6.62zM283.25 259.6h6.62v1.8h-6.62zM368.73 259.6h6.62v1.8h-6.62zM388.45 259.6h6.62v1.8h-6.62zM316.12 261.35h6.62v1.8h-6.62zM342.43 261.35h6.62v1.8h-6.62zM283.25 263.1h6.62v1.8h-6.62zM316.12 263.1h6.62v1.8h-6.62zM342.43 264.86h6.62v1.8h-6.62zM322.7 268.36h6.62v1.8h-6.62zM296.4 273.62h6.62v1.8h-6.62zM388.45 273.62h6.62v1.8h-6.62zM401.6 273.62h6.62v1.8h-6.62zM329.28 275.37h6.62v1.8h-6.62zM316.12 277.12h6.62v1.8h-6.62zM329.28 277.12h6.62v1.8h-6.62zM388.45 277.12h6.62v1.8h-6.62zM401.6 280.62h6.62v1.8h-6.62zM276.68 282.38h6.62v1.8h-6.62zM316.12 282.38h6.62v1.8h-6.62zM355.58 282.38h6.62v1.8h-6.62zM296.4 284.13h6.62v1.8h-6.62zM316.12 285.88h6.62v1.8h-6.62zM368.73 285.88h6.62v1.8h-6.62zM427.9 285.88h6.62v1.8h-6.62zM316.12 287.63h6.62v1.8h-6.62zM349 287.63h6.62v1.8h-6.62zM368.73 289.38h6.62v1.8h-6.62zM276.68 291.14h6.62v1.8h-6.62zM329.28 291.14h6.62v1.8h-6.62zM381.88 292.89h6.62v1.8h-6.62zM388.45 292.89h6.62v1.8h-6.62zM427.9 292.89h6.62v1.8h-6.62zM302.98 294.64h6.62v1.8h-6.62zM316.12 294.64h6.62v1.8h-6.62zM335.85 294.64h6.62v1.8h-6.62zM388.45 294.64h6.62v1.8h-6.62zM401.6 294.64h6.62v1.8h-6.62zM322.7 299.9h6.62v1.8h-6.62zM362.15 299.9h6.62v1.8h-6.62zM375.3 299.9h6.62v1.8h-6.62zM388.45 299.9h6.62v1.8h-6.62zM289.83 301.65h6.62v1.8h-6.62zM296.4 301.65h6.62v1.8h-6.62zM329.28 301.65h6.62v1.8h-6.62zM401.6 303.4h6.62v1.8h-6.62zM342.43 305.15h6.62v1.8h-6.62zM401.6 305.15h6.62v1.8h-6.62zM309.55 306.9h6.62v1.8h-6.62zM316.12 310.41h6.62v1.8h-6.62zM401.6 310.41h6.62v1.8h-6.62zM289.83 312.16h6.62v1.8h-6.62zM329.28 313.91h6.62v1.8h-6.62zM388.45 315.66h6.62v1.8h-6.62zM349 322.67h6.62v1.8h-6.62zM329.28 324.42h6.62v1.8h-6.62zM316.12 326.18h6.62v1.8h-6.62zM289.83 331.43h6.62v1.8h-6.62zM388.45 331.43h6.62v1.8h-6.62zM322.7 333.18h6.62v1.8h-6.62zM362.15 334.94h6.62v1.8h-6.62zM283.25 336.69h6.62v1.8h-6.62zM316.12 336.69h6.62v1.8h-6.62zM355.58 338.44h6.62v1.8h-6.62zM381.88 338.44h6.62v1.8h-6.62zM270.1 340.19h6.62v1.8h-6.62zM401.6 340.19h6.62v1.8h-6.62zM349 341.94h6.62v1.8h-6.62zM381.88 343.7h6.62v1.8h-6.62zM302.98 345.45h6.62v1.8h-6.62zM342.43 345.45h6.62v1.8h-6.62zM316.12 348.95h6.62v1.8h-6.62zM355.58 350.7h6.62v1.8h-6.62zM270.1 352.46h6.62v1.8h-6.62zM322.7 354.21h6.62v1.8h-6.62zM302.98 357.71h6.62v1.8h-6.62zM329.28 357.71h6.62v1.8h-6.62zM296.4 359.46h6.62v1.8h-6.62zM335.85 361.22h6.62v1.8h-6.62zM302.98 362.97h6.62v1.8h-6.62zM401.6 362.97h6.62v1.8h-6.62zM309.55 364.72h6.62v1.8h-6.62zM355.58 364.72h6.62v1.8h-6.62zM283.25 366.47h6.62v1.8h-6.62zM329.28 366.47h6.62v1.8h-6.62zM296.4 368.22h6.62v1.8h-6.62zM302.98 368.22h6.62v1.8h-6.62zM381.88 368.22h6.62v1.8h-6.62zM388.45 368.22h6.62v1.8h-6.62zM289.83 369.98h6.62v1.8h-6.62zM316.12 369.98h6.62v1.8h-6.62zM302.98 371.73h6.62v1.8h-6.62zM349 371.73h6.62v1.8h-6.62zM381.88 371.73h6.62v1.8h-6.62zM329.28 375.23h6.62v1.8h-6.62zM381.88 375.23h6.62v1.8h-6.62zM388.45 376.98h6.62v1.8h-6.62zM401.6 376.98h6.62v1.8h-6.62zM309.55 378.74h6.62v1.8h-6.62zM289.83 382.24h6.62v1.8h-6.62zM289.83 383.99h6.62v1.8h-6.62zM289.83 385.74h6.62v1.8h-6.62zM329.28 385.74h6.62v1.8h-6.62zM316.12 387.5h6.62v1.8h-6.62zM401.6 389.25h6.62v1.8h-6.62zM302.98 391h6.62v1.8h-6.62zM289.83 392.75h6.62v1.8h-6.62zM322.7 392.75h6.62v1.8h-6.62zM388.45 392.75h6.62v1.8h-6.62zM322.7 394.5h6.62v1.8h-6.62zM342.43 394.5h6.62v1.8h-6.62zM368.73 394.5h6.62v1.8h-6.62zM289.83 398.01h6.62v1.8h-6.62zM322.7 399.76h6.62v1.8h-6.62zM355.58 399.76h6.62v1.8h-6.62zM401.6 399.76h6.62v1.8h-6.62zM289.83 401.51h6.62v1.8h-6.62zM296.4 401.51h6.62v1.8h-6.62zM329.28 401.51h6.62v1.8h-6.62zM342.43 403.26h6.62v1.8h-6.62zM381.88 403.26h6.62v1.8h-6.62zM270.1 405.02h6.62v1.8h-6.62zM289.83 405.02h6.62v1.8h-6.62zM355.58 406.77h6.62v1.8h-6.62zM283.25 408.52h6.62v1.8h-6.62zM289.83 408.52h6.62v1.8h-6.62zM362.15 408.52h6.62v1.8h-6.62zM276.68 410.27h6.62v1.8h-6.62zM296.4 410.27h6.62v1.8h-6.62zM309.55 410.27h6.62v1.8h-6.62zM296.4 412.02h6.62v1.8h-6.62zM302.98 413.78h6.62v1.8h-6.62zM355.58 413.78h6.62v1.8h-6.62zM296.4 415.53h6.62v1.8h-6.62zM316.12 417.28h6.62v1.8h-6.62zM342.43 417.28h6.62v1.8h-6.62zM270.1 419.03h6.62v1.8h-6.62zM316.12 419.03h6.62v1.8h-6.62zM270.1 420.78h6.62v1.8h-6.62zM349 420.78h6.62v1.8h-6.62zM401.6 420.78h6.62v1.8h-6.62zM270.1 424.29h6.62v1.8h-6.62zM283.25 424.29h6.62v1.8h-6.62zM316.12 424.29h6.62v1.8h-6.62zM322.7 424.29h6.62v1.8h-6.62zM381.88 424.29h6.62v1.8h-6.62zM401.6 426.04h6.62v1.8h-6.62zM454.2 426.04h6.62v1.8h-6.62zM276.68 427.79h6.62v1.8h-6.62zM309.55 427.79h6.62v1.8h-6.62zM362.15 429.54h6.62v1.8h-6.62zM355.58 431.3h6.62v1.8h-6.62zM302.98 434.8h6.62v1.8h-6.62zM355.58 434.8h6.62v1.8h-6.62zM362.15 434.8h6.62v1.8h-6.62zM342.43 438.3h6.62v1.8h-6.62zM375.3 438.3h6.62v1.8h-6.62zM322.7 440.06h6.62v1.8h-6.62zM401.6 440.06h6.62v1.8h-6.62zM395.02 441.81h6.62v1.8h-6.62zM270.1 445.31h6.62v1.8h-6.62zM283.25 445.31h6.62v1.8h-6.62zM322.7 445.31h6.62v1.8h-6.62zM395.02 447.06h6.62v1.8h-6.62zM362.15 448.82h6.62v1.8h-6.62zM381.88 450.57h6.62v1.8h-6.62zM322.7 452.32h6.62v1.8h-6.62zM395.02 452.32h6.62v1.8h-6.62zM283.25 454.07h6.62v1.8h-6.62zM329.28 454.07h6.62v1.8h-6.62zM342.43 454.07h6.62v1.8h-6.62zM362.15 455.82h6.62v1.8h-6.62zM270.1 459.33h6.62v1.8h-6.62zM349 459.33h6.62v1.8h-6.62zM381.88 459.33h6.62v1.8h-6.62zM322.7 464.58h6.62v1.8h-6.62zM329.28 464.58h6.62v1.8h-6.62zM283.25 466.34h6.62v1.8h-6.62zM381.88 471.59h6.62v1.8h-6.62zM302.98 473.34h6.62v1.8h-6.62zM302.98 475.1h6.62v1.8h-6.62zM335.85 475.1h6.62v1.8h-6.62zM349 475.1h6.62v1.8h-6.62zM395.02 476.85h6.62v1.8h-6.62zM302.98 480.35h6.62v1.8h-6.62zM381.88 480.35h6.62v1.8h-6.62zM270.1 482.1h6.62v1.8h-6.62zM401.6 483.86h6.62v1.8h-6.62zM309.55 485.61h6.62v1.8h-6.62zM322.7 487.36h6.62v1.8h-6.62zM289.83 489.11h6.62v1.8h-6.62zM322.7 489.11h6.62v1.8h-6.62zM362.15 489.11h6.62v1.8h-6.62zM381.88 489.11h6.62v1.8h-6.62zM388.45 489.11h6.62v1.8h-6.62zM342.43 490.86h6.62v1.8h-6.62zM375.3 490.86h6.62v1.8h-6.62zM401.6 490.86h6.62v1.8h-6.62zM283.25 492.62h6.62v1.8h-6.62zM289.83 492.62h6.62v1.8h-6.62zM296.4 492.62h6.62v1.8h-6.62zM322.7 492.62h6.62v1.8h-6.62zM368.73 492.62h6.62v1.8h-6.62zM375.3 492.62h6.62v1.8h-6.62zM309.55 494.37h6.62v1.8h-6.62zM349 499.62h6.62v1.8h-6.62zM401.6 499.62h6.62v1.8h-6.62zM368.73 501.38h6.62v1.8h-6.62zM381.88 501.38h6.62v1.8h-6.62zM388.45 501.38h6.62v1.8h-6.62zM329.28 503.13h6.62v1.8h-6.62zM388.45 504.88h6.62v1.8h-6.62zM427.9 504.88h6.62v1.8h-6.62zM342.43 506.63h6.62v1.8h-6.62zM368.73 506.63h6.62v1.8h-6.62zM427.9 506.63h6.62v1.8h-6.62zM460.77 506.63h6.62v1.8h-6.62zM335.85 508.38h6.62v1.8h-6.62zM401.6 508.38h6.62v1.8h-6.62zM441.05 508.38h6.62v1.8h-6.62zM467.35 508.38h6.62v1.8h-6.62zM388.45 511.89h6.62v1.8h-6.62zM408.18 511.89h6.62v1.8h-6.62zM467.35 511.89h6.62v1.8h-6.62zM349 513.64h6.62v1.8h-6.62zM441.05 513.64h6.62v1.8h-6.62zM289.83 518.9h6.62v1.8h-6.62zM289.83 520.65h6.62v1.8h-6.62zM355.58 520.65h6.62v1.8h-6.62z"/>
<path fill="#ffbfbf" d="M309.55 175.5h6.62v1.8h-6.62zM362.15 175.5h6.62v1.8h-6.62zM342.43 177.26h6.62v1.8h-6.62zM349 177.26h6.62v1.8h-6.62zM362.15 177.26h6.62v1.8h-6.62zM395.02 177.26h6.62v1.8h-6.62zM335.85 182.51h6.62v1.8h-6.62zM395.02 182.51h6.62v1.8h-6.62zM342.43 184.26h6.62v1.8h-6.62zM329.28 186.02h6.62v1.8h-6.62zM316.12 187.77h6.62v1.8h-6.62zM395.02 187.77h6.62v1.8h-6.62zM316.12 189.52h6.62v1.8h-6.62zM395.02 189.52h6.62v1.8h-6.62zM289.83 191.27h6.62v1.8h-6.62zM329.28 193.02h6.62v1.8h-6.62zM302.98 194.78h6.62v1.8h-6.62zM329.28 198.28h6.62v1.8h-6.62zM289.83 200.03h6.62v1.8h-6.62zM375.3 201.78h6.62v1.8h-6.62zM362.15 205.29h6.62v1.8h-6.62zM401.6 205.29h6.62v1.8h-6.62zM473.93 205.29h6.62v1.8h-6.62zM322.7 208.79h6.62v1.8h-6.62zM401.6 210.54h6.62v1.8h-6.62zM270.1 212.3h6.62v1.8h-6.62zM342.43 214.05h6.62v1.8h-6.62zM289.83 215.8h6.62v1.8h-6.62zM335.85 215.8h6.62v1.8h-6.62zM283.25 217.55h6.62v1.8h-6.62zM375.3 217.55h6.62v1.8h-6.62zM388.45 219.3h6.62v1.8h-6.62zM401.6 219.3h6.62v1.8h-6.62zM329.28 221.06h6.62v1.8h-6.62zM289.83 222.81h6.62v1.8h-6.62zM322.7 224.56h6.62v1.8h-6.62zM388.45 224.56h6.62v1.8h-6.62zM368.73 228.06h6.62v1.8h-6.62zM322.7 229.82h6.62v1.8h-6.62zM375.3 231.57h6.62v1.8h-6.62zM349 233.32h6.62v1.8h-6.62zM342.43 235.07h6.62v1.8h-6.62zM289.83 236.82h6.62v1.8h-6.62zM368.73 236.82h6.62v1.8h-6.62zM296.4 238.58h6.62v1.8h-6.62zM388.45 238.58h6.62v1.8h-6.62zM289.83 240.33h6.62v1.8h-6.62zM388.45 240.33h6.62v1.8h-6.62zM302.98 242.08h6.62v1.8h-6.62zM395.02 242.08h6.62v1.8h-6.62zM375.3 247.34h6.62v1.8h-6.62zM329.28 249.09h6.62v1.8h-6.62zM302.98 250.84h6.62v1.8h-6.62zM342.43 250.84h6.62v1.8h-6.62zM368.73 250.84h6.62v1.8h-6.62zM388.45 252.59h6.62v1.8h-6.62zM309.55 254.34h6.62v1.8h-6.62zM362.15 254.34h6.62v1.8h-6.62zM368.73 254.34h6.62v1.8h-6.62zM283.25 257.85h6.62v1.8h-6.62zM316.12 257.85h6.62v1.8h-6.62zM335.85 257.85h6.62v1.8h-6.62zM375.3 259.6h6.62v1.8h-6.62zM368.73 261.35h6.62v1.8h-6.62zM375.3 263.1h6.62v1.8h-6.62zM401.6 263.1h6.62v1.8h-6.62zM316.12 266.61h6.62v1.8h-6.62zM362.15 270.11h6.62v1.8h-6.62zM289.83 271.86h6.62v1.8h-6.62zM375.3 275.37h6.62v1.8h-6.62zM342.43 277.12h6.62v1.8h-6.62zM355.58 277.12h6.62v1.8h-6.62zM322.7 278.87h6.62v1.8h-6.62zM388.45 278.87h6.62v1.8h-6.62zM276.68 280.62h6.62v1.8h-6.62zM316.12 280.62h6.62v1.8h-6.62zM355.58 280.62h6.62v1.8h-6.62zM375.3 282.38h6.62v1.8h-6.62zM401.6 284.13h6.62v1.8h-6.62zM381.88 285.88h6.62v1.8h-6.62zM316.12 291.14h6.62v1.8h-6.62zM322.7 292.89h6.62v1.8h-6.62zM283.25 294.64h6.62v1.8h-6.62zM289.83 294.64h6.62v1.8h-6.62zM296.4 298.14h6.62v1.8h-6.62zM342.43 298.14h6.62v1.8h-6.62zM355.58 298.14h6.62v1.8h-6.62zM316.12 303.4h6.62v1.8h-6.62zM329.28 303.4h6.62v1.8h-6.62zM316.12 305.15h6.62v1.8h-6.62zM329.28 305.15h6.62v1.8h-6.62zM355.58 305.15h6.62v1.8h-6.62zM342.43 306.9h6.62v1.8h-6.62zM388.45 306.9h6.62v1.8h-6.62zM401.6 306.9h6.62v1.8h-6.62zM322.7 310.41h6.62v1.8h-6.62zM329.28 310.41h6.62v1.8h-6.62zM335.85 310.41h6.62v1.8h-6.62zM355.58 310.41h6.62v1.8h-6.62zM355.58 313.91h6.62v1.8h-6.62zM329.28 315.66h6.62v1.8h-6.62zM276.68 317.42h6.62v1.8h-6.62zM329.28 317.42h6.62v1.8h-6.62zM368.73 317.42h6.62v1.8h-6.62zM388.45 319.17h6.62v1.8h-6.62zM296.4 322.67h6.62v1.8h-6.62zM335.85 322.67h6.62v1.8h-6.62zM388.45 326.18h6.62v1.8h-6.62zM302.98 331.43h6.62v1.8h-6.62zM322.7 334.94h6.62v1.8h-6.62zM329.28 336.69h6.62v1.8h-6.62zM362.15 336.69h6.62v1.8h-6.62zM302.98 338.44h6.62v1.8h-6.62zM316.12 338.44h6.62v1.8h-6.62zM368.73 338.44h6.62v1.8h-6.62zM302.98 340.19h6.62v1.8h-6.62zM316.12 340.19h6.62v1.8h-6.62zM270.1 341.94h6.62v1.8h-6.62zM316.12 341.94h6.62v1.8h-6.62zM302.98 343.7h6.62v1.8h-6.62zM316.12 343.7h6.62v1.8h-6.62zM302.98 347.2h6.62v1.8h-6.62zM381.88 347.2h6.62v1.8h-6.62zM302.98 348.95h6.62v1.8h-6.62zM329.28 348.95h6.62v1.8h-6.62zM342.43 348.95h6.62v1.8h-6.62zM381.88 357.71h6.62v1.8h-6.62zM322.7 359.46h6.62v1.8h-6.62zM316.12 362.97h6.62v1.8h-6.62zM395.02 362.97h6.62v1.8h-6.62zM302.98 364.72h6.62v1.8h-6.62zM270.1 366.47h6.62v1.8h-6.62zM316.12 366.47h6.62v1.8h-6.62zM342.43 366.47h6.62v1.8h-6.62zM322.7 369.98h6.62v1.8h-6.62zM329.28 369.98h6.62v1.8h-6.62zM270.1 371.73h6.62v1.8h-6.62zM342.43 371.73h6.62v1.8h-6.62zM289.83 373.48h6.62v1.8h-6.62zM322.7 373.48h6.62v1.8h-6.62zM342.43 373.48h6.62v1.8h-6.62zM349 373.48h6.62v1.8h-6.62zM322.7 376.98h6.62v1.8h-6.62zM296.4 378.74h6.62v1.8h-6.62zM362.15 382.24h6.62v1.8h-6.62zM395.02 382.24h6.62v1.8h-6.62zM296.4 387.5h6.62v1.8h-6.62zM322.7 387.5h6.62v1.8h-6.62zM395.02 387.5h6.62v1.8h-6.62zM401.6 387.5h6.62v1.8h-6.62zM289.83 389.25h6.62v1.8h-6.62zM381.88 391h6.62v1.8h-6.62zM368.73 392.75h6.62v1.8h-6.62zM381.88 392.75h6.62v1.8h-6.62zM270.1 398.01h6.62v1.8h-6.62zM302.98 398.01h6.62v1.8h-6.62zM381.88 398.01h6.62v1.8h-6.62zM270.1 399.76h6.62v1.8h-6.62zM276.68 401.51h6.62v1.8h-6.62zM283.25 401.51h6.62v1.8h-6.62zM316.12 401.51h6.62v1.8h-6.62zM368.73 401.51h6.62v1.8h-6.62zM302.98 403.26h6.62v1.8h-6.62zM296.4 405.02h6.62v1.8h-6.62zM349 405.02h6.62v1.8h-6.62zM368.73 406.77h6.62v1.8h-6.62zM270.1 410.27h6.62v1.8h-6.62zM283.25 410.27h6.62v1.8h-6.62zM289.83 412.02h6.62v1.8h-6.62zM289.83 413.78h6.62v1.8h-6.62zM349 413.78h6.62v1.8h-6.62zM309.55 415.53h6.62v1.8h-6.62zM329.28 415.53h6.62v1.8h-6.62zM362.15 415.53h6.62v1.8h-6.62zM283.25 417.28h6.62v1.8h-6.62zM329.28 417.28h6.62v1.8h-6.62zM276.68 419.03h6.62v1.8h-6.62zM296.4 419.03h6.62v1.8h-6.62zM381.88 419.03h6.62v1.8h-6.62zM355.58 420.78h6.62v1.8h-6.62zM296.4 422.54h6.62v1.8h-6.62zM342.43 424.29h6.62v1.8h-6.62zM362.15 426.04h6.62v1.8h-6.62zM270.1 427.79h6.62v1.8h-6.62zM362.15 427.79h6.62v1.8h-6.62zM395.02 427.79h6.62v1.8h-6.62zM454.2 427.79h6.62v1.8h-6.62zM329.28 429.54h6.62v1.8h-6.62zM335.85 429.54h6.62v1.8h-6.62zM375.3 429.54h6.62v1.8h-6.62zM316.12 431.3h6.62v1.8h-6.62zM355.58 433.05h6.62v1.8h-6.62zM276.68 436.55h6.62v1.8h-6.62zM362.15 436.55h6.62v1.8h-6.62zM329.28 438.3h6.62v1.8h-6.62zM401.6 438.3h6.62v1.8h-6.62zM349 441.81h6.62v1.8h-6.62zM296.4 443.56h6.62v1.8h-6.62zM368.73 443.56h6.62v1.8h-6.62zM401.6 443.56h6.62v1.8h-6.62zM316.12 445.31h6.62v1.8h-6.62zM388.45 445.31h6.62v1.8h-6.62zM270.1 447.06h6.62v1.8h-6.62zM335.85 447.06h6.62v1.8h-6.62zM349 447.06h6.62v1.8h-6.62zM296.4 448.82h6.62v1.8h-6.62zM283.25 450.57h6.62v1.8h-6.62zM302.98 450.57h6.62v1.8h-6.62zM316.12 450.57h6.62v1.8h-6.62zM322.7 450.57h6.62v1.8h-6.62zM276.68 452.32h6.62v1.8h-6.62zM362.15 452.32h6.62v1.8h-6.62zM368.73 452.32h6.62v1.8h-6.62zM381.88 454.07h6.62v1.8h-6.62zM276.68 455.82h6.62v1.8h-6.62zM342.43 455.82h6.62v1.8h-6.62zM349 455.82h6.62v1.8h-6.62zM381.88 455.82h6.62v1.8h-6.62zM302.98 457.58h6.62v1.8h-6.62zM342.43 459.33h6.62v1.8h-6.62zM375.3 459.33h6.62v1.8h-6.62zM381.88 461.08h6.62v1.8h-6.62zM329.28 462.83h6.62v1.8h-6.62zM362.15 462.83h6.62v1.8h-6.62zM395.02 462.83h6.62v1.8h-6.62zM362.15 464.58h6.62v1.8h-6.62zM375.3 464.58h6.62v1.8h-6.62zM329.28 468.09h6.62v1.8h-6.62zM362.15 468.09h6.62v1.8h-6.62zM283.25 471.59h6.62v1.8h-6.62zM296.4 471.59h6.62v1.8h-6.62zM349 471.59h6.62v1.8h-6.62zM270.1 473.34h6.62v1.8h-6.62zM355.58 473.34h6.62v1.8h-6.62zM395.02 473.34h6.62v1.8h-6.62zM289.83 480.35h6.62v1.8h-6.62zM335.85 480.35h6.62v1.8h-6.62zM362.15 483.86h6.62v1.8h-6.62zM368.73 483.86h6.62v1.8h-6.62zM349 485.61h6.62v1.8h-6.62zM368.73 485.61h6.62v1.8h-6.62zM381.88 485.61h6.62v1.8h-6.62zM335.85 487.36h6.62v1.8h-6.62zM316.12 489.11h6.62v1.8h-6.62zM335.85 489.11h6.62v1.8h-6.62zM342.43 492.62h6.62v1.8h-6.62zM381.88 492.62h6.62v1.8h-6.62zM395.02 492.62h6.62v1.8h-6.62zM270.1 494.37h6.62v1.8h-6.62zM270.1 496.12h6.62v1.8h-6.62zM395.02 496.12h6.62v1.8h-6.62zM329.28 497.87h6.62v1.8h-6.62zM349 497.87h6.62v1.8h-6.62zM362.15 497.87h6.62v1.8h-6.62zM395.02 497.87h6.62v1.8h-6.62zM342.43 499.62h6.62v1.8h-6.62zM375.3 499.62h6.62v1.8h-6.62zM388.45 499.62h6.62v1.8h-6.62zM283.25 503.13h6.62v1.8h-6.62zM349 503.13h6.62v1.8h-6.62zM342.43 504.88h6.62v1.8h-6.62zM355.58 506.63h6.62v1.8h-6.62zM408.18 506.63h6.62v1.8h-6.62zM447.62 506.63h6.62v1.8h-6.62zM467.35 506.63h6.62v1.8h-6.62zM395.02 508.38h6.62v1.8h-6.62zM434.48 508.38h6.62v1.8h-6.62zM302.98 510.14h6.62v1.8h-6.62zM322.7 510.14h6.62v1.8h-6.62zM460.77 510.14h6.62v1.8h-6.62zM473.93 510.14h6.62v1.8h-6.62zM342.43 511.89h6.62v1.8h-6.62zM368.73 511.89h6.62v1.8h-6.62zM427.9 511.89h6.62v1.8h-6.62zM302.98 513.64h6.62v1.8h-6.62zM342.43 513.64h6.62v1.8h-6.62zM375.3 513.64h6.62v1.8h-6.62zM467.35 513.64h6.62v1.8h-6.62zM355.58 515.39h6.62v1.8h-6.62zM408.18 515.39h6.62v1.8h-6.62zM467.35 517.14h6.62v1.8h-6.62zM467.35 520.65h6.62v1.8h-6.62z"/>
<path fill="#ffaaaa" d="M296.4 172h6.62v1.8h-6.62zM283.25 173.75h6.62v1.8h-6.62zM349 173.75h6.62v1.8h-6.62zM283.25 182.51h6.62v1.8h-6.62zM322.7 182.51h6.62v1.8h-6.62zM362.15 182.51h6.62v1.8h-6.62zM395.02 184.26h6.62v1.8h-6.62zM276.68 187.77h6.62v1.8h-6.62zM329.28 187.77h6.62v1.8h-6.62zM375.3 189.52h6.62v1.8h-6.62zM355.58 193.02h6.62v1.8h-6.62zM316.12 194.78h6.62v1.8h-6.62zM401.6 194.78h6.62v1.8h-6.62zM401.6 196.53h6.62v1.8h-6.62zM473.93 198.28h6.62v1.8h-6.62zM316.12 200.03h6.62v1.8h-6.62zM473.93 200.03h6.62v1.8h-6.62zM316.12 203.54h6.62v1.8h-6.62zM362.15 203.54h6.62v1.8h-6.62zM368.73 203.54h6.62v1.8h-6.62zM283.25 207.04h6.62v1.8h-6.62zM349 207.04h6.62v1.8h-6.62zM270.1 210.54h6.62v1.8h-6.62zM283.25 210.54h6.62v1.8h-6.62zM289.83 210.54h6.62v1.8h-6.62zM283.25 212.3h6.62v1.8h-6.62zM289.83 214.05h6.62v1.8h-6.62zM375.3 214.05h6.62v1.8h-6.62zM329.28 215.8h6.62v1.8h-6.62zM322.7 217.55h6.62v1.8h-6.62zM362.15 217.55h6.62v1.8h-6.62zM388.45 217.55h6.62v1.8h-6.62zM349 219.3h6.62v1.8h-6.62zM401.6 221.06h6.62v1.8h-6.62zM309.55 222.81h6.62v1.8h-6.62zM362.15 222.81h6.62v1.8h-6.62zM401.6 222.81h6.62v1.8h-6.62zM283.25 224.56h6.62v1.8h-6.62zM368.73 226.31h6.62v1.8h-6.62zM388.45 226.31h6.62v1.8h-6.62zM342.43 228.06h6.62v1.8h-6.62zM454.2 228.06h6.62v1.8h-6.62zM454.2 229.82h6.62v1.8h-6.62zM342.43 231.57h6.62v1.8h-6.62zM289.83 233.32h6.62v1.8h-6.62zM355.58 233.32h6.62v1.8h-6.62zM335.85 235.07h6.62v1.8h-6.62zM375.3 235.07h6.62v1.8h-6.62zM395.02 235.07h6.62v1.8h-6.62zM362.15 238.58h6.62v1.8h-6.62zM454.2 238.58h6.62v1.8h-6.62zM296.4 240.33h6.62v1.8h-6.62zM342.43 240.33h6.62v1.8h-6.62zM335.85 242.08h6.62v1.8h-6.62zM322.7 243.83h6.62v1.8h-6.62zM342.43 243.83h6.62v1.8h-6.62zM349 243.83h6.62v1.8h-6.62zM335.85 245.58h6.62v1.8h-6.62zM289.83 247.34h6.62v1.8h-6.62zM342.43 247.34h6.62v1.8h-6.62zM355.58 247.34h6.62v1.8h-6.62zM276.68 249.09h6.62v1.8h-6.62zM322.7 249.09h6.62v1.8h-6.62zM335.85 249.09h6.62v1.8h-6.62zM375.3 250.84h6.62v1.8h-6.62zM349 252.59h6.62v1.8h-6.62zM362.15 252.59h6.62v1.8h-6.62zM368.73 252.59h6.62v1.8h-6.62zM316.12 259.6h6.62v1.8h-6.62zM296.4 261.35h6.62v1.8h-6.62zM368.73 263.1h6.62v1.8h-6.62zM335.85 264.86h6.62v1.8h-6.62zM355.58 264.86h6.62v1.8h-6.62zM375.3 264.86h6.62v1.8h-6.62zM388.45 264.86h6.62v1.8h-6.62zM283.25 266.61h6.62v1.8h-6.62zM355.58 266.61h6.62v1.8h-6.62zM329.28 268.36h6.62v1.8h-6.62zM401.6 268.36h6.62v1.8h-6.62zM368.73 270.11h6.62v1.8h-6.62zM283.25 271.86h6.62v1.8h-6.62zM329.28 271.86h6.62v1.8h-6.62zM381.88 271.86h6.62v1.8h-6.62zM302.98 273.62h6.62v1.8h-6.62zM368.73 275.37h6.62v1.8h-6.62zM276.68 278.87h6.62v1.8h-6.62zM381.88 278.87h6.62v1.8h-6.62zM270.1 280.62h6.62v1.8h-6.62zM322.7 280.62h6.62v1.8h-6.62zM349 280.62h6.62v1.8h-6.62zM289.83 284.13h6.62v1.8h-6.62zM349 284.13h6.62v1.8h-6.62zM368.73 284.13h6.62v1.8h-6.62zM270.1 285.88h6.62v1.8h-6.62zM342.43 285.88h6.62v1.8h-6.62zM349 285.88h6.62v1.8h-6.62zM401.6 287.63h6.62v1.8h-6.62zM316.12 289.38h6.62v1.8h-6.62zM335.85 289.38h6.62v1.8h-6.62zM342.43 289.38h6.62v1.8h-6.62zM401.6 289.38h6.62v1.8h-6.62zM427.9 289.38h6.62v1.8h-6.62zM401.6 291.14h6.62v1.8h-6.62zM270.1 292.89h6.62v1.8h-6.62zM316.12 292.89h6.62v1.8h-6.62zM302.98 296.39h6.62v1.8h-6.62zM375.3 296.39h6.62v1.8h-6.62zM329.28 299.9h6.62v1.8h-6.62zM316.12 301.65h6.62v1.8h-6.62zM355.58 301.65h6.62v1.8h-6.62zM401.6 301.65h6.62v1.8h-6.62zM342.43 303.4h6.62v1.8h-6.62zM342.43 308.66h6.62v1.8h-6.62zM355.58 308.66h6.62v1.8h-6.62zM355.58 312.16h6.62v1.8h-6.62zM322.7 313.91h6.62v1.8h-6.62zM388.45 317.42h6.62v1.8h-6.62zM322.7 319.17h6.62v1.8h-6.62zM355.58 319.17h6.62v1.8h-6.62zM329.28 320.92h6.62v1.8h-6.62zM296.4 329.68h6.62v1.8h-6.62zM322.7 329.68h6.62v1.8h-6.62zM388.45 329.68h6.62v1.8h-6.62zM322.7 331.43h6.62v1.8h-6.62zM289.83 333.18h6.62v1.8h-6.62zM329.28 333.18h6.62v1.8h-6.62zM329.28 334.94h6.62v1.8h-6.62zM289.83 340.19h6.62v1.8h-6.62zM329.28 340.19h6.62v1.8h-6.62zM355.58 340.19h6.62v1.8h-6.62zM381.88 340.19h6.62v1.8h-6.62zM349 343.7h6.62v1.8h-6.62zM329.28 345.45h6.62v1.8h-6.62zM329.28 347.2h6.62v1.8h-6.62zM388.45 347.2h6.62v1.8h-6.62zM349 348.95h6.62v1.8h-6.62zM381.88 348.95h6.62v1.8h-6.62zM349 354.21h6.62v1.8h-6.62zM270.1 357.71h6.62v1.8h-6.62zM289.83 357.71h6.62v1.8h-6.62zM355.58 357.71h6.62v1.8h-6.62zM381.88 359.46h6.62v1.8h-6.62zM342.43 361.22h6.62v1.8h-6.62zM388.45 362.97h6.62v1.8h-6.62zM270.1 368.22h6.62v1.8h-6.62zM349 368.22h6.62v1.8h-6.62zM270.1 369.98h6.62v1.8h-6.62zM276.68 369.98h6.62v1.8h-6.62zM329.28 371.73h6.62v1.8h-6.62zM309.55 373.48h6.62v1.8h-6.62zM401.6 373.48h6.62v1.8h-6.62zM283.25 375.23h6.62v1.8h-6.62zM349 375.23h6.62v1.8h-6.62zM388.45 375.23h6.62v1.8h-6.62zM329.28 376.98h6.62v1.8h-6.62zM342.43 378.74h6.62v1.8h-6.62zM329.28 382.24h6.62v1.8h-6.62zM335.85 385.74h6.62v1.8h-6.62zM335.85 389.25h6.62v1.8h-6.62zM349 391h6.62v1.8h-6.62zM302.98 392.75h6.62v1.8h-6.62zM316.12 392.75h6.62v1.8h-6.62zM335.85 392.75h6.62v1.8h-6.62zM381.88 394.5h6.62v1.8h-6.62zM388.45 394.5h6.62v1.8h-6.62zM401.6 398.01h6.62v1.8h-6.62zM276.68 399.76h6.62v1.8h-6.62zM316.12 399.76h6.62v1.8h-6.62zM388.45 399.76h6.62v1.8h-6.62zM296.4 403.26h6.62v1.8h-6.62zM401.6 403.26h6.62v1.8h-6.62zM322.7 405.02h6.62v1.8h-6.62zM349 406.77h6.62v1.8h-6.62zM388.45 406.77h6.62v1.8h-6.62zM296.4 408.52h6.62v1.8h-6.62zM289.83 410.27h6.62v1.8h-6.62zM362.15 410.27h6.62v1.8h-6.62zM362.15 413.78h6.62v1.8h-6.62zM276.68 417.28h6.62v1.8h-6.62zM335.85 417.28h6.62v1.8h-6.62zM276.68 420.78h6.62v1.8h-6.62zM349 422.54h6.62v1.8h-6.62zM276.68 426.04h6.62v1.8h-6.62zM316.12 427.79h6.62v1.8h-6.62zM276.68 429.54h6.62v1.8h-6.62zM355.58 429.54h6.62v1.8h-6.62zM362.15 431.3h6.62v1.8h-6.62zM289.83 433.05h6.62v1.8h-6.62zM283.25 434.8h6.62v1.8h-6.62zM342.43 436.55h6.62v1.8h-6.62zM368.73 436.55h6.62v1.8h-6.62zM322.7 438.3h6.62v1.8h-6.62zM362.15 440.06h6.62v1.8h-6.62zM375.3 440.06h6.62v1.8h-6.62zM322.7 441.81h6.62v1.8h-6.62zM335.85 441.81h6.62v1.8h-6.62zM270.1 443.56h6.62v1.8h-6.62zM322.7 443.56h6.62v1.8h-6.62zM342.43 443.56h6.62v1.8h-6.62zM362.15 443.56h6.62v1.8h-6.62zM381.88 443.56h6.62v1.8h-6.62zM342.43 445.31h6.62v1.8h-6.62zM368.73 445.31h6.62v1.8h-6.62zM302.98 447.06h6.62v1.8h-6.62zM329.28 447.06h6.62v1.8h-6.62zM401.6 447.06h6.62v1.8h-6.62zM388.45 450.57h6.62v1.8h-6.62zM335.85 455.82h6.62v1.8h-6.62zM276.68 457.58h6.62v1.8h-6.62zM362.15 457.58h6.62v1.8h-6.62zM401.6 459.33h6.62v1.8h-6.62zM388.45 461.08h6.62v1.8h-6.62zM342.43 464.58h6.62v1.8h-6.62zM329.28 466.34h6.62v1.8h-6.62zM362.15 466.34h6.62v1.8h-6.62zM335.85 468.09h6.62v1.8h-6.62zM342.43 468.09h6.62v1.8h-6.62zM368.73 468.09h6.62v1.8h-6.62zM388.45 468.09h6.62v1.8h-6.62zM270.1 469.84h6.62v1.8h-6.62zM335.85 469.84h6.62v1.8h-6.62zM362.15 471.59h6.62v1.8h-6.62zM283.25 476.85h6.62v1.8h-6.62zM368.73 476.85h6.62v1.8h-6.62zM388.45 480.35h6.62v1.8h-6.62zM289.83 483.86h6.62v1.8h-6.62zM335.85 483.86h6.62v1.8h-6.62zM342.43 485.61h6.62v1.8h-6.62zM296.4 489.11h6.62v1.8h-6.62zM302.98 489.11h6.62v1.8h-6.62zM329.28 489.11h6.62v1.8h-6.62zM401.6 489.11h6.62v1.8h-6.62zM296.4 490.86h6.62v1.8h-6.62zM381.88 490.86h6.62v1.8h-6.62zM401.6 494.37h6.62v1.8h-6.62zM302.98 496.12h6.62v1.8h-6.62zM335.85 496.12h6.62v1.8h-6.62zM375.3 497.87h6.62v1.8h-6.62zM322.7 501.38h6.62v1.8h-6.62zM342.43 501.38h6.62v1.8h-6.62zM375.3 501.38h6.62v1.8h-6.62zM395.02 501.38h6.62v1.8h-6.62zM322.7 503.13h6.62v1.8h-6.62zM283.25 504.88h6.62v1.8h-6.62zM302.98 504.88h6.62v1.8h-6.62zM467.35 504.88h6.62v1.8h-6.62zM473.93 504.88h6.62v1.8h-6.62zM302.98 506.63h6.62v1.8h-6.62zM329.28 506.63h6.62v1.8h-6.62zM434.48 506.63h6.62v1.8h-6.62zM316.12 508.38h6.62v1.8h-6.62zM349 508.38h6.62v1.8h-6.62zM381.88 508.38h6.62v1.8h-6.62zM302.98 511.89h6.62v1.8h-6.62zM355.58 511.89h6.62v1.8h-6.62zM421.33 511.89h6.62v1.8h-6.62zM441.05 511.89h6.62v1.8h-6.62zM289.83 517.14h6.62v1.8h-6.62zM355.58 518.9h6.62v1.8h-6.62zM441.05 518.9h6.62v1.8h-6.62z"/>
<path fill="#ff9595" d="M283.25 172h6.62v1.8h-6.62zM283.25 184.26h6.62v1.8h-6.62zM362.15 187.77h6.62v1.8h-6.62zM329.28 189.52h6.62v1.8h-6.62zM355.58 191.27h6.62v1.8h-6.62zM362.15 191.27h6.62v1.8h-6.62zM375.3 193.02h6.62v1.8h-6.62zM401.6 193.02h6.62v1.8h-6.62zM395.02 194.78h6.62v1.8h-6.62zM395.02 198.28h6.62v1.8h-6.62zM375.3 203.54h6.62v1.8h-6.62zM473.93 203.54h6.62v1.8h-6.62zM395.02 205.29h6.62v1.8h-6.62zM270.1 207.04h6.62v1.8h-6.62zM342.43 207.04h6.62v1.8h-6.62zM375.3 207.04h6.62v1.8h-6.62zM401.6 207.04h6.62v1.8h-6.62zM381.88 208.79h6.62v1.8h-6.62zM309.55 210.54h6.62v1.8h-6.62zM342.43 210.54h6.62v1.8h-6.62zM349 210.54h6.62v1.8h-6.62zM368.73 210.54h6.62v1.8h-6.62zM322.7 215.8h6.62v1.8h-6.62zM349 215.8h6.62v1.8h-6.62zM309.55 217.55h6.62v1.8h-6.62zM309.55 219.3h6.62v1.8h-6.62zM349 222.81h6.62v1.8h-6.62zM375.3 222.81h6.62v1.8h-6.62zM388.45 222.81h6.62v1.8h-6.62zM342.43 224.56h6.62v1.8h-6.62zM395.02 224.56h6.62v1.8h-6.62zM309.55 228.06h6.62v1.8h-6.62zM349 228.06h6.62v1.8h-6.62zM283.25 229.82h6.62v1.8h-6.62zM349 229.82h6.62v1.8h-6.62zM368.73 229.82h6.62v1.8h-6.62zM368.73 231.57h6.62v1.8h-6.62zM388.45 231.57h6.62v1.8h-6.62zM454.2 235.07h6.62v1.8h-6.62zM362.15 236.82h6.62v1.8h-6.62zM395.02 236.82h6.62v1.8h-6.62zM401.6 236.82h6.62v1.8h-6.62zM375.3 240.33h6.62v1.8h-6.62zM276.68 242.08h6.62v1.8h-6.62zM322.7 242.08h6.62v1.8h-6.62zM388.45 242.08h6.62v1.8h-6.62zM329.28 243.83h6.62v1.8h-6.62zM401.6 243.83h6.62v1.8h-6.62zM302.98 245.58h6.62v1.8h-6.62zM401.6 245.58h6.62v1.8h-6.62zM302.98 247.34h6.62v1.8h-6.62zM349 247.34h6.62v1.8h-6.62zM355.58 256.1h6.62v1.8h-6.62zM349 257.85h6.62v1.8h-6.62zM355.58 257.85h6.62v1.8h-6.62zM309.55 259.6h6.62v1.8h-6.62zM335.85 259.6h6.62v1.8h-6.62zM349 259.6h6.62v1.8h-6.62zM401.6 259.6h6.62v1.8h-6.62zM296.4 263.1h6.62v1.8h-6.62zM309.55 263.1h6.62v1.8h-6.62zM335.85 263.1h6.62v1.8h-6.62zM388.45 263.1h6.62v1.8h-6.62zM296.4 266.61h6.62v1.8h-6.62zM349 266.61h6.62v1.8h-6.62zM335.85 268.36h6.62v1.8h-6.62zM283.25 270.11h6.62v1.8h-6.62zM401.6 270.11h6.62v1.8h-6.62zM335.85 273.62h6.62v1.8h-6.62zM283.25 275.37h6.62v1.8h-6.62zM349 277.12h6.62v1.8h-6.62zM401.6 277.12h6.62v1.8h-6.62zM355.58 278.87h6.62v1.8h-6.62zM329.28 280.62h6.62v1.8h-6.62zM349 282.38h6.62v1.8h-6.62zM322.7 284.13h6.62v1.8h-6.62zM381.88 284.13h6.62v1.8h-6.62zM322.7 285.88h6.62v1.8h-6.62zM335.85 285.88h6.62v1.8h-6.62zM388.45 285.88h6.62v1.8h-6.62zM381.88 287.63h6.62v1.8h-6.62zM427.9 287.63h6.62v1.8h-6.62zM349 289.38h6.62v1.8h-6.62zM276.68 292.89h6.62v1.8h-6.62zM329.28 292.89h6.62v1.8h-6.62zM342.43 292.89h6.62v1.8h-6.62zM283.25 298.14h6.62v1.8h-6.62zM335.85 298.14h6.62v1.8h-6.62zM270.1 301.65h6.62v1.8h-6.62zM322.7 305.15h6.62v1.8h-6.62zM335.85 305.15h6.62v1.8h-6.62zM322.7 308.66h6.62v1.8h-6.62zM329.28 308.66h6.62v1.8h-6.62zM388.45 310.41h6.62v1.8h-6.62zM368.73 313.91h6.62v1.8h-6.62zM270.1 317.42h6.62v1.8h-6.62zM368.73 319.17h6.62v1.8h-6.62zM335.85 326.18h6.62v1.8h-6.62zM289.83 327.93h6.62v1.8h-6.62zM296.4 327.93h6.62v1.8h-6.62zM289.83 329.68h6.62v1.8h-6.62zM302.98 334.94h6.62v1.8h-6.62zM349 340.19h6.62v1.8h-6.62zM322.7 343.7h6.62v1.8h-6.62zM368.73 343.7h6.62v1.8h-6.62zM270.1 345.45h6.62v1.8h-6.62zM316.12 345.45h6.62v1.8h-6.62zM381.88 345.45h6.62v1.8h-6.62zM322.7 347.2h6.62v1.8h-6.62zM342.43 347.2h6.62v1.8h-6.62zM362.15 347.2h6.62v1.8h-6.62zM322.7 348.95h6.62v1.8h-6.62zM388.45 348.95h6.62v1.8h-6.62zM296.4 350.7h6.62v1.8h-6.62zM401.6 350.7h6.62v1.8h-6.62zM355.58 352.46h6.62v1.8h-6.62zM388.45 352.46h6.62v1.8h-6.62zM342.43 355.96h6.62v1.8h-6.62zM395.02 357.71h6.62v1.8h-6.62zM388.45 359.46h6.62v1.8h-6.62zM381.88 361.22h6.62v1.8h-6.62zM381.88 362.97h6.62v1.8h-6.62zM283.25 364.72h6.62v1.8h-6.62zM316.12 364.72h6.62v1.8h-6.62zM329.28 364.72h6.62v1.8h-6.62zM362.15 364.72h6.62v1.8h-6.62zM401.6 364.72h6.62v1.8h-6.62zM283.25 369.98h6.62v1.8h-6.62zM316.12 371.73h6.62v1.8h-6.62zM375.3 371.73h6.62v1.8h-6.62zM362.15 373.48h6.62v1.8h-6.62zM381.88 373.48h6.62v1.8h-6.62zM302.98 376.98h6.62v1.8h-6.62zM289.83 378.74h6.62v1.8h-6.62zM289.83 380.49h6.62v1.8h-6.62zM349 380.49h6.62v1.8h-6.62zM335.85 387.5h6.62v1.8h-6.62zM296.4 391h6.62v1.8h-6.62zM316.12 391h6.62v1.8h-6.62zM329.28 392.75h6.62v1.8h-6.62zM349 392.75h6.62v1.8h-6.62zM349 396.26h6.62v1.8h-6.62zM329.28 398.01h6.62v1.8h-6.62zM335.85 398.01h6.62v1.8h-6.62zM349 399.76h6.62v1.8h-6.62zM349 401.51h6.62v1.8h-6.62zM276.68 403.26h6.62v1.8h-6.62zM322.7 403.26h6.62v1.8h-6.62zM276.68 406.77h6.62v1.8h-6.62zM296.4 406.77h6.62v1.8h-6.62zM329.28 406.77h6.62v1.8h-6.62zM342.43 406.77h6.62v1.8h-6.62zM329.28 410.27h6.62v1.8h-6.62zM342.43 410.27h6.62v1.8h-6.62zM270.1 413.78h6.62v1.8h-6.62zM309.55 413.78h6.62v1.8h-6.62zM329.28 413.78h6.62v1.8h-6.62zM289.83 417.28h6.62v1.8h-6.62zM322.7 417.28h6.62v1.8h-6.62zM283.25 420.78h6.62v1.8h-6.62zM316.12 420.78h6.62v1.8h-6.62zM329.28 420.78h6.62v1.8h-6.62zM362.15 420.78h6.62v1.8h-6.62zM401.6 422.54h6.62v1.8h-6.62zM289.83 424.29h6.62v1.8h-6.62zM296.4 424.29h6.62v1.8h-6.62zM329.28 424.29h6.62v1.8h-6.62zM283.25 427.79h6.62v1.8h-6.62zM329.28 427.79h6.62v1.8h-6.62zM283.25 429.54h6.62v1.8h-6.62zM342.43 429.54h6.62v1.8h-6.62zM401.6 429.54h6.62v1.8h-6.62zM270.1 431.3h6.62v1.8h-6.62zM283.25 431.3h6.62v1.8h-6.62zM454.2 431.3h6.62v1.8h-6.62zM283.25 433.05h6.62v1.8h-6.62zM322.7 433.05h6.62v1.8h-6.62zM401.6 433.05h6.62v1.8h-6.62zM395.02 440.06h6.62v1.8h-6.62zM349 443.56h6.62v1.8h-6.62zM401.6 445.31h6.62v1.8h-6.62zM322.7 447.06h6.62v1.8h-6.62zM342.43 447.06h6.62v1.8h-6.62zM381.88 448.82h6.62v1.8h-6.62zM349 450.57h6.62v1.8h-6.62zM401.6 450.57h6.62v1.8h-6.62zM395.02 455.82h6.62v1.8h-6.62zM401.6 455.82h6.62v1.8h-6.62zM276.68 459.33h6.62v1.8h-6.62zM296.4 461.08h6.62v1.8h-6.62zM283.25 462.83h6.62v1.8h-6.62zM316.12 462.83h6.62v1.8h-6.62zM335.85 464.58h6.62v1.8h-6.62zM375.3 466.34h6.62v1.8h-6.62zM395.02 466.34h6.62v1.8h-6.62zM302.98 469.84h6.62v1.8h-6.62zM316.12 469.84h6.62v1.8h-6.62zM349 469.84h6.62v1.8h-6.62zM368.73 469.84h6.62v1.8h-6.62zM395.02 469.84h6.62v1.8h-6.62zM296.4 473.34h6.62v1.8h-6.62zM316.12 473.34h6.62v1.8h-6.62zM283.25 475.1h6.62v1.8h-6.62zM355.58 475.1h6.62v1.8h-6.62zM302.98 478.6h6.62v1.8h-6.62zM342.43 478.6h6.62v1.8h-6.62zM368.73 478.6h6.62v1.8h-6.62zM375.3 478.6h6.62v1.8h-6.62zM309.55 482.1h6.62v1.8h-6.62zM381.88 482.1h6.62v1.8h-6.62zM388.45 482.1h6.62v1.8h-6.62zM401.6 482.1h6.62v1.8h-6.62zM381.88 483.86h6.62v1.8h-6.62zM388.45 487.36h6.62v1.8h-6.62zM342.43 489.11h6.62v1.8h-6.62zM289.83 490.86h6.62v1.8h-6.62zM302.98 490.86h6.62v1.8h-6.62zM322.7 490.86h6.62v1.8h-6.62zM395.02 490.86h6.62v1.8h-6.62zM362.15 496.12h6.62v1.8h-6.62zM375.3 496.12h6.62v1.8h-6.62zM342.43 497.87h6.62v1.8h-6.62zM283.25 501.38h6.62v1.8h-6.62zM329.28 501.38h6.62v1.8h-6.62zM375.3 503.13h6.62v1.8h-6.62zM329.28 504.88h6.62v1.8h-6.62zM414.75 504.88h6.62v1.8h-6.62zM421.33 504.88h6.62v1.8h-6.62zM434.48 504.88h6.62v1.8h-6.62zM460.77 504.88h6.62v1.8h-6.62zM322.7 506.63h6.62v1.8h-6.62zM414.75 506.63h6.62v1.8h-6.62zM276.68 508.38h6.62v1.8h-6.62zM296.4 508.38h6.62v1.8h-6.62zM302.98 508.38h6.62v1.8h-6.62zM329.28 508.38h6.62v1.8h-6.62zM355.58 508.38h6.62v1.8h-6.62zM362.15 508.38h6.62v1.8h-6.62zM375.3 508.38h6.62v1.8h-6.62zM447.62 508.38h6.62v1.8h-6.62zM329.28 510.14h6.62v1.8h-6.62zM408.18 510.14h6.62v1.8h-6.62zM322.7 511.89h6.62v1.8h-6.62zM473.93 511.89h6.62v1.8h-6.62zM368.73 513.64h6.62v1.8h-6.62zM441.05 515.39h6.62v1.8h-6.62zM454.2 515.39h6.62v1.8h-6.62zM408.18 518.9h6.62v1.8h-6.62zM454.2 518.9h6.62v1.8h-6.62z"/>
<path fill="#ff8080" d="M296.4 173.75h6.62v1.8h-6.62zM309.55 173.75h6.62v1.8h-6.62zM329.28 173.75h6.62v1.8h-6.62zM329.28 175.5h6.62v1.8h-6.62zM296.4 177.26h6.62v1.8h-6.62zM329.28 179.01h6.62v1.8h-6.62zM276.68 180.76h6.62v1.8h-6.62zM316.12 182.51h6.62v1.8h-6.62zM335.85 184.26h6.62v1.8h-6.62zM362.15 184.26h6.62v1.8h-6.62zM362.15 189.52h6.62v1.8h-6.62zM395.02 193.02h6.62v1.8h-6.62zM276.68 200.03h6.62v1.8h-6.62zM302.98 201.78h6.62v1.8h-6.62zM316.12 201.78h6.62v1.8h-6.62zM381.88 210.54h6.62v1.8h-6.62zM289.83 212.3h6.62v1.8h-6.62zM302.98 215.8h6.62v1.8h-6.62zM309.55 215.8h6.62v1.8h-6.62zM388.45 215.8h6.62v1.8h-6.62zM322.7 219.3h6.62v1.8h-6.62zM329.28 219.3h6.62v1.8h-6.62zM388.45 221.06h6.62v1.8h-6.62zM395.02 221.06h6.62v1.8h-6.62zM302.98 222.81h6.62v1.8h-6.62zM454.2 224.56h6.62v1.8h-6.62zM283.25 231.57h6.62v1.8h-6.62zM388.45 233.32h6.62v1.8h-6.62zM388.45 235.07h6.62v1.8h-6.62zM322.7 236.82h6.62v1.8h-6.62zM329.28 236.82h6.62v1.8h-6.62zM335.85 236.82h6.62v1.8h-6.62zM342.43 236.82h6.62v1.8h-6.62zM454.2 240.33h6.62v1.8h-6.62zM349 242.08h6.62v1.8h-6.62zM395.02 245.58h6.62v1.8h-6.62zM329.28 247.34h6.62v1.8h-6.62zM283.25 250.84h6.62v1.8h-6.62zM309.55 256.1h6.62v1.8h-6.62zM349 263.1h6.62v1.8h-6.62zM355.58 263.1h6.62v1.8h-6.62zM309.55 264.86h6.62v1.8h-6.62zM309.55 266.61h6.62v1.8h-6.62zM368.73 266.61h6.62v1.8h-6.62zM375.3 266.61h6.62v1.8h-6.62zM388.45 266.61h6.62v1.8h-6.62zM283.25 268.36h6.62v1.8h-6.62zM296.4 268.36h6.62v1.8h-6.62zM355.58 268.36h6.62v1.8h-6.62zM375.3 268.36h6.62v1.8h-6.62zM375.3 270.11h6.62v1.8h-6.62zM283.25 273.62h6.62v1.8h-6.62zM309.55 273.62h6.62v1.8h-6.62zM329.28 273.62h6.62v1.8h-6.62zM335.85 278.87h6.62v1.8h-6.62zM381.88 280.62h6.62v1.8h-6.62zM283.25 282.38h6.62v1.8h-6.62zM316.12 284.13h6.62v1.8h-6.62zM342.43 284.13h6.62v1.8h-6.62zM283.25 287.63h6.62v1.8h-6.62zM335.85 287.63h6.62v1.8h-6.62zM270.1 289.38h6.62v1.8h-6.62zM381.88 289.38h6.62v1.8h-6.62zM388.45 291.14h6.62v1.8h-6.62zM316.12 296.39h6.62v1.8h-6.62zM289.83 298.14h6.62v1.8h-6.62zM302.98 301.65h6.62v1.8h-6.62zM355.58 303.4h6.62v1.8h-6.62zM388.45 303.4h6.62v1.8h-6.62zM355.58 306.9h6.62v1.8h-6.62zM329.28 312.16h6.62v1.8h-6.62zM388.45 312.16h6.62v1.8h-6.62zM289.83 317.42h6.62v1.8h-6.62zM289.83 324.42h6.62v1.8h-6.62zM296.4 324.42h6.62v1.8h-6.62zM322.7 324.42h6.62v1.8h-6.62zM349 324.42h6.62v1.8h-6.62zM289.83 326.18h6.62v1.8h-6.62zM296.4 326.18h6.62v1.8h-6.62zM322.7 326.18h6.62v1.8h-6.62zM322.7 327.93h6.62v1.8h-6.62zM316.12 329.68h6.62v1.8h-6.62zM283.25 331.43h6.62v1.8h-6.62zM283.25 334.94h6.62v1.8h-6.62zM316.12 334.94h6.62v1.8h-6.62zM302.98 336.69h6.62v1.8h-6.62zM289.83 338.44h6.62v1.8h-6.62zM342.43 340.19h6.62v1.8h-6.62zM322.7 341.94h6.62v1.8h-6.62zM368.73 341.94h6.62v1.8h-6.62zM289.83 343.7h6.62v1.8h-6.62zM289.83 347.2h6.62v1.8h-6.62zM335.85 348.95h6.62v1.8h-6.62zM316.12 350.7h6.62v1.8h-6.62zM322.7 350.7h6.62v1.8h-6.62zM329.28 350.7h6.62v1.8h-6.62zM401.6 352.46h6.62v1.8h-6.62zM335.85 354.21h6.62v1.8h-6.62zM362.15 354.21h6.62v1.8h-6.62zM289.83 355.96h6.62v1.8h-6.62zM283.25 357.71h6.62v1.8h-6.62zM388.45 357.71h6.62v1.8h-6.62zM362.15 359.46h6.62v1.8h-6.62zM362.15 361.22h6.62v1.8h-6.62zM388.45 361.22h6.62v1.8h-6.62zM289.83 362.97h6.62v1.8h-6.62zM270.1 364.72h6.62v1.8h-6.62zM276.68 364.72h6.62v1.8h-6.62zM368.73 364.72h6.62v1.8h-6.62zM375.3 366.47h6.62v1.8h-6.62zM395.02 366.47h6.62v1.8h-6.62zM276.68 368.22h6.62v1.8h-6.62zM283.25 368.22h6.62v1.8h-6.62zM316.12 368.22h6.62v1.8h-6.62zM349 369.98h6.62v1.8h-6.62zM283.25 371.73h6.62v1.8h-6.62zM362.15 371.73h6.62v1.8h-6.62zM395.02 371.73h6.62v1.8h-6.62zM329.28 373.48h6.62v1.8h-6.62zM270.1 380.49h6.62v1.8h-6.62zM322.7 383.99h6.62v1.8h-6.62zM329.28 383.99h6.62v1.8h-6.62zM362.15 387.5h6.62v1.8h-6.62zM329.28 389.25h6.62v1.8h-6.62zM368.73 391h6.62v1.8h-6.62zM316.12 394.5h6.62v1.8h-6.62zM355.58 398.01h6.62v1.8h-6.62zM388.45 398.01h6.62v1.8h-6.62zM283.25 399.76h6.62v1.8h-6.62zM335.85 399.76h6.62v1.8h-6.62zM368.73 399.76h6.62v1.8h-6.62zM270.1 401.51h6.62v1.8h-6.62zM289.83 406.77h6.62v1.8h-6.62zM270.1 408.52h6.62v1.8h-6.62zM276.68 408.52h6.62v1.8h-6.62zM283.25 415.53h6.62v1.8h-6.62zM381.88 417.28h6.62v1.8h-6.62zM283.25 419.03h6.62v1.8h-6.62zM296.4 420.78h6.62v1.8h-6.62zM381.88 420.78h6.62v1.8h-6.62zM283.25 422.54h6.62v1.8h-6.62zM335.85 422.54h6.62v1.8h-6.62zM381.88 422.54h6.62v1.8h-6.62zM335.85 424.29h6.62v1.8h-6.62zM309.55 426.04h6.62v1.8h-6.62zM342.43 426.04h6.62v1.8h-6.62zM395.02 426.04h6.62v1.8h-6.62zM270.1 429.54h6.62v1.8h-6.62zM316.12 429.54h6.62v1.8h-6.62zM309.55 431.3h6.62v1.8h-6.62zM375.3 431.3h6.62v1.8h-6.62zM401.6 431.3h6.62v1.8h-6.62zM316.12 433.05h6.62v1.8h-6.62zM276.68 434.8h6.62v1.8h-6.62zM368.73 434.8h6.62v1.8h-6.62zM329.28 436.55h6.62v1.8h-6.62zM349 436.55h6.62v1.8h-6.62zM395.02 436.55h6.62v1.8h-6.62zM349 438.3h6.62v1.8h-6.62zM276.68 440.06h6.62v1.8h-6.62zM283.25 440.06h6.62v1.8h-6.62zM289.83 443.56h6.62v1.8h-6.62zM302.98 443.56h6.62v1.8h-6.62zM335.85 443.56h6.62v1.8h-6.62zM375.3 443.56h6.62v1.8h-6.62zM316.12 447.06h6.62v1.8h-6.62zM276.68 448.82h6.62v1.8h-6.62zM349 452.32h6.62v1.8h-6.62zM375.3 454.07h6.62v1.8h-6.62zM322.7 457.58h6.62v1.8h-6.62zM329.28 459.33h6.62v1.8h-6.62zM335.85 461.08h6.62v1.8h-6.62zM368.73 462.83h6.62v1.8h-6.62zM283.25 464.58h6.62v1.8h-6.62zM401.6 464.58h6.62v1.8h-6.62zM349 466.34h6.62v1.8h-6.62zM368.73 466.34h6.62v1.8h-6.62zM309.55 468.09h6.62v1.8h-6.62zM395.02 468.09h6.62v1.8h-6.62zM381.88 469.84h6.62v1.8h-6.62zM283.25 473.34h6.62v1.8h-6.62zM362.15 473.34h6.62v1.8h-6.62zM388.45 473.34h6.62v1.8h-6.62zM395.02 475.1h6.62v1.8h-6.62zM388.45 476.85h6.62v1.8h-6.62zM349 480.35h6.62v1.8h-6.62zM362.15 482.1h6.62v1.8h-6.62zM368.73 482.1h6.62v1.8h-6.62zM302.98 483.86h6.62v1.8h-6.62zM289.83 485.61h6.62v1.8h-6.62zM302.98 485.61h6.62v1.8h-6.62zM302.98 487.36h6.62v1.8h-6.62zM316.12 487.36h6.62v1.8h-6.62zM395.02 487.36h6.62v1.8h-6.62zM283.25 490.86h6.62v1.8h-6.62zM362.15 490.86h6.62v1.8h-6.62zM349 492.62h6.62v1.8h-6.62zM362.15 494.37h6.62v1.8h-6.62zM342.43 496.12h6.62v1.8h-6.62zM289.83 497.87h6.62v1.8h-6.62zM381.88 497.87h6.62v1.8h-6.62zM283.25 499.62h6.62v1.8h-6.62zM322.7 504.88h6.62v1.8h-6.62zM388.45 506.63h6.62v1.8h-6.62zM421.33 506.63h6.62v1.8h-6.62zM283.25 508.38h6.62v1.8h-6.62zM289.83 508.38h6.62v1.8h-6.62zM322.7 508.38h6.62v1.8h-6.62zM460.77 508.38h6.62v1.8h-6.62zM289.83 510.14h6.62v1.8h-6.62zM421.33 510.14h6.62v1.8h-6.62zM329.28 511.89h6.62v1.8h-6.62zM414.75 511.89h6.62v1.8h-6.62zM296.4 513.64h6.62v1.8h-6.62zM467.35 518.9h6.62v1.8h-6.62zM309.55 520.65h6.62v1.8h-6.62zM434.48 520.65h6.62v1.8h-6.62zM454.2 520.65h6.62v1.8h-6.62z"/>
<path fill="#ff6a6a" d="M329.28 172h6.62v1.8h-6.62zM296.4 175.5h6.62v1.8h-6.62zM309.55 177.26h6.62v1.8h-6.62zM309.55 179.01h6.62v1.8h-6.62zM381.88 180.76h6.62v1.8h-6.62zM276.68 182.51h6.62v1.8h-6.62zM276.68 184.26h6.62v1.8h-6.62zM322.7 187.77h6.62v1.8h-6.62zM276.68 189.52h6.62v1.8h-6.62zM329.28 191.27h6.62v1.8h-6.62zM375.3 191.27h6.62v1.8h-6.62zM362.15 193.02h6.62v1.8h-6.62zM375.3 196.53h6.62v1.8h-6.62zM329.28 201.78h6.62v1.8h-6.62zM329.28 205.29h6.62v1.8h-6.62zM368.73 205.29h6.62v1.8h-6.62zM309.55 212.3h6.62v1.8h-6.62zM322.7 212.3h6.62v1.8h-6.62zM349 212.3h6.62v1.8h-6.62zM342.43 215.8h6.62v1.8h-6.62zM401.6 215.8h6.62v1.8h-6.62zM329.28 217.55h6.62v1.8h-6.62zM395.02 217.55h6.62v1.8h-6.62zM395.02 219.3h6.62v1.8h-6.62zM322.7 221.06h6.62v1.8h-6.62zM368.73 224.56h6.62v1.8h-6.62zM375.3 224.56h6.62v1.8h-6.62zM309.55 226.31h6.62v1.8h-6.62zM296.4 228.06h6.62v1.8h-6.62zM322.7 228.06h6.62v1.8h-6.62zM375.3 233.32h6.62v1.8h-6.62zM296.4 235.07h6.62v1.8h-6.62zM302.98 235.07h6.62v1.8h-6.62zM329.28 235.07h6.62v1.8h-6.62zM388.45 236.82h6.62v1.8h-6.62zM355.58 238.58h6.62v1.8h-6.62zM355.58 240.33h6.62v1.8h-6.62zM276.68 247.34h6.62v1.8h-6.62zM322.7 247.34h6.62v1.8h-6.62zM395.02 249.09h6.62v1.8h-6.62zM401.6 249.09h6.62v1.8h-6.62zM355.58 250.84h6.62v1.8h-6.62zM401.6 250.84h6.62v1.8h-6.62zM355.58 254.34h6.62v1.8h-6.62zM355.58 259.6h6.62v1.8h-6.62zM309.55 261.35h6.62v1.8h-6.62zM355.58 261.35h6.62v1.8h-6.62zM335.85 266.61h6.62v1.8h-6.62zM302.98 268.36h6.62v1.8h-6.62zM349 268.36h6.62v1.8h-6.62zM302.98 270.11h6.62v1.8h-6.62zM329.28 270.11h6.62v1.8h-6.62zM296.4 271.86h6.62v1.8h-6.62zM355.58 273.62h6.62v1.8h-6.62zM296.4 275.37h6.62v1.8h-6.62zM381.88 275.37h6.62v1.8h-6.62zM270.1 277.12h6.62v1.8h-6.62zM381.88 277.12h6.62v1.8h-6.62zM270.1 284.13h6.62v1.8h-6.62zM276.68 284.13h6.62v1.8h-6.62zM329.28 284.13h6.62v1.8h-6.62zM375.3 284.13h6.62v1.8h-6.62zM388.45 284.13h6.62v1.8h-6.62zM276.68 285.88h6.62v1.8h-6.62zM270.1 287.63h6.62v1.8h-6.62zM276.68 287.63h6.62v1.8h-6.62zM283.25 289.38h6.62v1.8h-6.62zM329.28 289.38h6.62v1.8h-6.62zM388.45 289.38h6.62v1.8h-6.62zM270.1 291.14h6.62v1.8h-6.62zM283.25 291.14h6.62v1.8h-6.62zM329.28 298.14h6.62v1.8h-6.62zM362.15 298.14h6.62v1.8h-6.62zM375.3 298.14h6.62v1.8h-6.62zM283.25 301.65h6.62v1.8h-6.62zM270.1 303.4h6.62v1.8h-6.62zM322.7 303.4h6.62v1.8h-6.62zM270.1 305.15h6.62v1.8h-6.62zM316.12 306.9h6.62v1.8h-6.62zM329.28 306.9h6.62v1.8h-6.62zM270.1 308.66h6.62v1.8h-6.62zM388.45 308.66h6.62v1.8h-6.62zM270.1 312.16h6.62v1.8h-6.62zM322.7 312.16h6.62v1.8h-6.62zM270.1 315.66h6.62v1.8h-6.62zM349 315.66h6.62v1.8h-6.62zM322.7 317.42h6.62v1.8h-6.62zM322.7 322.67h6.62v1.8h-6.62zM329.28 322.67h6.62v1.8h-6.62zM283.25 329.68h6.62v1.8h-6.62zM302.98 329.68h6.62v1.8h-6.62zM283.25 333.18h6.62v1.8h-6.62zM349 338.44h6.62v1.8h-6.62zM322.7 340.19h6.62v1.8h-6.62zM349 345.45h6.62v1.8h-6.62zM335.85 347.2h6.62v1.8h-6.62zM349 347.2h6.62v1.8h-6.62zM270.1 348.95h6.62v1.8h-6.62zM270.1 354.21h6.62v1.8h-6.62zM388.45 354.21h6.62v1.8h-6.62zM335.85 357.71h6.62v1.8h-6.62zM342.43 359.46h6.62v1.8h-6.62zM395.02 361.22h6.62v1.8h-6.62zM362.15 362.97h6.62v1.8h-6.62zM335.85 364.72h6.62v1.8h-6.62zM388.45 364.72h6.62v1.8h-6.62zM276.68 366.47h6.62v1.8h-6.62zM388.45 366.47h6.62v1.8h-6.62zM329.28 368.22h6.62v1.8h-6.62zM362.15 369.98h6.62v1.8h-6.62zM296.4 373.48h6.62v1.8h-6.62zM316.12 373.48h6.62v1.8h-6.62zM335.85 373.48h6.62v1.8h-6.62zM368.73 373.48h6.62v1.8h-6.62zM342.43 380.49h6.62v1.8h-6.62zM362.15 383.99h6.62v1.8h-6.62zM381.88 389.25h6.62v1.8h-6.62zM395.02 389.25h6.62v1.8h-6.62zM335.85 391h6.62v1.8h-6.62zM296.4 392.75h6.62v1.8h-6.62zM316.12 398.01h6.62v1.8h-6.62zM368.73 398.01h6.62v1.8h-6.62zM283.25 403.26h6.62v1.8h-6.62zM388.45 403.26h6.62v1.8h-6.62zM270.1 406.77h6.62v1.8h-6.62zM335.85 406.77h6.62v1.8h-6.62zM309.55 412.02h6.62v1.8h-6.62zM283.25 413.78h6.62v1.8h-6.62zM316.12 413.78h6.62v1.8h-6.62zM349 417.28h6.62v1.8h-6.62zM335.85 419.03h6.62v1.8h-6.62zM335.85 420.78h6.62v1.8h-6.62zM342.43 422.54h6.62v1.8h-6.62zM283.25 426.04h6.62v1.8h-6.62zM316.12 426.04h6.62v1.8h-6.62zM289.83 429.54h6.62v1.8h-6.62zM289.83 431.3h6.62v1.8h-6.62zM395.02 431.3h6.62v1.8h-6.62zM309.55 433.05h6.62v1.8h-6.62zM342.43 434.8h6.62v1.8h-6.62zM375.3 434.8h6.62v1.8h-6.62zM401.6 436.55h6.62v1.8h-6.62zM368.73 440.06h6.62v1.8h-6.62zM388.45 443.56h6.62v1.8h-6.62zM395.02 443.56h6.62v1.8h-6.62zM289.83 447.06h6.62v1.8h-6.62zM368.73 447.06h6.62v1.8h-6.62zM388.45 447.06h6.62v1.8h-6.62zM388.45 448.82h6.62v1.8h-6.62zM395.02 448.82h6.62v1.8h-6.62zM388.45 452.32h6.62v1.8h-6.62zM401.6 452.32h6.62v1.8h-6.62zM329.28 455.82h6.62v1.8h-6.62zM381.88 457.58h6.62v1.8h-6.62zM342.43 461.08h6.62v1.8h-6.62zM276.68 462.83h6.62v1.8h-6.62zM375.3 462.83h6.62v1.8h-6.62zM349 464.58h6.62v1.8h-6.62zM316.12 466.34h6.62v1.8h-6.62zM375.3 468.09h6.62v1.8h-6.62zM362.15 469.84h6.62v1.8h-6.62zM349 473.34h6.62v1.8h-6.62zM368.73 473.34h6.62v1.8h-6.62zM362.15 475.1h6.62v1.8h-6.62zM368.73 475.1h6.62v1.8h-6.62zM342.43 483.86h6.62v1.8h-6.62zM388.45 483.86h6.62v1.8h-6.62zM283.25 485.61h6.62v1.8h-6.62zM289.83 487.36h6.62v1.8h-6.62zM342.43 487.36h6.62v1.8h-6.62zM381.88 487.36h6.62v1.8h-6.62zM395.02 489.11h6.62v1.8h-6.62zM329.28 492.62h6.62v1.8h-6.62zM335.85 494.37h6.62v1.8h-6.62zM342.43 494.37h6.62v1.8h-6.62zM395.02 494.37h6.62v1.8h-6.62zM289.83 496.12h6.62v1.8h-6.62zM401.6 496.12h6.62v1.8h-6.62zM381.88 499.62h6.62v1.8h-6.62zM441.05 504.88h6.62v1.8h-6.62zM289.83 506.63h6.62v1.8h-6.62zM342.43 508.38h6.62v1.8h-6.62zM368.73 508.38h6.62v1.8h-6.62zM283.25 511.89h6.62v1.8h-6.62zM460.77 511.89h6.62v1.8h-6.62zM296.4 515.39h6.62v1.8h-6.62zM434.48 515.39h6.62v1.8h-6.62zM296.4 517.14h6.62v1.8h-6.62z"/>
<path fill="#ff5555" d="M329.28 182.51h6.62v1.8h-6.62zM329.28 184.26h6.62v1.8h-6.62zM401.6 189.52h6.62v1.8h-6.62zM362.15 194.78h6.62v1.8h-6.62zM375.3 200.03h6.62v1.8h-6.62zM302.98 203.54h6.62v1.8h-6.62zM362.15 210.54h6.62v1.8h-6.62zM388.45 212.3h6.62v1.8h-6.62zM322.7 214.05h6.62v1.8h-6.62zM362.15 214.05h6.62v1.8h-6.62zM368.73 214.05h6.62v1.8h-6.62zM375.3 215.8h6.62v1.8h-6.62zM316.12 219.3h6.62v1.8h-6.62zM309.55 229.82h6.62v1.8h-6.62zM296.4 231.57h6.62v1.8h-6.62zM322.7 231.57h6.62v1.8h-6.62zM289.83 235.07h6.62v1.8h-6.62zM322.7 235.07h6.62v1.8h-6.62zM355.58 235.07h6.62v1.8h-6.62zM302.98 236.82h6.62v1.8h-6.62zM355.58 236.82h6.62v1.8h-6.62zM401.6 238.58h6.62v1.8h-6.62zM375.3 243.83h6.62v1.8h-6.62zM329.28 245.58h6.62v1.8h-6.62zM342.43 245.58h6.62v1.8h-6.62zM349 245.58h6.62v1.8h-6.62zM388.45 249.09h6.62v1.8h-6.62zM309.55 252.59h6.62v1.8h-6.62zM381.88 254.34h6.62v1.8h-6.62zM335.85 261.35h6.62v1.8h-6.62zM349 261.35h6.62v1.8h-6.62zM401.6 261.35h6.62v1.8h-6.62zM316.12 268.36h6.62v1.8h-6.62zM309.55 270.11h6.62v1.8h-6.62zM349 270.11h6.62v1.8h-6.62zM401.6 271.86h6.62v1.8h-6.62zM349 273.62h6.62v1.8h-6.62zM368.73 273.62h6.62v1.8h-6.62zM283.25 277.12h6.62v1.8h-6.62zM335.85 277.12h6.62v1.8h-6.62zM375.3 278.87h6.62v1.8h-6.62zM283.25 280.62h6.62v1.8h-6.62zM270.1 282.38h6.62v1.8h-6.62zM335.85 292.89h6.62v1.8h-6.62zM362.15 294.64h6.62v1.8h-6.62zM270.1 298.14h6.62v1.8h-6.62zM316.12 298.14h6.62v1.8h-6.62zM283.25 299.9h6.62v1.8h-6.62zM289.83 299.9h6.62v1.8h-6.62zM335.85 301.65h6.62v1.8h-6.62zM388.45 301.65h6.62v1.8h-6.62zM335.85 303.4h6.62v1.8h-6.62zM322.7 306.9h6.62v1.8h-6.62zM316.12 308.66h6.62v1.8h-6.62zM355.58 317.42h6.62v1.8h-6.62zM289.83 320.92h6.62v1.8h-6.62zM322.7 320.92h6.62v1.8h-6.62zM349 320.92h6.62v1.8h-6.62zM395.02 324.42h6.62v1.8h-6.62zM270.1 326.18h6.62v1.8h-6.62zM329.28 326.18h6.62v1.8h-6.62zM349 326.18h6.62v1.8h-6.62zM329.28 327.93h6.62v1.8h-6.62zM388.45 327.93h6.62v1.8h-6.62zM362.15 329.68h6.62v1.8h-6.62zM388.45 333.18h6.62v1.8h-6.62zM368.73 340.19h6.62v1.8h-6.62zM270.1 347.2h6.62v1.8h-6.62zM381.88 350.7h6.62v1.8h-6.62zM289.83 352.46h6.62v1.8h-6.62zM302.98 352.46h6.62v1.8h-6.62zM316.12 352.46h6.62v1.8h-6.62zM335.85 352.46h6.62v1.8h-6.62zM342.43 352.46h6.62v1.8h-6.62zM289.83 354.21h6.62v1.8h-6.62zM270.1 355.96h6.62v1.8h-6.62zM349 355.96h6.62v1.8h-6.62zM395.02 355.96h6.62v1.8h-6.62zM349 357.71h6.62v1.8h-6.62zM289.83 359.46h6.62v1.8h-6.62zM289.83 361.22h6.62v1.8h-6.62zM349 364.72h6.62v1.8h-6.62zM381.88 364.72h6.62v1.8h-6.62zM335.85 366.47h6.62v1.8h-6.62zM349 366.47h6.62v1.8h-6.62zM335.85 368.22h6.62v1.8h-6.62zM381.88 378.74h6.62v1.8h-6.62zM302.98 380.49h6.62v1.8h-6.62zM381.88 380.49h6.62v1.8h-6.62zM381.88 382.24h6.62v1.8h-6.62zM395.02 383.99h6.62v1.8h-6.62zM322.7 389.25h6.62v1.8h-6.62zM329.28 394.5h6.62v1.8h-6.62zM316.12 403.26h6.62v1.8h-6.62zM349 410.27h6.62v1.8h-6.62zM342.43 419.03h6.62v1.8h-6.62zM362.15 419.03h6.62v1.8h-6.62zM270.1 422.54h6.62v1.8h-6.62zM316.12 422.54h6.62v1.8h-6.62zM322.7 422.54h6.62v1.8h-6.62zM329.28 422.54h6.62v1.8h-6.62zM362.15 422.54h6.62v1.8h-6.62zM362.15 424.29h6.62v1.8h-6.62zM276.68 431.3h6.62v1.8h-6.62zM342.43 431.3h6.62v1.8h-6.62zM302.98 433.05h6.62v1.8h-6.62zM375.3 433.05h6.62v1.8h-6.62zM322.7 434.8h6.62v1.8h-6.62zM375.3 436.55h6.62v1.8h-6.62zM329.28 440.06h6.62v1.8h-6.62zM316.12 443.56h6.62v1.8h-6.62zM289.83 445.31h6.62v1.8h-6.62zM329.28 445.31h6.62v1.8h-6.62zM375.3 445.31h6.62v1.8h-6.62zM283.25 447.06h6.62v1.8h-6.62zM375.3 447.06h6.62v1.8h-6.62zM270.1 448.82h6.62v1.8h-6.62zM342.43 448.82h6.62v1.8h-6.62zM349 448.82h6.62v1.8h-6.62zM329.28 450.57h6.62v1.8h-6.62zM335.85 452.32h6.62v1.8h-6.62zM381.88 452.32h6.62v1.8h-6.62zM388.45 455.82h6.62v1.8h-6.62zM270.1 457.58h6.62v1.8h-6.62zM283.25 457.58h6.62v1.8h-6.62zM296.4 457.58h6.62v1.8h-6.62zM368.73 457.58h6.62v1.8h-6.62zM395.02 457.58h6.62v1.8h-6.62zM283.25 459.33h6.62v1.8h-6.62zM388.45 459.33h6.62v1.8h-6.62zM322.7 461.08h6.62v1.8h-6.62zM349 462.83h6.62v1.8h-6.62zM368.73 464.58h6.62v1.8h-6.62zM395.02 464.58h6.62v1.8h-6.62zM401.6 466.34h6.62v1.8h-6.62zM276.68 468.09h6.62v1.8h-6.62zM316.12 468.09h6.62v1.8h-6.62zM322.7 468.09h6.62v1.8h-6.62zM283.25 469.84h6.62v1.8h-6.62zM296.4 469.84h6.62v1.8h-6.62zM368.73 471.59h6.62v1.8h-6.62zM388.45 471.59h6.62v1.8h-6.62zM381.88 473.34h6.62v1.8h-6.62zM296.4 475.1h6.62v1.8h-6.62zM316.12 475.1h6.62v1.8h-6.62zM381.88 475.1h6.62v1.8h-6.62zM283.25 478.6h6.62v1.8h-6.62zM289.83 478.6h6.62v1.8h-6.62zM381.88 478.6h6.62v1.8h-6.62zM395.02 478.6h6.62v1.8h-6.62zM283.25 480.35h6.62v1.8h-6.62zM395.02 480.35h6.62v1.8h-6.62zM283.25 482.1h6.62v1.8h-6.62zM335.85 482.1h6.62v1.8h-6.62zM283.25 487.36h6.62v1.8h-6.62zM368.73 487.36h6.62v1.8h-6.62zM283.25 489.11h6.62v1.8h-6.62zM368.73 489.11h6.62v1.8h-6.62zM296.4 494.37h6.62v1.8h-6.62zM388.45 494.37h6.62v1.8h-6.62zM381.88 496.12h6.62v1.8h-6.62zM388.45 497.87h6.62v1.8h-6.62zM401.6 497.87h6.62v1.8h-6.62zM329.28 499.62h6.62v1.8h-6.62zM368.73 499.62h6.62v1.8h-6.62zM447.62 504.88h6.62v1.8h-6.62zM283.25 506.63h6.62v1.8h-6.62zM473.93 506.63h6.62v1.8h-6.62zM388.45 508.38h6.62v1.8h-6.62zM421.33 508.38h6.62v1.8h-6.62zM434.48 511.89h6.62v1.8h-6.62zM289.83 513.64h6.62v1.8h-6.62zM454.2 517.14h6.62v1.8h-6.62zM434.48 518.9h6.62v1.8h-6.62z"/>
<path fill="#ff4040" d="M388.45 179.01h6.62v1.8h-6.62zM335.85 186.02h6.62v1.8h-6.62zM388.45 186.02h6.62v1.8h-6.62zM335.85 187.77h6.62v1.8h-6.62zM276.68 193.02h6.62v1.8h-6.62zM276.68 194.78h6.62v1.8h-6.62zM329.28 196.53h6.62v1.8h-6.62zM316.12 198.28h6.62v1.8h-6.62zM368.73 201.78h6.62v1.8h-6.62zM302.98 205.29h6.62v1.8h-6.62zM375.3 205.29h6.62v1.8h-6.62zM329.28 207.04h6.62v1.8h-6.62zM381.88 207.04h6.62v1.8h-6.62zM388.45 207.04h6.62v1.8h-6.62zM381.88 214.05h6.62v1.8h-6.62zM283.25 215.8h6.62v1.8h-6.62zM362.15 215.8h6.62v1.8h-6.62zM395.02 215.8h6.62v1.8h-6.62zM296.4 224.56h6.62v1.8h-6.62zM309.55 224.56h6.62v1.8h-6.62zM349 226.31h6.62v1.8h-6.62zM296.4 229.82h6.62v1.8h-6.62zM296.4 233.32h6.62v1.8h-6.62zM362.15 235.07h6.62v1.8h-6.62zM395.02 247.34h6.62v1.8h-6.62zM375.3 249.09h6.62v1.8h-6.62zM381.88 249.09h6.62v1.8h-6.62zM316.12 250.84h6.62v1.8h-6.62zM309.55 257.85h6.62v1.8h-6.62zM296.4 259.6h6.62v1.8h-6.62zM375.3 261.35h6.62v1.8h-6.62zM316.12 270.11h6.62v1.8h-6.62zM302.98 271.86h6.62v1.8h-6.62zM349 271.86h6.62v1.8h-6.62zM375.3 273.62h6.62v1.8h-6.62zM302.98 280.62h6.62v1.8h-6.62zM335.85 280.62h6.62v1.8h-6.62zM375.3 280.62h6.62v1.8h-6.62zM283.25 284.13h6.62v1.8h-6.62zM355.58 284.13h6.62v1.8h-6.62zM335.85 291.14h6.62v1.8h-6.62zM342.43 291.14h6.62v1.8h-6.62zM368.73 294.64h6.62v1.8h-6.62zM375.3 294.64h6.62v1.8h-6.62zM349 296.39h6.62v1.8h-6.62zM375.3 301.65h6.62v1.8h-6.62zM270.1 310.41h6.62v1.8h-6.62zM270.1 313.91h6.62v1.8h-6.62zM270.1 319.17h6.62v1.8h-6.62zM335.85 319.17h6.62v1.8h-6.62zM270.1 327.93h6.62v1.8h-6.62zM395.02 336.69h6.62v1.8h-6.62zM289.83 345.45h6.62v1.8h-6.62zM270.1 350.7h6.62v1.8h-6.62zM302.98 350.7h6.62v1.8h-6.62zM342.43 350.7h6.62v1.8h-6.62zM329.28 352.46h6.62v1.8h-6.62zM349 352.46h6.62v1.8h-6.62zM388.45 355.96h6.62v1.8h-6.62zM270.1 359.46h6.62v1.8h-6.62zM349 359.46h6.62v1.8h-6.62zM270.1 361.22h6.62v1.8h-6.62zM349 361.22h6.62v1.8h-6.62zM289.83 364.72h6.62v1.8h-6.62zM375.3 364.72h6.62v1.8h-6.62zM368.73 368.22h6.62v1.8h-6.62zM375.3 368.22h6.62v1.8h-6.62zM375.3 369.98h6.62v1.8h-6.62zM349 378.74h6.62v1.8h-6.62zM362.15 378.74h6.62v1.8h-6.62zM296.4 380.49h6.62v1.8h-6.62zM401.6 380.49h6.62v1.8h-6.62zM349 382.24h6.62v1.8h-6.62zM322.7 385.74h6.62v1.8h-6.62zM381.88 387.5h6.62v1.8h-6.62zM362.15 389.25h6.62v1.8h-6.62zM296.4 394.5h6.62v1.8h-6.62zM302.98 394.5h6.62v1.8h-6.62zM322.7 398.01h6.62v1.8h-6.62zM289.83 403.26h6.62v1.8h-6.62zM335.85 403.26h6.62v1.8h-6.62zM368.73 405.02h6.62v1.8h-6.62zM276.68 413.78h6.62v1.8h-6.62zM335.85 427.79h6.62v1.8h-6.62zM335.85 431.3h6.62v1.8h-6.62zM270.1 433.05h6.62v1.8h-6.62zM342.43 433.05h6.62v1.8h-6.62zM401.6 434.8h6.62v1.8h-6.62zM276.68 438.3h6.62v1.8h-6.62zM349 440.06h6.62v1.8h-6.62zM283.25 443.56h6.62v1.8h-6.62zM316.12 448.82h6.62v1.8h-6.62zM368.73 448.82h6.62v1.8h-6.62zM401.6 448.82h6.62v1.8h-6.62zM270.1 452.32h6.62v1.8h-6.62zM401.6 457.58h6.62v1.8h-6.62zM401.6 462.83h6.62v1.8h-6.62zM316.12 464.58h6.62v1.8h-6.62zM302.98 468.09h6.62v1.8h-6.62zM395.02 482.1h6.62v1.8h-6.62zM349 483.86h6.62v1.8h-6.62zM375.3 483.86h6.62v1.8h-6.62zM395.02 483.86h6.62v1.8h-6.62zM375.3 485.61h6.62v1.8h-6.62zM395.02 485.61h6.62v1.8h-6.62zM349 487.36h6.62v1.8h-6.62zM375.3 487.36h6.62v1.8h-6.62zM349 489.11h6.62v1.8h-6.62zM329.28 490.86h6.62v1.8h-6.62zM302.98 492.62h6.62v1.8h-6.62zM316.12 494.37h6.62v1.8h-6.62zM322.7 494.37h6.62v1.8h-6.62zM283.25 496.12h6.62v1.8h-6.62zM368.73 496.12h6.62v1.8h-6.62zM283.25 497.87h6.62v1.8h-6.62zM349 501.38h6.62v1.8h-6.62zM381.88 503.13h6.62v1.8h-6.62zM434.48 513.64h6.62v1.8h-6.62zM296.4 518.9h6.62v1.8h-6.62zM296.4 520.65h6.62v1.8h-6.62z"/>
<path fill="#ff2a2a" d="M368.73 172h6.62v1.8h-6.62zM368.73 173.75h6.62v1.8h-6.62zM335.85 177.26h6.62v1.8h-6.62zM401.6 177.26h6.62v1.8h-6.62zM375.3 179.01h6.62v1.8h-6.62zM401.6 179.01h6.62v1.8h-6.62zM368.73 180.76h6.62v1.8h-6.62zM322.7 184.26h6.62v1.8h-6.62zM381.88 189.52h6.62v1.8h-6.62zM388.45 189.52h6.62v1.8h-6.62zM276.68 191.27h6.62v1.8h-6.62zM388.45 196.53h6.62v1.8h-6.62zM276.68 198.28h6.62v1.8h-6.62zM368.73 198.28h6.62v1.8h-6.62zM375.3 198.28h6.62v1.8h-6.62zM270.1 200.03h6.62v1.8h-6.62zM302.98 200.03h6.62v1.8h-6.62zM368.73 200.03h6.62v1.8h-6.62zM270.1 201.78h6.62v1.8h-6.62zM309.55 203.54h6.62v1.8h-6.62zM276.68 205.29h6.62v1.8h-6.62zM322.7 207.04h6.62v1.8h-6.62zM395.02 207.04h6.62v1.8h-6.62zM296.4 208.79h6.62v1.8h-6.62zM375.3 210.54h6.62v1.8h-6.62zM309.55 214.05h6.62v1.8h-6.62zM368.73 219.3h6.62v1.8h-6.62zM381.88 219.3h6.62v1.8h-6.62zM296.4 221.06h6.62v1.8h-6.62zM316.12 222.81h6.62v1.8h-6.62zM322.7 222.81h6.62v1.8h-6.62zM349 224.56h6.62v1.8h-6.62zM342.43 226.31h6.62v1.8h-6.62zM381.88 228.06h6.62v1.8h-6.62zM401.6 228.06h6.62v1.8h-6.62zM381.88 229.82h6.62v1.8h-6.62zM309.55 233.32h6.62v1.8h-6.62zM349 236.82h6.62v1.8h-6.62zM375.3 238.58h6.62v1.8h-6.62zM381.88 240.33h6.62v1.8h-6.62zM270.1 243.83h6.62v1.8h-6.62zM381.88 247.34h6.62v1.8h-6.62zM270.1 252.59h6.62v1.8h-6.62zM270.1 254.34h6.62v1.8h-6.62zM395.02 254.34h6.62v1.8h-6.62zM395.02 256.1h6.62v1.8h-6.62zM276.68 257.85h6.62v1.8h-6.62zM388.45 257.85h6.62v1.8h-6.62zM395.02 257.85h6.62v1.8h-6.62zM270.1 264.86h6.62v1.8h-6.62zM362.15 264.86h6.62v1.8h-6.62zM368.73 268.36h6.62v1.8h-6.62zM381.88 268.36h6.62v1.8h-6.62zM355.58 270.11h6.62v1.8h-6.62zM316.12 271.86h6.62v1.8h-6.62zM335.85 271.86h6.62v1.8h-6.62zM362.15 271.86h6.62v1.8h-6.62zM368.73 271.86h6.62v1.8h-6.62zM375.3 271.86h6.62v1.8h-6.62zM362.15 273.62h6.62v1.8h-6.62zM270.1 275.37h6.62v1.8h-6.62zM302.98 278.87h6.62v1.8h-6.62zM395.02 278.87h6.62v1.8h-6.62zM355.58 287.63h6.62v1.8h-6.62zM375.3 287.63h6.62v1.8h-6.62zM349 294.64h6.62v1.8h-6.62zM395.02 294.64h6.62v1.8h-6.62zM349 299.9h6.62v1.8h-6.62zM335.85 306.9h6.62v1.8h-6.62zM335.85 308.66h6.62v1.8h-6.62zM368.73 312.16h6.62v1.8h-6.62zM362.15 313.91h6.62v1.8h-6.62zM283.25 315.66h6.62v1.8h-6.62zM335.85 315.66h6.62v1.8h-6.62zM375.3 315.66h6.62v1.8h-6.62zM302.98 320.92h6.62v1.8h-6.62zM335.85 320.92h6.62v1.8h-6.62zM283.25 322.67h6.62v1.8h-6.62zM362.15 322.67h6.62v1.8h-6.62zM375.3 322.67h6.62v1.8h-6.62zM302.98 324.42h6.62v1.8h-6.62zM368.73 324.42h6.62v1.8h-6.62zM270.1 331.43h6.62v1.8h-6.62zM368.73 333.18h6.62v1.8h-6.62zM335.85 334.94h6.62v1.8h-6.62zM368.73 334.94h6.62v1.8h-6.62zM375.3 334.94h6.62v1.8h-6.62zM270.1 336.69h6.62v1.8h-6.62zM349 336.69h6.62v1.8h-6.62zM375.3 341.94h6.62v1.8h-6.62zM283.25 343.7h6.62v1.8h-6.62zM362.15 343.7h6.62v1.8h-6.62zM375.3 343.7h6.62v1.8h-6.62zM388.45 343.7h6.62v1.8h-6.62zM368.73 345.45h6.62v1.8h-6.62zM368.73 348.95h6.62v1.8h-6.62zM395.02 348.95h6.62v1.8h-6.62zM322.7 352.46h6.62v1.8h-6.62zM381.88 352.46h6.62v1.8h-6.62zM368.73 354.21h6.62v1.8h-6.62zM362.15 357.71h6.62v1.8h-6.62zM335.85 359.46h6.62v1.8h-6.62zM368.73 361.22h6.62v1.8h-6.62zM375.3 361.22h6.62v1.8h-6.62zM283.25 362.97h6.62v1.8h-6.62zM335.85 362.97h6.62v1.8h-6.62zM368.73 366.47h6.62v1.8h-6.62zM395.02 368.22h6.62v1.8h-6.62zM395.02 376.98h6.62v1.8h-6.62zM335.85 380.49h6.62v1.8h-6.62zM283.25 382.24h6.62v1.8h-6.62zM368.73 382.24h6.62v1.8h-6.62zM388.45 382.24h6.62v1.8h-6.62zM388.45 385.74h6.62v1.8h-6.62zM329.28 387.5h6.62v1.8h-6.62zM388.45 389.25h6.62v1.8h-6.62zM335.85 394.5h6.62v1.8h-6.62zM296.4 396.26h6.62v1.8h-6.62zM395.02 396.26h6.62v1.8h-6.62zM362.15 399.76h6.62v1.8h-6.62zM270.1 403.26h6.62v1.8h-6.62zM349 403.26h6.62v1.8h-6.62zM362.15 405.02h6.62v1.8h-6.62zM375.3 405.02h6.62v1.8h-6.62zM395.02 405.02h6.62v1.8h-6.62zM375.3 412.02h6.62v1.8h-6.62zM276.68 415.53h6.62v1.8h-6.62zM388.45 415.53h6.62v1.8h-6.62zM302.98 417.28h6.62v1.8h-6.62zM388.45 417.28h6.62v1.8h-6.62zM349 427.79h6.62v1.8h-6.62zM401.6 427.79h6.62v1.8h-6.62zM322.7 431.3h6.62v1.8h-6.62zM329.28 431.3h6.62v1.8h-6.62zM276.68 433.05h6.62v1.8h-6.62zM395.02 433.05h6.62v1.8h-6.62zM329.28 434.8h6.62v1.8h-6.62zM283.25 438.3h6.62v1.8h-6.62zM335.85 440.06h6.62v1.8h-6.62zM289.83 441.81h6.62v1.8h-6.62zM316.12 441.81h6.62v1.8h-6.62zM322.7 448.82h6.62v1.8h-6.62zM375.3 450.57h6.62v1.8h-6.62zM329.28 452.32h6.62v1.8h-6.62zM342.43 452.32h6.62v1.8h-6.62zM349 457.58h6.62v1.8h-6.62zM316.12 459.33h6.62v1.8h-6.62zM302.98 461.08h6.62v1.8h-6.62zM329.28 461.08h6.62v1.8h-6.62zM349 461.08h6.62v1.8h-6.62zM270.1 462.83h6.62v1.8h-6.62zM302.98 462.83h6.62v1.8h-6.62zM270.1 464.58h6.62v1.8h-6.62zM388.45 469.84h6.62v1.8h-6.62zM289.83 471.59h6.62v1.8h-6.62zM322.7 471.59h6.62v1.8h-6.62zM401.6 471.59h6.62v1.8h-6.62zM375.3 476.85h6.62v1.8h-6.62zM401.6 476.85h6.62v1.8h-6.62zM375.3 480.35h6.62v1.8h-6.62zM375.3 482.1h6.62v1.8h-6.62zM329.28 485.61h6.62v1.8h-6.62zM296.4 487.36h6.62v1.8h-6.62zM329.28 487.36h6.62v1.8h-6.62zM375.3 489.11h6.62v1.8h-6.62zM316.12 490.86h6.62v1.8h-6.62zM329.28 494.37h6.62v1.8h-6.62zM381.88 494.37h6.62v1.8h-6.62zM414.75 513.64h6.62v1.8h-6.62zM454.2 513.64h6.62v1.8h-6.62zM421.33 515.39h6.62v1.8h-6.62zM414.75 517.14h6.62v1.8h-6.62zM414.75 520.65h6.62v1.8h-6.62z"/>
<path fill="#ff1515" d="M270.1 172h6.62v1.8h-6.62zM276.68 172h6.62v1.8h-6.62zM335.85 172h6.62v1.8h-6.62zM375.3 172h6.62v1.8h-6.62zM388.45 172h6.62v1.8h-6.62zM401.6 172h6.62v1.8h-6.62zM270.1 173.75h6.62v1.8h-6.62zM375.3 173.75h6.62v1.8h-6.62zM401.6 173.75h6.62v1.8h-6.62zM329.28 177.26h6.62v1.8h-6.62zM368.73 177.26h6.62v1.8h-6.62zM270.1 179.01h6.62v1.8h-6.62zM276.68 179.01h6.62v1.8h-6.62zM335.85 179.01h6.62v1.8h-6.62zM270.1 180.76h6.62v1.8h-6.62zM309.55 180.76h6.62v1.8h-6.62zM375.3 180.76h6.62v1.8h-6.62zM388.45 180.76h6.62v1.8h-6.62zM401.6 180.76h6.62v1.8h-6.62zM270.1 182.51h6.62v1.8h-6.62zM375.3 182.51h6.62v1.8h-6.62zM296.4 184.26h6.62v1.8h-6.62zM309.55 186.02h6.62v1.8h-6.62zM368.73 186.02h6.62v1.8h-6.62zM381.88 186.02h6.62v1.8h-6.62zM401.6 186.02h6.62v1.8h-6.62zM270.1 187.77h6.62v1.8h-6.62zM381.88 187.77h6.62v1.8h-6.62zM388.45 187.77h6.62v1.8h-6.62zM309.55 189.52h6.62v1.8h-6.62zM368.73 189.52h6.62v1.8h-6.62zM368.73 193.02h6.62v1.8h-6.62zM388.45 193.02h6.62v1.8h-6.62zM270.1 196.53h6.62v1.8h-6.62zM309.55 196.53h6.62v1.8h-6.62zM368.73 196.53h6.62v1.8h-6.62zM381.88 200.03h6.62v1.8h-6.62zM270.1 203.54h6.62v1.8h-6.62zM309.55 205.29h6.62v1.8h-6.62zM316.12 207.04h6.62v1.8h-6.62zM316.12 208.79h6.62v1.8h-6.62zM395.02 208.79h6.62v1.8h-6.62zM388.45 210.54h6.62v1.8h-6.62zM296.4 212.3h6.62v1.8h-6.62zM316.12 212.3h6.62v1.8h-6.62zM395.02 212.3h6.62v1.8h-6.62zM329.28 214.05h6.62v1.8h-6.62zM388.45 214.05h6.62v1.8h-6.62zM296.4 217.55h6.62v1.8h-6.62zM368.73 217.55h6.62v1.8h-6.62zM381.88 217.55h6.62v1.8h-6.62zM296.4 219.3h6.62v1.8h-6.62zM381.88 221.06h6.62v1.8h-6.62zM329.28 222.81h6.62v1.8h-6.62zM368.73 222.81h6.62v1.8h-6.62zM381.88 222.81h6.62v1.8h-6.62zM329.28 226.31h6.62v1.8h-6.62zM381.88 226.31h6.62v1.8h-6.62zM401.6 226.31h6.62v1.8h-6.62zM316.12 228.06h6.62v1.8h-6.62zM329.28 228.06h6.62v1.8h-6.62zM401.6 229.82h6.62v1.8h-6.62zM329.28 231.57h6.62v1.8h-6.62zM381.88 231.57h6.62v1.8h-6.62zM276.68 233.32h6.62v1.8h-6.62zM316.12 233.32h6.62v1.8h-6.62zM276.68 238.58h6.62v1.8h-6.62zM309.55 238.58h6.62v1.8h-6.62zM270.1 240.33h6.62v1.8h-6.62zM276.68 240.33h6.62v1.8h-6.62zM309.55 240.33h6.62v1.8h-6.62zM316.12 240.33h6.62v1.8h-6.62zM362.15 242.08h6.62v1.8h-6.62zM309.55 243.83h6.62v1.8h-6.62zM388.45 243.83h6.62v1.8h-6.62zM362.15 245.58h6.62v1.8h-6.62zM368.73 245.58h6.62v1.8h-6.62zM368.73 247.34h6.62v1.8h-6.62zM309.55 250.84h6.62v1.8h-6.62zM381.88 252.59h6.62v1.8h-6.62zM276.68 254.34h6.62v1.8h-6.62zM270.1 256.1h6.62v1.8h-6.62zM276.68 256.1h6.62v1.8h-6.62zM381.88 256.1h6.62v1.8h-6.62zM270.1 259.6h6.62v1.8h-6.62zM362.15 259.6h6.62v1.8h-6.62zM362.15 261.35h6.62v1.8h-6.62zM362.15 263.1h6.62v1.8h-6.62zM276.68 264.86h6.62v1.8h-6.62zM395.02 264.86h6.62v1.8h-6.62zM395.02 266.61h6.62v1.8h-6.62zM270.1 270.11h6.62v1.8h-6.62zM276.68 270.11h6.62v1.8h-6.62zM316.12 273.62h6.62v1.8h-6.62zM381.88 273.62h6.62v1.8h-6.62zM395.02 275.37h6.62v1.8h-6.62zM395.02 277.12h6.62v1.8h-6.62zM362.15 282.38h6.62v1.8h-6.62zM335.85 284.13h6.62v1.8h-6.62zM375.3 285.88h6.62v1.8h-6.62zM302.98 287.63h6.62v1.8h-6.62zM395.02 287.63h6.62v1.8h-6.62zM302.98 289.38h6.62v1.8h-6.62zM375.3 289.38h6.62v1.8h-6.62zM355.58 292.89h6.62v1.8h-6.62zM395.02 292.89h6.62v1.8h-6.62zM381.88 294.64h6.62v1.8h-6.62zM381.88 296.39h6.62v1.8h-6.62zM388.45 298.14h6.62v1.8h-6.62zM381.88 299.9h6.62v1.8h-6.62zM395.02 299.9h6.62v1.8h-6.62zM362.15 301.65h6.62v1.8h-6.62zM375.3 303.4h6.62v1.8h-6.62zM349 305.15h6.62v1.8h-6.62zM270.1 306.9h6.62v1.8h-6.62zM349 308.66h6.62v1.8h-6.62zM362.15 308.66h6.62v1.8h-6.62zM302.98 310.41h6.62v1.8h-6.62zM375.3 312.16h6.62v1.8h-6.62zM395.02 312.16h6.62v1.8h-6.62zM302.98 315.66h6.62v1.8h-6.62zM362.15 315.66h6.62v1.8h-6.62zM349 319.17h6.62v1.8h-6.62zM362.15 319.17h6.62v1.8h-6.62zM395.02 319.17h6.62v1.8h-6.62zM283.25 320.92h6.62v1.8h-6.62zM289.83 322.67h6.62v1.8h-6.62zM368.73 322.67h6.62v1.8h-6.62zM283.25 324.42h6.62v1.8h-6.62zM362.15 324.42h6.62v1.8h-6.62zM375.3 324.42h6.62v1.8h-6.62zM302.98 326.18h6.62v1.8h-6.62zM362.15 326.18h6.62v1.8h-6.62zM368.73 326.18h6.62v1.8h-6.62zM395.02 326.18h6.62v1.8h-6.62zM335.85 327.93h6.62v1.8h-6.62zM362.15 327.93h6.62v1.8h-6.62zM368.73 327.93h6.62v1.8h-6.62zM335.85 331.43h6.62v1.8h-6.62zM395.02 331.43h6.62v1.8h-6.62zM375.3 333.18h6.62v1.8h-6.62zM395.02 334.94h6.62v1.8h-6.62zM335.85 336.69h6.62v1.8h-6.62zM368.73 336.69h6.62v1.8h-6.62zM375.3 336.69h6.62v1.8h-6.62zM395.02 338.44h6.62v1.8h-6.62zM388.45 340.19h6.62v1.8h-6.62zM362.15 341.94h6.62v1.8h-6.62zM388.45 341.94h6.62v1.8h-6.62zM395.02 341.94h6.62v1.8h-6.62zM335.85 343.7h6.62v1.8h-6.62zM395.02 343.7h6.62v1.8h-6.62zM283.25 347.2h6.62v1.8h-6.62zM368.73 347.2h6.62v1.8h-6.62zM375.3 347.2h6.62v1.8h-6.62zM395.02 347.2h6.62v1.8h-6.62zM362.15 348.95h6.62v1.8h-6.62zM289.83 350.7h6.62v1.8h-6.62zM349 350.7h6.62v1.8h-6.62zM388.45 350.7h6.62v1.8h-6.62zM362.15 352.46h6.62v1.8h-6.62zM283.25 354.21h6.62v1.8h-6.62zM395.02 354.21h6.62v1.8h-6.62zM283.25 355.96h6.62v1.8h-6.62zM375.3 355.96h6.62v1.8h-6.62zM283.25 359.46h6.62v1.8h-6.62zM395.02 359.46h6.62v1.8h-6.62zM270.1 362.97h6.62v1.8h-6.62zM375.3 362.97h6.62v1.8h-6.62zM395.02 364.72h6.62v1.8h-6.62zM362.15 366.47h6.62v1.8h-6.62zM362.15 368.22h6.62v1.8h-6.62zM335.85 369.98h6.62v1.8h-6.62zM388.45 369.98h6.62v1.8h-6.62zM335.85 371.73h6.62v1.8h-6.62zM368.73 371.73h6.62v1.8h-6.62zM283.25 373.48h6.62v1.8h-6.62zM302.98 373.48h6.62v1.8h-6.62zM388.45 373.48h6.62v1.8h-6.62zM395.02 375.23h6.62v1.8h-6.62zM316.12 378.74h6.62v1.8h-6.62zM335.85 378.74h6.62v1.8h-6.62zM388.45 378.74h6.62v1.8h-6.62zM401.6 378.74h6.62v1.8h-6.62zM283.25 380.49h6.62v1.8h-6.62zM362.15 380.49h6.62v1.8h-6.62zM375.3 382.24h6.62v1.8h-6.62zM349 383.99h6.62v1.8h-6.62zM375.3 383.99h6.62v1.8h-6.62zM388.45 383.99h6.62v1.8h-6.62zM349 385.74h6.62v1.8h-6.62zM368.73 389.25h6.62v1.8h-6.62zM375.3 389.25h6.62v1.8h-6.62zM283.25 391h6.62v1.8h-6.62zM375.3 391h6.62v1.8h-6.62zM283.25 392.75h6.62v1.8h-6.62zM283.25 396.26h6.62v1.8h-6.62zM362.15 396.26h6.62v1.8h-6.62zM296.4 398.01h6.62v1.8h-6.62zM289.83 399.76h6.62v1.8h-6.62zM375.3 399.76h6.62v1.8h-6.62zM395.02 399.76h6.62v1.8h-6.62zM362.15 401.51h6.62v1.8h-6.62zM375.3 401.51h6.62v1.8h-6.62zM368.73 403.26h6.62v1.8h-6.62zM381.88 408.52h6.62v1.8h-6.62zM388.45 408.52h6.62v1.8h-6.62zM395.02 408.52h6.62v1.8h-6.62zM368.73 410.27h6.62v1.8h-6.62zM395.02 410.27h6.62v1.8h-6.62zM388.45 412.02h6.62v1.8h-6.62zM395.02 412.02h6.62v1.8h-6.62zM368.73 417.28h6.62v1.8h-6.62zM375.3 417.28h6.62v1.8h-6.62zM375.3 419.03h6.62v1.8h-6.62zM302.98 422.54h6.62v1.8h-6.62zM368.73 424.29h6.62v1.8h-6.62zM388.45 424.29h6.62v1.8h-6.62zM368.73 426.04h6.62v1.8h-6.62zM368.73 427.79h6.62v1.8h-6.62zM381.88 427.79h6.62v1.8h-6.62zM368.73 429.54h6.62v1.8h-6.62zM335.85 433.05h6.62v1.8h-6.62zM349 434.8h6.62v1.8h-6.62zM395.02 434.8h6.62v1.8h-6.62zM283.25 436.55h6.62v1.8h-6.62zM395.02 438.3h6.62v1.8h-6.62zM289.83 440.06h6.62v1.8h-6.62zM381.88 440.06h6.62v1.8h-6.62zM388.45 440.06h6.62v1.8h-6.62zM270.1 441.81h6.62v1.8h-6.62zM329.28 443.56h6.62v1.8h-6.62zM283.25 448.82h6.62v1.8h-6.62zM375.3 452.32h6.62v1.8h-6.62zM283.25 455.82h6.62v1.8h-6.62zM289.83 455.82h6.62v1.8h-6.62zM316.12 455.82h6.62v1.8h-6.62zM329.28 457.58h6.62v1.8h-6.62zM289.83 459.33h6.62v1.8h-6.62zM289.83 462.83h6.62v1.8h-6.62zM276.68 464.58h6.62v1.8h-6.62zM401.6 468.09h6.62v1.8h-6.62zM329.28 471.59h6.62v1.8h-6.62zM342.43 471.59h6.62v1.8h-6.62zM375.3 471.59h6.62v1.8h-6.62zM388.45 475.1h6.62v1.8h-6.62zM289.83 476.85h6.62v1.8h-6.62zM322.7 476.85h6.62v1.8h-6.62zM342.43 476.85h6.62v1.8h-6.62zM322.7 478.6h6.62v1.8h-6.62zM349 478.6h6.62v1.8h-6.62zM322.7 480.35h6.62v1.8h-6.62zM329.28 480.35h6.62v1.8h-6.62zM302.98 482.1h6.62v1.8h-6.62zM349 482.1h6.62v1.8h-6.62zM283.25 483.86h6.62v1.8h-6.62zM316.12 483.86h6.62v1.8h-6.62zM296.4 485.61h6.62v1.8h-6.62zM316.12 485.61h6.62v1.8h-6.62zM322.7 485.61h6.62v1.8h-6.62zM368.73 490.86h6.62v1.8h-6.62zM316.12 492.62h6.62v1.8h-6.62zM322.7 496.12h6.62v1.8h-6.62zM316.12 499.62h6.62v1.8h-6.62zM296.4 501.38h6.62v1.8h-6.62zM289.83 504.88h6.62v1.8h-6.62zM441.05 506.63h6.62v1.8h-6.62zM421.33 513.64h6.62v1.8h-6.62zM460.77 513.64h6.62v1.8h-6.62zM473.93 513.64h6.62v1.8h-6.62zM414.75 515.39h6.62v1.8h-6.62zM427.9 515.39h6.62v1.8h-6.62zM473.93 515.39h6.62v1.8h-6.62zM460.77 517.14h6.62v1.8h-6.62zM460.77 518.9h6.62v1.8h-6.62zM421.33 520.65h6.62v1.8h-6.62zM473.93 520.65h6.62v1.8h-6.62z"/>
<path fill="#ff0000" d="M381.88 172h6.62v1.8h-6.62zM276.68 173.75h6.62v1.8h-6.62zM335.85 173.75h6.62v1.8h-6.62zM381.88 173.75h6.62v1.8h-6.62zM388.45 173.75h6.62v1.8h-6.62zM270.1 175.5h6.62v1.8h-6.62zM276.68 175.5h6.62v1.8h-6.62zM335.85 175.5h6.62v1.8h-6.62zM368.73 175.5h6.62v1.8h-6.62zM375.3 175.5h6.62v1.8h-6.62zM381.88 175.5h6.62v1.8h-6.62zM388.45 175.5h6.62v1.8h-6.62zM401.6 175.5h6.62v1.8h-6.62zM270.1 177.26h6.62v1.8h-6.62zM276.68 177.26h6.62v1.8h-6.62zM375.3 177.26h6.62v1.8h-6.62zM381.88 177.26h6.62v1.8h-6.62zM388.45 177.26h6.62v1.8h-6.62zM368.73 179.01h6.62v1.8h-6.62zM381.88 179.01h6.62v1.8h-6.62zM309.55 182.51h6.62v1.8h-6.62zM368.73 182.51h6.62v1.8h-6.62zM381.88 182.51h6.62v1.8h-6.62zM388.45 182.51h6.62v1.8h-6.62zM401.6 182.51h6.62v1.8h-6.62zM270.1 184.26h6.62v1.8h-6.62zM309.55 184.26h6.62v1.8h-6.62zM368.73 184.26h6.62v1.8h-6.62zM375.3 184.26h6.62v1.8h-6.62zM381.88 184.26h6.62v1.8h-6.62zM388.45 184.26h6.62v1.8h-6.62zM401.6 184.26h6.62v1.8h-6.62zM270.1 186.02h6.62v1.8h-6.62zM375.3 186.02h6.62v1.8h-6.62zM309.55 187.77h6.62v1.8h-6.62zM368.73 187.77h6.62v1.8h-6.62zM375.3 187.77h6.62v1.8h-6.62zM401.6 187.77h6.62v1.8h-6.62zM270.1 189.52h6.62v1.8h-6.62zM270.1 191.27h6.62v1.8h-6.62zM309.55 191.27h6.62v1.8h-6.62zM368.73 191.27h6.62v1.8h-6.62zM381.88 191.27h6.62v1.8h-6.62zM388.45 191.27h6.62v1.8h-6.62zM270.1 193.02h6.62v1.8h-6.62zM309.55 193.02h6.62v1.8h-6.62zM381.88 193.02h6.62v1.8h-6.62zM270.1 194.78h6.62v1.8h-6.62zM309.55 194.78h6.62v1.8h-6.62zM329.28 194.78h6.62v1.8h-6.62zM368.73 194.78h6.62v1.8h-6.62zM381.88 194.78h6.62v1.8h-6.62zM388.45 194.78h6.62v1.8h-6.62zM381.88 196.53h6.62v1.8h-6.62zM270.1 198.28h6.62v1.8h-6.62zM302.98 198.28h6.62v1.8h-6.62zM309.55 198.28h6.62v1.8h-6.62zM381.88 198.28h6.62v1.8h-6.62zM388.45 198.28h6.62v1.8h-6.62zM309.55 200.03h6.62v1.8h-6.62zM388.45 200.03h6.62v1.8h-6.62zM309.55 201.78h6.62v1.8h-6.62zM381.88 201.78h6.62v1.8h-6.62zM388.45 201.78h6.62v1.8h-6.62zM381.88 203.54h6.62v1.8h-6.62zM388.45 203.54h6.62v1.8h-6.62zM270.1 205.29h6.62v1.8h-6.62zM381.88 205.29h6.62v1.8h-6.62zM388.45 205.29h6.62v1.8h-6.62zM296.4 207.04h6.62v1.8h-6.62zM296.4 210.54h6.62v1.8h-6.62zM316.12 210.54h6.62v1.8h-6.62zM322.7 210.54h6.62v1.8h-6.62zM329.28 210.54h6.62v1.8h-6.62zM395.02 210.54h6.62v1.8h-6.62zM296.4 214.05h6.62v1.8h-6.62zM316.12 214.05h6.62v1.8h-6.62zM395.02 214.05h6.62v1.8h-6.62zM296.4 215.8h6.62v1.8h-6.62zM316.12 215.8h6.62v1.8h-6.62zM368.73 215.8h6.62v1.8h-6.62zM381.88 215.8h6.62v1.8h-6.62zM316.12 217.55h6.62v1.8h-6.62zM316.12 221.06h6.62v1.8h-6.62zM368.73 221.06h6.62v1.8h-6.62zM296.4 222.81h6.62v1.8h-6.62zM316.12 224.56h6.62v1.8h-6.62zM329.28 224.56h6.62v1.8h-6.62zM381.88 224.56h6.62v1.8h-6.62zM401.6 224.56h6.62v1.8h-6.62zM316.12 226.31h6.62v1.8h-6.62zM316.12 229.82h6.62v1.8h-6.62zM329.28 229.82h6.62v1.8h-6.62zM316.12 231.57h6.62v1.8h-6.62zM401.6 231.57h6.62v1.8h-6.62zM270.1 233.32h6.62v1.8h-6.62zM381.88 233.32h6.62v1.8h-6.62zM270.1 235.07h6.62v1.8h-6.62zM276.68 235.07h6.62v1.8h-6.62zM309.55 235.07h6.62v1.8h-6.62zM316.12 235.07h6.62v1.8h-6.62zM349 235.07h6.62v1.8h-6.62zM381.88 235.07h6.62v1.8h-6.62zM401.6 235.07h6.62v1.8h-6.62zM270.1 236.82h6.62v1.8h-6.62zM276.68 236.82h6.62v1.8h-6.62zM296.4 236.82h6.62v1.8h-6.62zM309.55 236.82h6.62v1.8h-6.62zM316.12 236.82h6.62v1.8h-6.62zM375.3 236.82h6.62v1.8h-6.62zM381.88 236.82h6.62v1.8h-6.62zM270.1 238.58h6.62v1.8h-6.62zM316.12 238.58h6.62v1.8h-6.62zM381.88 238.58h6.62v1.8h-6.62zM270.1 242.08h6.62v1.8h-6.62zM309.55 242.08h6.62v1.8h-6.62zM368.73 242.08h6.62v1.8h-6.62zM362.15 243.83h6.62v1.8h-6.62zM368.73 243.83h6.62v1.8h-6.62zM381.88 243.83h6.62v1.8h-6.62zM270.1 245.58h6.62v1.8h-6.62zM309.55 245.58h6.62v1.8h-6.62zM381.88 245.58h6.62v1.8h-6.62zM388.45 245.58h6.62v1.8h-6.62zM270.1 247.34h6.62v1.8h-6.62zM309.55 247.34h6.62v1.8h-6.62zM362.15 247.34h6.62v1.8h-6.62zM388.45 247.34h6.62v1.8h-6.62zM270.1 249.09h6.62v1.8h-6.62zM309.55 249.09h6.62v1.8h-6.62zM362.15 249.09h6.62v1.8h-6.62zM368.73 249.09h6.62v1.8h-6.62zM270.1 250.84h6.62v1.8h-6.62zM276.68 250.84h6.62v1.8h-6.62zM362.15 250.84h6.62v1.8h-6.62zM381.88 250.84h6.62v1.8h-6.62zM388.45 250.84h6.62v1.8h-6.62zM395.02 250.84h6.62v1.8h-6.62zM276.68 252.59h6.62v1.8h-6.62zM395.02 252.59h6.62v1.8h-6.62zM270.1 257.85h6.62v1.8h-6.62zM381.88 257.85h6.62v1.8h-6.62zM276.68 259.6h6.62v1.8h-6.62zM381.88 259.6h6.62v1.8h-6.62zM395.02 259.6h6.62v1.8h-6.62zM270.1 261.35h6.62v1.8h-6.62zM276.68 261.35h6.62v1.8h-6.62zM381.88 261.35h6.62v1.8h-6.62zM395.02 261.35h6.62v1.8h-6.62zM270.1 263.1h6.62v1.8h-6.62zM276.68 263.1h6.62v1.8h-6.62zM381.88 263.1h6.62v1.8h-6.62zM395.02 263.1h6.62v1.8h-6.62zM381.88 264.86h6.62v1.8h-6.62zM270.1 266.61h6.62v1.8h-6.62zM276.68 266.61h6.62v1.8h-6.62zM362.15 266.61h6.62v1.8h-6.62zM381.88 266.61h6.62v1.8h-6.62zM270.1 268.36h6.62v1.8h-6.62zM276.68 268.36h6.62v1.8h-6.62zM309.55 268.36h6.62v1.8h-6.62zM362.15 268.36h6.62v1.8h-6.62zM395.02 268.36h6.62v1.8h-6.62zM395.02 270.11h6.62v1.8h-6.62zM270.1 271.86h6.62v1.8h-6.62zM276.68 271.86h6.62v1.8h-6.62zM309.55 271.86h6.62v1.8h-6.62zM355.58 271.86h6.62v1.8h-6.62zM395.02 271.86h6.62v1.8h-6.62zM270.1 273.62h6.62v1.8h-6.62zM276.68 273.62h6.62v1.8h-6.62zM395.02 273.62h6.62v1.8h-6.62zM276.68 275.37h6.62v1.8h-6.62zM302.98 277.12h6.62v1.8h-6.62zM362.15 277.12h6.62v1.8h-6.62zM375.3 277.12h6.62v1.8h-6.62zM362.15 278.87h6.62v1.8h-6.62zM362.15 280.62h6.62v1.8h-6.62zM395.02 280.62h6.62v1.8h-6.62zM302.98 282.38h6.62v1.8h-6.62zM335.85 282.38h6.62v1.8h-6.62zM395.02 282.38h6.62v1.8h-6.62zM302.98 284.13h6.62v1.8h-6.62zM362.15 284.13h6.62v1.8h-6.62zM395.02 284.13h6.62v1.8h-6.62zM302.98 285.88h6.62v1.8h-6.62zM355.58 285.88h6.62v1.8h-6.62zM362.15 285.88h6.62v1.8h-6.62zM395.02 285.88h6.62v1.8h-6.62zM362.15 287.63h6.62v1.8h-6.62zM355.58 289.38h6.62v1.8h-6.62zM362.15 289.38h6.62v1.8h-6.62zM395.02 289.38h6.62v1.8h-6.62zM302.98 291.14h6.62v1.8h-6.62zM355.58 291.14h6.62v1.8h-6.62zM362.15 291.14h6.62v1.8h-6.62zM375.3 291.14h6.62v1.8h-6.62zM381.88 291.14h6.62v1.8h-6.62zM395.02 291.14h6.62v1.8h-6.62zM283.25 292.89h6.62v1.8h-6.62zM302.98 292.89h6.62v1.8h-6.62zM362.15 292.89h6.62v1.8h-6.62zM375.3 292.89h6.62v1.8h-6.62zM368.73 296.39h6.62v1.8h-6.62zM395.02 296.39h6.62v1.8h-6.62zM349 298.14h6.62v1.8h-6.62zM368.73 298.14h6.62v1.8h-6.62zM381.88 298.14h6.62v1.8h-6.62zM395.02 298.14h6.62v1.8h-6.62zM368.73 299.9h6.62v1.8h-6.62zM349 301.65h6.62v1.8h-6.62zM368.73 301.65h6.62v1.8h-6.62zM381.88 301.65h6.62v1.8h-6.62zM395.02 301.65h6.62v1.8h-6.62zM283.25 303.4h6.62v1.8h-6.62zM289.83 303.4h6.62v1.8h-6.62zM302.98 303.4h6.62v1.8h-6.62zM349 303.4h6.62v1.8h-6.62zM362.15 303.4h6.62v1.8h-6.62zM368.73 303.4h6.62v1.8h-6.62zM395.02 303.4h6.62v1.8h-6.62zM283.25 305.15h6.62v1.8h-6.62zM289.83 305.15h6.62v1.8h-6.62zM302.98 305.15h6.62v1.8h-6.62zM362.15 305.15h6.62v1.8h-6.62zM368.73 305.15h6.62v1.8h-6.62zM375.3 305.15h6.62v1.8h-6.62zM395.02 305.15h6.62v1.8h-6.62zM283.25 306.9h6.62v1.8h-6.62zM289.83 306.9h6.62v1.8h-6.62zM302.98 306.9h6.62v1.8h-6.62zM349 306.9h6.62v1.8h-6.62zM362.15 306.9h6.62v1.8h-6.62zM368.73 306.9h6.62v1.8h-6.62zM375.3 306.9h6.62v1.8h-6.62zM395.02 306.9h6.62v1.8h-6.62zM283.25 308.66h6.62v1.8h-6.62zM289.83 308.66h6.62v1.8h-6.62zM302.98 308.66h6.62v1.8h-6.62zM368.73 308.66h6.62v1.8h-6.62zM375.3 308.66h6.62v1.8h-6.62zM395.02 308.66h6.62v1.8h-6.62zM283.25 310.41h6.62v1.8h-6.62zM289.83 310.41h6.62v1.8h-6.62zM349 310.41h6.62v1.8h-6.62zM362.15 310.41h6.62v1.8h-6.62zM368.73 310.41h6.62v1.8h-6.62zM375.3 310.41h6.62v1.8h-6.62zM395.02 310.41h6.62v1.8h-6.62zM283.25 312.16h6.62v1.8h-6.62zM302.98 312.16h6.62v1.8h-6.62zM335.85 312.16h6.62v1.8h-6.62zM349 312.16h6.62v1.8h-6.62zM362.15 312.16h6.62v1.8h-6.62zM283.25 313.91h6.62v1.8h-6.62zM302.98 313.91h6.62v1.8h-6.62zM335.85 313.91h6.62v1.8h-6.62zM349 313.91h6.62v1.8h-6.62zM375.3 313.91h6.62v1.8h-6.62zM395.02 313.91h6.62v1.8h-6.62zM395.02 315.66h6.62v1.8h-6.62zM283.25 317.42h6.62v1.8h-6.62zM302.98 317.42h6.62v1.8h-6.62zM335.85 317.42h6.62v1.8h-6.62zM349 317.42h6.62v1.8h-6.62zM362.15 317.42h6.62v1.8h-6.62zM375.3 317.42h6.62v1.8h-6.62zM395.02 317.42h6.62v1.8h-6.62zM283.25 319.17h6.62v1.8h-6.62zM302.98 319.17h6.62v1.8h-6.62zM375.3 319.17h6.62v1.8h-6.62zM362.15 320.92h6.62v1.8h-6.62zM368.73 320.92h6.62v1.8h-6.62zM375.3 320.92h6.62v1.8h-6.62zM395.02 320.92h6.62v1.8h-6.62zM302.98 322.67h6.62v1.8h-6.62zM395.02 322.67h6.62v1.8h-6.62zM335.85 324.42h6.62v1.8h-6.62zM283.25 326.18h6.62v1.8h-6.62zM375.3 326.18h6.62v1.8h-6.62zM283.25 327.93h6.62v1.8h-6.62zM302.98 327.93h6.62v1.8h-6.62zM349 327.93h6.62v1.8h-6.62zM375.3 327.93h6.62v1.8h-6.62zM395.02 327.93h6.62v1.8h-6.62zM270.1 329.68h6.62v1.8h-6.62zM335.85 329.68h6.62v1.8h-6.62zM349 329.68h6.62v1.8h-6.62zM368.73 329.68h6.62v1.8h-6.62zM375.3 329.68h6.62v1.8h-6.62zM395.02 329.68h6.62v1.8h-6.62zM349 331.43h6.62v1.8h-6.62zM368.73 331.43h6.62v1.8h-6.62zM375.3 331.43h6.62v1.8h-6.62zM270.1 333.18h6.62v1.8h-6.62zM335.85 333.18h6.62v1.8h-6.62zM349 333.18h6.62v1.8h-6.62zM395.02 333.18h6.62v1.8h-6.62zM270.1 334.94h6.62v1.8h-6.62zM349 334.94h6.62v1.8h-6.62zM283.25 338.44h6.62v1.8h-6.62zM335.85 338.44h6.62v1.8h-6.62zM362.15 338.44h6.62v1.8h-6.62zM375.3 338.44h6.62v1.8h-6.62zM388.45 338.44h6.62v1.8h-6.62zM283.25 340.19h6.62v1.8h-6.62zM335.85 340.19h6.62v1.8h-6.62zM362.15 340.19h6.62v1.8h-6.62zM375.3 340.19h6.62v1.8h-6.62zM395.02 340.19h6.62v1.8h-6.62zM283.25 341.94h6.62v1.8h-6.62zM335.85 341.94h6.62v1.8h-6.62zM283.25 345.45h6.62v1.8h-6.62zM335.85 345.45h6.62v1.8h-6.62zM362.15 345.45h6.62v1.8h-6.62zM375.3 345.45h6.62v1.8h-6.62zM388.45 345.45h6.62v1.8h-6.62zM395.02 345.45h6.62v1.8h-6.62zM283.25 348.95h6.62v1.8h-6.62zM375.3 348.95h6.62v1.8h-6.62zM283.25 350.7h6.62v1.8h-6.62zM335.85 350.7h6.62v1.8h-6.62zM362.15 350.7h6.62v1.8h-6.62zM368.73 350.7h6.62v1.8h-6.62zM375.3 350.7h6.62v1.8h-6.62zM395.02 350.7h6.62v1.8h-6.62zM283.25 352.46h6.62v1.8h-6.62zM368.73 352.46h6.62v1.8h-6.62zM375.3 352.46h6.62v1.8h-6.62zM395.02 352.46h6.62v1.8h-6.62zM302.98 354.21h6.62v1.8h-6.62zM375.3 354.21h6.62v1.8h-6.62zM368.73 355.96h6.62v1.8h-6.62zM368.73 357.71h6.62v1.8h-6.62zM375.3 357.71h6.62v1.8h-6.62zM368.73 359.46h6.62v1.8h-6.62zM375.3 359.46h6.62v1.8h-6.62zM283.25 361.22h6.62v1.8h-6.62zM349 362.97h6.62v1.8h-6.62zM368.73 362.97h6.62v1.8h-6.62zM289.83 368.22h6.62v1.8h-6.62zM368.73 369.98h6.62v1.8h-6.62zM375.3 373.48h6.62v1.8h-6.62zM395.02 373.48h6.62v1.8h-6.62zM375.3 375.23h6.62v1.8h-6.62zM375.3 376.98h6.62v1.8h-6.62zM283.25 378.74h6.62v1.8h-6.62zM302.98 378.74h6.62v1.8h-6.62zM322.7 378.74h6.62v1.8h-6.62zM329.28 378.74h6.62v1.8h-6.62zM368.73 378.74h6.62v1.8h-6.62zM375.3 378.74h6.62v1.8h-6.62zM395.02 378.74h6.62v1.8h-6.62zM316.12 380.49h6.62v1.8h-6.62zM322.7 380.49h6.62v1.8h-6.62zM329.28 380.49h6.62v1.8h-6.62zM368.73 380.49h6.62v1.8h-6.62zM375.3 380.49h6.62v1.8h-6.62zM388.45 380.49h6.62v1.8h-6.62zM395.02 380.49h6.62v1.8h-6.62zM283.25 383.99h6.62v1.8h-6.62zM368.73 383.99h6.62v1.8h-6.62zM381.88 383.99h6.62v1.8h-6.62zM283.25 385.74h6.62v1.8h-6.62zM362.15 385.74h6.62v1.8h-6.62zM368.73 385.74h6.62v1.8h-6.62zM375.3 385.74h6.62v1.8h-6.62zM283.25 387.5h6.62v1.8h-6.62zM349 387.5h6.62v1.8h-6.62zM368.73 387.5h6.62v1.8h-6.62zM375.3 387.5h6.62v1.8h-6.62zM388.45 387.5h6.62v1.8h-6.62zM283.25 389.25h6.62v1.8h-6.62zM349 389.25h6.62v1.8h-6.62zM362.15 391h6.62v1.8h-6.62zM395.02 391h6.62v1.8h-6.62zM362.15 392.75h6.62v1.8h-6.62zM375.3 392.75h6.62v1.8h-6.62zM395.02 392.75h6.62v1.8h-6.62zM283.25 394.5h6.62v1.8h-6.62zM349 394.5h6.62v1.8h-6.62zM362.15 394.5h6.62v1.8h-6.62zM375.3 394.5h6.62v1.8h-6.62zM395.02 394.5h6.62v1.8h-6.62zM335.85 396.26h6.62v1.8h-6.62zM375.3 396.26h6.62v1.8h-6.62zM283.25 398.01h6.62v1.8h-6.62zM349 398.01h6.62v1.8h-6.62zM362.15 398.01h6.62v1.8h-6.62zM375.3 398.01h6.62v1.8h-6.62zM395.02 398.01h6.62v1.8h-6.62zM395.02 401.51h6.62v1.8h-6.62zM362.15 403.26h6.62v1.8h-6.62zM375.3 403.26h6.62v1.8h-6.62zM395.02 403.26h6.62v1.8h-6.62zM316.12 406.77h6.62v1.8h-6.62zM362.15 406.77h6.62v1.8h-6.62zM375.3 406.77h6.62v1.8h-6.62zM395.02 406.77h6.62v1.8h-6.62zM368.73 408.52h6.62v1.8h-6.62zM375.3 408.52h6.62v1.8h-6.62zM375.3 410.27h6.62v1.8h-6.62zM381.88 410.27h6.62v1.8h-6.62zM388.45 410.27h6.62v1.8h-6.62zM368.73 412.02h6.62v1.8h-6.62zM381.88 412.02h6.62v1.8h-6.62zM296.4 413.78h6.62v1.8h-6.62zM368.73 413.78h6.62v1.8h-6.62zM375.3 413.78h6.62v1.8h-6.62zM381.88 413.78h6.62v1.8h-6.62zM388.45 413.78h6.62v1.8h-6.62zM395.02 413.78h6.62v1.8h-6.62zM368.73 415.53h6.62v1.8h-6.62zM375.3 415.53h6.62v1.8h-6.62zM381.88 415.53h6.62v1.8h-6.62zM395.02 415.53h6.62v1.8h-6.62zM395.02 417.28h6.62v1.8h-6.62zM289.83 419.03h6.62v1.8h-6.62zM302.98 419.03h6.62v1.8h-6.62zM368.73 419.03h6.62v1.8h-6.62zM388.45 419.03h6.62v1.8h-6.62zM395.02 419.03h6.62v1.8h-6.62zM289.83 420.78h6.62v1.8h-6.62zM302.98 420.78h6.62v1.8h-6.62zM342.43 420.78h6.62v1.8h-6.62zM368.73 420.78h6.62v1.8h-6.62zM375.3 420.78h6.62v1.8h-6.62zM388.45 420.78h6.62v1.8h-6.62zM395.02 420.78h6.62v1.8h-6.62zM289.83 422.54h6.62v1.8h-6.62zM368.73 422.54h6.62v1.8h-6.62zM375.3 422.54h6.62v1.8h-6.62zM388.45 422.54h6.62v1.8h-6.62zM395.02 422.54h6.62v1.8h-6.62zM302.98 424.29h6.62v1.8h-6.62zM375.3 424.29h6.62v1.8h-6.62zM395.02 424.29h6.62v1.8h-6.62zM349 426.04h6.62v1.8h-6.62zM381.88 426.04h6.62v1.8h-6.62zM388.45 426.04h6.62v1.8h-6.62zM388.45 427.79h6.62v1.8h-6.62zM349 429.54h6.62v1.8h-6.62zM381.88 429.54h6.62v1.8h-6.62zM388.45 429.54h6.62v1.8h-6.62zM349 431.3h6.62v1.8h-6.62zM368.73 431.3h6.62v1.8h-6.62zM381.88 431.3h6.62v1.8h-6.62zM388.45 431.3h6.62v1.8h-6.62zM329.28 433.05h6.62v1.8h-6.62zM349 433.05h6.62v1.8h-6.62zM362.15 433.05h6.62v1.8h-6.62zM368.73 433.05h6.62v1.8h-6.62zM381.88 433.05h6.62v1.8h-6.62zM388.45 433.05h6.62v1.8h-6.62zM270.1 434.8h6.62v1.8h-6.62zM289.83 434.8h6.62v1.8h-6.62zM316.12 434.8h6.62v1.8h-6.62zM335.85 434.8h6.62v1.8h-6.62zM381.88 434.8h6.62v1.8h-6.62zM388.45 434.8h6.62v1.8h-6.62zM270.1 436.55h6.62v1.8h-6.62zM289.83 436.55h6.62v1.8h-6.62zM316.12 436.55h6.62v1.8h-6.62zM381.88 436.55h6.62v1.8h-6.62zM388.45 436.55h6.62v1.8h-6.62zM270.1 438.3h6.62v1.8h-6.62zM289.83 438.3h6.62v1.8h-6.62zM316.12 438.3h6.62v1.8h-6.62zM335.85 438.3h6.62v1.8h-6.62zM381.88 438.3h6.62v1.8h-6.62zM388.45 438.3h6.62v1.8h-6.62zM270.1 440.06h6.62v1.8h-6.62zM316.12 440.06h6.62v1.8h-6.62zM381.88 441.81h6.62v1.8h-6.62zM388.45 441.81h6.62v1.8h-6.62zM289.83 448.82h6.62v1.8h-6.62zM302.98 448.82h6.62v1.8h-6.62zM329.28 448.82h6.62v1.8h-6.62zM335.85 448.82h6.62v1.8h-6.62zM375.3 448.82h6.62v1.8h-6.62zM283.25 452.32h6.62v1.8h-6.62zM289.83 452.32h6.62v1.8h-6.62zM316.12 452.32h6.62v1.8h-6.62zM289.83 454.07h6.62v1.8h-6.62zM316.12 454.07h6.62v1.8h-6.62zM289.83 457.58h6.62v1.8h-6.62zM316.12 457.58h6.62v1.8h-6.62zM342.43 457.58h6.62v1.8h-6.62zM375.3 457.58h6.62v1.8h-6.62zM388.45 457.58h6.62v1.8h-6.62zM270.1 461.08h6.62v1.8h-6.62zM276.68 461.08h6.62v1.8h-6.62zM283.25 461.08h6.62v1.8h-6.62zM289.83 461.08h6.62v1.8h-6.62zM316.12 461.08h6.62v1.8h-6.62zM362.15 461.08h6.62v1.8h-6.62zM368.73 461.08h6.62v1.8h-6.62zM375.3 461.08h6.62v1.8h-6.62zM395.02 461.08h6.62v1.8h-6.62zM401.6 461.08h6.62v1.8h-6.62zM289.83 464.58h6.62v1.8h-6.62zM302.98 464.58h6.62v1.8h-6.62zM270.1 466.34h6.62v1.8h-6.62zM289.83 466.34h6.62v1.8h-6.62zM302.98 466.34h6.62v1.8h-6.62zM270.1 468.09h6.62v1.8h-6.62zM283.25 468.09h6.62v1.8h-6.62zM289.83 468.09h6.62v1.8h-6.62zM349 468.09h6.62v1.8h-6.62zM289.83 469.84h6.62v1.8h-6.62zM322.7 469.84h6.62v1.8h-6.62zM329.28 469.84h6.62v1.8h-6.62zM342.43 469.84h6.62v1.8h-6.62zM375.3 469.84h6.62v1.8h-6.62zM401.6 469.84h6.62v1.8h-6.62zM289.83 473.34h6.62v1.8h-6.62zM322.7 473.34h6.62v1.8h-6.62zM329.28 473.34h6.62v1.8h-6.62zM342.43 473.34h6.62v1.8h-6.62zM375.3 473.34h6.62v1.8h-6.62zM401.6 473.34h6.62v1.8h-6.62zM289.83 475.1h6.62v1.8h-6.62zM322.7 475.1h6.62v1.8h-6.62zM329.28 475.1h6.62v1.8h-6.62zM342.43 475.1h6.62v1.8h-6.62zM375.3 475.1h6.62v1.8h-6.62zM401.6 475.1h6.62v1.8h-6.62zM329.28 476.85h6.62v1.8h-6.62zM296.4 478.6h6.62v1.8h-6.62zM316.12 478.6h6.62v1.8h-6.62zM329.28 478.6h6.62v1.8h-6.62zM296.4 480.35h6.62v1.8h-6.62zM316.12 480.35h6.62v1.8h-6.62zM342.43 480.35h6.62v1.8h-6.62zM289.83 482.1h6.62v1.8h-6.62zM296.4 482.1h6.62v1.8h-6.62zM316.12 482.1h6.62v1.8h-6.62zM322.7 482.1h6.62v1.8h-6.62zM329.28 482.1h6.62v1.8h-6.62zM342.43 482.1h6.62v1.8h-6.62zM296.4 483.86h6.62v1.8h-6.62zM322.7 483.86h6.62v1.8h-6.62zM329.28 483.86h6.62v1.8h-6.62zM349 490.86h6.62v1.8h-6.62zM283.25 494.37h6.62v1.8h-6.62zM289.83 494.37h6.62v1.8h-6.62zM302.98 494.37h6.62v1.8h-6.62zM349 494.37h6.62v1.8h-6.62zM368.73 494.37h6.62v1.8h-6.62zM375.3 494.37h6.62v1.8h-6.62zM296.4 496.12h6.62v1.8h-6.62zM316.12 496.12h6.62v1.8h-6.62zM329.28 496.12h6.62v1.8h-6.62zM349 496.12h6.62v1.8h-6.62zM388.45 496.12h6.62v1.8h-6.62zM296.4 497.87h6.62v1.8h-6.62zM316.12 497.87h6.62v1.8h-6.62zM296.4 499.62h6.62v1.8h-6.62zM316.12 501.38h6.62v1.8h-6.62zM296.4 503.13h6.62v1.8h-6.62zM316.12 503.13h6.62v1.8h-6.62zM408.18 504.88h6.62v1.8h-6.62zM289.83 511.89h6.62v1.8h-6.62zM427.9 513.64h6.62v1.8h-6.62zM460.77 515.39h6.62v1.8h-6.62zM421.33 517.14h6.62v1.8h-6.62zM427.9 517.14h6.62v1.8h-6.62zM473.93 517.14h6.62v1.8h-6.62zM414.75 518.9h6.62v1.8h-6.62zM421.33 518.9h6.62v1.8h-6.62zM427.9 518.9h6.62v1.8h-6.62zM473.93 518.9h6.62v1.8h-6.62zM427.9 520.65h6.62v1.8h-6.62zM460.77 520.65h6.62v1.8h-6.62z"/>
</g>
<text x="278.75" y="541.3" font-size="10.3" font-weight="bold" font-style="normal" text-anchor="start" fill="#000" textLength="86.25" lengthAdjust="spacingAndGlyphs">CALR Mutation</text>
<rect x="278" y="551.9" width="11.7" height="11.3" fill="#000"/>
<rect x="278" y="566.5" width="11.7" height="11.6" fill="#d2d2d2"/>
<text x="295.8" y="562.3" font-size="10.6" font-weight="normal" font-style="normal" text-anchor="start" fill="#111" textLength="41.1" lengthAdjust="spacingAndGlyphs">Positive</text>
<text x="295.8" y="575.9" font-size="10.6" font-weight="normal" font-style="normal" text-anchor="start" fill="#111" textLength="46.5" lengthAdjust="spacingAndGlyphs">Negative</text>
<text x="382.3" y="539.7" font-size="11" font-weight="bold" font-style="normal" text-anchor="start" fill="#000" textLength="56.6" lengthAdjust="spacingAndGlyphs">Diagnosis</text>
<rect x="381.8" y="549.1" width="10.9" height="10.4" fill="#ee0008"/>
<rect x="381.8" y="563.2" width="10.9" height="10.3" fill="#ff9910"/>
<rect x="381.8" y="576.5" width="10.9" height="10.5" fill="#d3d3d3"/>
<rect x="381.8" y="590.1" width="10.9" height="10.6" fill="#2f2ff6"/>
<text x="396.6" y="559.3" font-size="10.8" font-weight="normal" font-style="normal" text-anchor="start" fill="#000" textLength="13" lengthAdjust="spacingAndGlyphs">ET</text>
<text x="396.6" y="573.6" font-size="10.8" font-weight="normal" font-style="normal" text-anchor="start" fill="#000" textLength="15.5" lengthAdjust="spacingAndGlyphs">MF</text>
<text x="396.6" y="587.1" font-size="10.8" font-weight="normal" font-style="normal" text-anchor="start" fill="#000" textLength="45.3" lengthAdjust="spacingAndGlyphs">NORMAL</text>
<text x="396.6" y="600.4" font-size="10.8" font-weight="normal" font-style="normal" text-anchor="start" fill="#000" textLength="13.4" lengthAdjust="spacingAndGlyphs">PV</text>
<text x="281.2" y="623" font-size="11" font-weight="bold" textLength="138.8" lengthAdjust="spacingAndGlyphs"><tspan font-style="italic">JAK2</tspan>V617F Quantitative</text>
<text x="281.3" y="635" font-size="11.8" font-weight="bold" font-style="normal" text-anchor="start" fill="#000" textLength="63.8" lengthAdjust="spacingAndGlyphs">genotyping</text>
<rect x="278" y="646.4" width="9.8" height="10.8" fill="#ffff33"/>
<text x="291.7" y="655.7" font-size="10" font-weight="normal" font-style="normal" text-anchor="start" fill="#000" textLength="15.7" lengthAdjust="spacingAndGlyphs">WT</text>
</g></svg>
</body></html>
